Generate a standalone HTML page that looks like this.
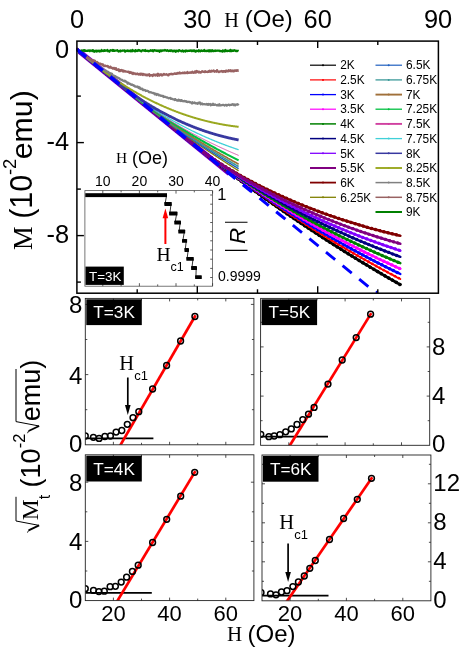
<!DOCTYPE html>
<html><head><meta charset="utf-8"><title>M(H) curves</title>
<style>html,body{margin:0;padding:0;background:#fff}svg{display:block;will-change:transform}</style></head>
<body>
<svg width="460" height="654" viewBox="0 0 460 654">
<rect width="460" height="654" fill="#fff"/>
<defs>
<clipPath id="cm"><rect x="76.9" y="41.1" width="361.5" height="252.1"/></clipPath>
</defs>
<g clip-path="url(#cm)" fill="none" stroke-linejoin="round">
<path d="M79.4,51.6 L229.4,173.6" stroke="#8000ff" stroke-width="5.2"/>
<path d="M79.4,51.6 L229.4,173.6" stroke="#800080" stroke-width="4.2"/>
<path d="M77.0,49.6 L78.6,50.9 L80.2,52.2 L81.9,53.6 L83.5,54.9 L85.1,56.2 L86.7,57.5 L88.4,58.9 L90.0,60.2 L91.6,61.5 L93.2,62.8 L94.9,64.1 L96.5,65.5 L98.1,66.8 L99.7,68.1 L101.4,69.4 L103.0,70.8 L104.6,72.1 L106.2,73.4 L107.9,74.7 L109.5,76.0 L111.1,77.4 L112.7,78.7 L114.4,80.0 L116.0,81.3 L117.6,82.7 L119.2,84.0 L120.9,85.3 L122.5,86.6 L124.1,87.9 L125.7,89.3 L127.4,90.6 L129.0,91.9 L130.6,93.2 L132.2,94.6 L133.9,95.9 L135.5,97.2 L137.1,98.5 L138.7,99.8 L140.4,101.2 L142.0,102.5 L143.6,103.8 L145.2,105.1 L146.9,106.5 L148.5,107.8 L150.1,109.1 L151.7,110.4 L153.4,111.7 L155.0,113.1 L156.6,114.4 L158.2,115.7 L159.9,117.0 L161.5,118.4 L163.1,119.7 L164.7,121.0 L166.4,122.3 L168.0,123.6 L169.6,125.0 L171.2,126.3 L172.8,127.6 L174.5,128.9 L176.1,130.2 L177.7,131.6 L179.3,132.9 L181.0,134.2 L182.6,135.5 L184.2,136.9 L185.8,138.2 L187.5,139.5 L189.1,140.8 L190.7,142.1 L192.3,143.5 L194.0,144.8 L195.6,146.1 L197.2,147.4 L198.8,148.7 L200.5,150.0 L202.1,151.2 L203.7,152.4 L205.3,153.5 L207.0,154.7 L208.6,155.8 L210.2,156.9 L211.8,158.0 L213.5,159.1 L215.1,160.2 L216.7,161.2 L218.3,162.3 L220.0,163.3 L221.6,164.3 L223.2,165.4 L224.8,166.4 L226.5,167.4 L228.1,168.3 L229.7,169.3 L231.3,170.3 L233.0,171.2 L234.6,172.2 L236.2,173.1 L237.8,174.1 L239.5,175.0 L241.1,175.9 L242.7,176.8 L244.3,177.7 L246.0,178.6 L247.6,179.5 L249.2,180.3 L250.8,181.2 L252.5,182.0 L254.1,182.9 L255.7,183.7 L257.3,184.6 L259.0,185.4 L260.6,186.2 L262.2,187.0 L263.8,187.8 L265.4,188.6 L267.1,189.4 L268.7,190.2 L270.3,191.0 L271.9,191.8 L273.6,192.5 L275.2,193.3 L276.8,194.1 L278.4,194.8 L280.1,195.5 L281.7,196.3 L283.3,197.0 L284.9,197.7 L286.6,198.4 L288.2,199.2 L289.8,199.9 L291.4,200.6 L293.1,201.2 L294.7,201.9 L296.3,202.6 L297.9,203.3 L299.6,204.0 L301.2,204.6 L302.8,205.3 L304.4,205.9 L306.1,206.6 L307.7,207.2 L309.3,207.9 L310.9,208.5 L312.6,209.1 L314.2,209.7 L315.8,210.4 L317.4,211.0 L319.1,211.6 L320.7,212.2 L322.3,212.8 L323.9,213.4 L325.6,213.9 L327.2,214.5 L328.8,215.1 L330.4,215.7 L332.1,216.2 L333.7,216.8 L335.3,217.3 L336.9,217.9 L338.6,218.4 L340.2,219.0 L341.8,219.5 L343.4,220.0 L345.1,220.6 L346.7,221.1 L348.3,221.6 L349.9,222.1 L351.5,222.6 L353.2,223.1 L354.8,223.6 L356.4,224.1 L358.0,224.6 L359.7,225.1 L361.3,225.6 L362.9,226.0 L364.5,226.5 L366.2,227.0 L367.8,227.4 L369.4,227.9 L371.0,228.3 L372.7,228.8 L374.3,229.2 L375.9,229.7 L377.5,230.1 L379.2,230.5 L380.8,231.0 L382.4,231.4 L384.0,231.8 L385.7,232.2 L387.3,232.6 L388.9,233.0 L390.5,233.4 L392.2,233.8 L393.8,234.2 L395.4,234.6 L397.0,235.0 L398.7,235.4 L400.3,235.7" stroke="#800000" stroke-width="2.6" stroke-linecap="round"/>
<path d="M77.0,49.6 L78.6,50.9 L80.2,52.2 L81.9,53.6 L83.5,54.9 L85.1,56.2 L86.7,57.5 L88.4,58.9 L90.0,60.2 L91.6,61.5 L93.2,62.8 L94.9,64.1 L96.5,65.5 L98.1,66.8 L99.7,68.1 L101.4,69.4 L103.0,70.8 L104.6,72.1 L106.2,73.4 L107.9,74.7 L109.5,76.0 L111.1,77.4 L112.7,78.7 L114.4,80.0 L116.0,81.3 L117.6,82.7 L119.2,84.0 L120.9,85.3 L122.5,86.6 L124.1,87.9 L125.7,89.3 L127.4,90.6 L129.0,91.9 L130.6,93.2 L132.2,94.6 L133.9,95.9 L135.5,97.2 L137.1,98.5 L138.7,99.8 L140.4,101.2 L142.0,102.5 L143.6,103.8 L145.2,105.1 L146.9,106.5 L148.5,107.8 L150.1,109.1 L151.7,110.4 L153.4,111.7 L155.0,113.1 L156.6,114.4 L158.2,115.7 L159.9,117.0 L161.5,118.4 L163.1,119.7 L164.7,121.0 L166.4,122.3 L168.0,123.6 L169.6,125.0 L171.2,126.3 L172.8,127.6 L174.5,128.9 L176.1,130.2 L177.7,131.6 L179.3,132.9 L181.0,134.2 L182.6,135.5 L184.2,136.9 L185.8,138.2 L187.5,139.5 L189.1,140.8 L190.7,142.1 L192.3,143.5 L194.0,144.8 L195.6,146.1 L197.2,147.4 L198.8,148.7 L200.5,150.0 L202.1,151.2 L203.7,152.4 L205.3,153.5 L207.0,154.7 L208.6,155.8 L210.2,156.9 L211.8,158.0 L213.5,159.1 L215.1,160.2 L216.7,161.2 L218.3,162.3 L220.0,163.3 L221.6,164.3 L223.2,165.4 L224.8,166.4 L226.5,167.4 L228.1,168.3 L229.7,169.3 L231.3,170.3 L233.0,171.2 L234.6,172.2 L236.2,173.1 L237.8,174.1 L239.5,175.0 L241.1,175.9 L242.7,176.8 L244.3,177.7 L246.0,178.6 L247.6,179.5 L249.2,180.3 L250.8,181.2 L252.5,182.0 L254.1,182.9 L255.7,183.7 L257.3,184.6 L259.0,185.4 L260.6,186.2 L262.2,187.0 L263.8,187.8 L265.4,188.6 L267.1,189.4 L268.7,190.2 L270.3,191.0 L271.9,191.8 L273.6,192.5 L275.2,193.3 L276.8,194.1 L278.4,194.8 L280.1,195.5 L281.7,196.3 L283.3,197.0 L284.9,197.7 L286.6,198.4 L288.2,199.2 L289.8,199.9 L291.4,200.6 L293.1,201.2 L294.7,201.9 L296.3,202.6 L297.9,203.3 L299.6,204.0 L301.2,204.6 L302.8,205.3 L304.4,205.9 L306.1,206.6 L307.7,207.2 L309.3,207.9 L310.9,208.5 L312.6,209.1 L314.2,209.7 L315.8,210.4 L317.4,211.0 L319.1,211.6 L320.7,212.2 L322.3,212.8 L323.9,213.4 L325.6,213.9 L327.2,214.5 L328.8,215.1 L330.4,215.7 L332.1,216.2 L333.7,216.8 L335.3,217.3 L336.9,217.9 L338.6,218.4 L340.2,219.0 L341.8,219.5 L343.4,220.0 L345.1,220.6 L346.7,221.1 L348.3,221.6 L349.9,222.1 L351.5,222.6 L353.2,223.1 L354.8,223.6 L356.4,224.1 L358.0,224.6 L359.7,225.1 L361.3,225.6 L362.9,226.0 L364.5,226.5 L366.2,227.0 L367.8,227.4 L369.4,227.9 L371.0,228.3 L372.7,228.8 L374.3,229.2 L375.9,229.7 L377.5,230.1 L379.2,230.5 L380.8,231.0 L382.4,231.4 L384.0,231.8 L385.7,232.2 L387.3,232.6 L388.9,233.0 L390.5,233.4 L392.2,233.8 L393.8,234.2 L395.4,234.6 L397.0,235.0 L398.7,235.4 L400.3,235.7" stroke="#800000" stroke-width="3.4" stroke-linecap="round" stroke-dasharray="0.1,4.2"/>
<path d="M77.0,49.6 L78.6,50.9 L80.2,52.2 L81.9,53.6 L83.5,54.9 L85.1,56.2 L86.7,57.5 L88.4,58.9 L90.0,60.2 L91.6,61.5 L93.2,62.8 L94.9,64.1 L96.5,65.5 L98.1,66.8 L99.7,68.1 L101.4,69.4 L103.0,70.8 L104.6,72.1 L106.2,73.4 L107.9,74.7 L109.5,76.0 L111.1,77.4 L112.7,78.7 L114.4,80.0 L116.0,81.3 L117.6,82.7 L119.2,84.0 L120.9,85.3 L122.5,86.6 L124.1,87.9 L125.7,89.3 L127.4,90.6 L129.0,91.9 L130.6,93.2 L132.2,94.6 L133.9,95.9 L135.5,97.2 L137.1,98.5 L138.7,99.8 L140.4,101.2 L142.0,102.5 L143.6,103.8 L145.2,105.1 L146.9,106.5 L148.5,107.8 L150.1,109.1 L151.7,110.4 L153.4,111.7 L155.0,113.1 L156.6,114.4 L158.2,115.7 L159.9,117.0 L161.5,118.4 L163.1,119.7 L164.7,121.0 L166.4,122.3 L168.0,123.6 L169.6,125.0 L171.2,126.3 L172.8,127.6 L174.5,128.9 L176.1,130.2 L177.7,131.6 L179.3,132.9 L181.0,134.2 L182.6,135.5 L184.2,136.9 L185.8,138.2 L187.5,139.5 L189.1,140.8 L190.7,142.1 L192.3,143.5 L194.0,144.8 L195.6,146.1 L197.2,147.4 L198.8,148.7 L200.5,150.0 L202.1,151.2 L203.7,152.5 L205.3,153.8 L207.0,155.1 L208.6,156.4 L210.2,157.6 L211.8,158.9 L213.5,160.1 L215.1,161.4 L216.7,162.7 L218.3,163.9 L220.0,165.2 L221.6,166.4 L223.2,167.6 L224.8,168.9 L226.5,170.1 L228.1,171.3 L229.7,172.6 L231.3,173.8 L233.0,175.0 L234.6,176.2 L236.2,177.4 L237.8,178.6 L239.5,179.8 L241.1,181.1 L242.7,182.3 L244.3,183.4 L246.0,184.6 L247.6,185.8 L249.2,187.0 L250.8,188.2 L252.5,189.4 L254.1,190.6 L255.7,191.7 L257.3,192.9 L259.0,194.1 L260.6,195.2 L262.2,196.4 L263.8,197.6 L265.4,198.7 L267.1,199.9 L268.7,201.0 L270.3,202.2 L271.9,203.3 L273.6,204.4 L275.2,205.6 L276.8,206.7 L278.4,207.9 L280.1,209.0 L281.7,210.1 L283.3,211.2 L284.9,212.3 L286.6,213.5 L288.2,214.6 L289.8,215.7 L291.4,216.8 L293.1,217.9 L294.7,219.0 L296.3,220.1 L297.9,221.2 L299.6,222.3 L301.2,223.4 L302.8,224.5 L304.4,225.6 L306.1,226.6 L307.7,227.7 L309.3,228.8 L310.9,229.9 L312.6,230.9 L314.2,232.0 L315.8,233.1 L317.4,234.1 L319.1,235.2 L320.7,236.3 L322.3,237.3 L323.9,238.4 L325.6,239.4 L327.2,240.5 L328.8,241.5 L330.4,242.5 L332.1,243.6 L333.7,244.6 L335.3,245.6 L336.9,246.7 L338.6,247.7 L340.2,248.7 L341.8,249.7 L343.4,250.8 L345.1,251.8 L346.7,252.8 L348.3,253.8 L349.9,254.8 L351.5,255.8 L353.2,256.8 L354.8,257.8 L356.4,258.8 L358.0,259.8 L359.7,260.8 L361.3,261.8 L362.9,262.8 L364.5,263.7 L366.2,264.7 L367.8,265.7 L369.4,266.7 L371.0,267.6 L372.7,268.6 L374.3,269.6 L375.9,270.5 L377.5,271.5 L379.2,272.5 L380.8,273.4 L382.4,274.4 L384.0,275.3 L385.7,276.3 L387.3,277.2 L388.9,278.2 L390.5,279.1 L392.2,280.0 L393.8,281.0 L395.4,281.9 L397.0,282.8 L398.7,283.8 L400.3,284.7" stroke="#000000" stroke-width="2.7" stroke-linecap="round"/>
<path d="M77.0,49.6 L78.6,50.9 L80.2,52.2 L81.9,53.6 L83.5,54.9 L85.1,56.2 L86.7,57.5 L88.4,58.9 L90.0,60.2 L91.6,61.5 L93.2,62.8 L94.9,64.1 L96.5,65.5 L98.1,66.8 L99.7,68.1 L101.4,69.4 L103.0,70.8 L104.6,72.1 L106.2,73.4 L107.9,74.7 L109.5,76.0 L111.1,77.4 L112.7,78.7 L114.4,80.0 L116.0,81.3 L117.6,82.7 L119.2,84.0 L120.9,85.3 L122.5,86.6 L124.1,87.9 L125.7,89.3 L127.4,90.6 L129.0,91.9 L130.6,93.2 L132.2,94.6 L133.9,95.9 L135.5,97.2 L137.1,98.5 L138.7,99.8 L140.4,101.2 L142.0,102.5 L143.6,103.8 L145.2,105.1 L146.9,106.5 L148.5,107.8 L150.1,109.1 L151.7,110.4 L153.4,111.7 L155.0,113.1 L156.6,114.4 L158.2,115.7 L159.9,117.0 L161.5,118.4 L163.1,119.7 L164.7,121.0 L166.4,122.3 L168.0,123.6 L169.6,125.0 L171.2,126.3 L172.8,127.6 L174.5,128.9 L176.1,130.2 L177.7,131.6 L179.3,132.9 L181.0,134.2 L182.6,135.5 L184.2,136.9 L185.8,138.2 L187.5,139.5 L189.1,140.8 L190.7,142.1 L192.3,143.5 L194.0,144.8 L195.6,146.1 L197.2,147.4 L198.8,148.7 L200.5,150.0 L202.1,151.2 L203.7,152.5 L205.3,153.8 L207.0,155.1 L208.6,156.4 L210.2,157.6 L211.8,158.9 L213.5,160.1 L215.1,161.4 L216.7,162.7 L218.3,163.9 L220.0,165.2 L221.6,166.4 L223.2,167.6 L224.8,168.9 L226.5,170.1 L228.1,171.3 L229.7,172.6 L231.3,173.8 L233.0,175.0 L234.6,176.2 L236.2,177.4 L237.8,178.6 L239.5,179.8 L241.1,181.1 L242.7,182.3 L244.3,183.4 L246.0,184.6 L247.6,185.8 L249.2,187.0 L250.8,188.2 L252.5,189.4 L254.1,190.6 L255.7,191.7 L257.3,192.9 L259.0,194.1 L260.6,195.2 L262.2,196.4 L263.8,197.6 L265.4,198.7 L267.1,199.9 L268.7,201.0 L270.3,202.2 L271.9,203.3 L273.6,204.4 L275.2,205.6 L276.8,206.7 L278.4,207.9 L280.1,209.0 L281.7,210.1 L283.3,211.2 L284.9,212.3 L286.6,213.5 L288.2,214.6 L289.8,215.7 L291.4,216.8 L293.1,217.9 L294.7,219.0 L296.3,220.1 L297.9,221.2 L299.6,222.3 L301.2,223.4 L302.8,224.5 L304.4,225.6 L306.1,226.6 L307.7,227.7 L309.3,228.8 L310.9,229.9 L312.6,230.9 L314.2,232.0 L315.8,233.1 L317.4,234.1 L319.1,235.2 L320.7,236.3 L322.3,237.3 L323.9,238.4 L325.6,239.4 L327.2,240.5 L328.8,241.5 L330.4,242.5 L332.1,243.6 L333.7,244.6 L335.3,245.6 L336.9,246.7 L338.6,247.7 L340.2,248.7 L341.8,249.7 L343.4,250.8 L345.1,251.8 L346.7,252.8 L348.3,253.8 L349.9,254.8 L351.5,255.8 L353.2,256.8 L354.8,257.8 L356.4,258.8 L358.0,259.8 L359.7,260.8 L361.3,261.8 L362.9,262.8 L364.5,263.7 L366.2,264.7 L367.8,265.7 L369.4,266.7 L371.0,267.6 L372.7,268.6 L374.3,269.6 L375.9,270.5 L377.5,271.5 L379.2,272.5 L380.8,273.4 L382.4,274.4 L384.0,275.3 L385.7,276.3 L387.3,277.2 L388.9,278.2 L390.5,279.1 L392.2,280.0 L393.8,281.0 L395.4,281.9 L397.0,282.8 L398.7,283.8 L400.3,284.7" stroke="#000000" stroke-width="3.5" stroke-linecap="round" stroke-dasharray="0.1,4.2"/>
<path d="M77.0,49.6 L78.6,50.9 L80.2,52.2 L81.9,53.6 L83.5,54.9 L85.1,56.2 L86.7,57.5 L88.4,58.9 L90.0,60.2 L91.6,61.5 L93.2,62.8 L94.9,64.1 L96.5,65.5 L98.1,66.8 L99.7,68.1 L101.4,69.4 L103.0,70.8 L104.6,72.1 L106.2,73.4 L107.9,74.7 L109.5,76.0 L111.1,77.4 L112.7,78.7 L114.4,80.0 L116.0,81.3 L117.6,82.7 L119.2,84.0 L120.9,85.3 L122.5,86.6 L124.1,87.9 L125.7,89.3 L127.4,90.6 L129.0,91.9 L130.6,93.2 L132.2,94.6 L133.9,95.9 L135.5,97.2 L137.1,98.5 L138.7,99.8 L140.4,101.2 L142.0,102.5 L143.6,103.8 L145.2,105.1 L146.9,106.5 L148.5,107.8 L150.1,109.1 L151.7,110.4 L153.4,111.7 L155.0,113.1 L156.6,114.4 L158.2,115.7 L159.9,117.0 L161.5,118.4 L163.1,119.7 L164.7,121.0 L166.4,122.3 L168.0,123.6 L169.6,125.0 L171.2,126.3 L172.8,127.6 L174.5,128.9 L176.1,130.2 L177.7,131.6 L179.3,132.9 L181.0,134.2 L182.6,135.5 L184.2,136.9 L185.8,138.2 L187.5,139.5 L189.1,140.8 L190.7,142.1 L192.3,143.5 L194.0,144.8 L195.6,146.1 L197.2,147.4 L198.8,148.7 L200.5,149.9 L202.1,151.2 L203.7,152.5 L205.3,153.8 L207.0,155.0 L208.6,156.3 L210.2,157.5 L211.8,158.8 L213.5,160.0 L215.1,161.3 L216.7,162.5 L218.3,163.7 L220.0,165.0 L221.6,166.2 L223.2,167.4 L224.8,168.6 L226.5,169.8 L228.1,171.0 L229.7,172.3 L231.3,173.5 L233.0,174.6 L234.6,175.8 L236.2,177.0 L237.8,178.2 L239.5,179.4 L241.1,180.6 L242.7,181.7 L244.3,182.9 L246.0,184.1 L247.6,185.2 L249.2,186.4 L250.8,187.5 L252.5,188.7 L254.1,189.8 L255.7,191.0 L257.3,192.1 L259.0,193.2 L260.6,194.4 L262.2,195.5 L263.8,196.6 L265.4,197.7 L267.1,198.8 L268.7,200.0 L270.3,201.1 L271.9,202.2 L273.6,203.3 L275.2,204.4 L276.8,205.5 L278.4,206.5 L280.1,207.6 L281.7,208.7 L283.3,209.8 L284.9,210.9 L286.6,211.9 L288.2,213.0 L289.8,214.1 L291.4,215.1 L293.1,216.2 L294.7,217.3 L296.3,218.3 L297.9,219.4 L299.6,220.4 L301.2,221.4 L302.8,222.5 L304.4,223.5 L306.1,224.6 L307.7,225.6 L309.3,226.6 L310.9,227.6 L312.6,228.7 L314.2,229.7 L315.8,230.7 L317.4,231.7 L319.1,232.7 L320.7,233.7 L322.3,234.7 L323.9,235.7 L325.6,236.7 L327.2,237.7 L328.8,238.7 L330.4,239.6 L332.1,240.6 L333.7,241.6 L335.3,242.6 L336.9,243.6 L338.6,244.5 L340.2,245.5 L341.8,246.4 L343.4,247.4 L345.1,248.4 L346.7,249.3 L348.3,250.3 L349.9,251.2 L351.5,252.1 L353.2,253.1 L354.8,254.0 L356.4,255.0 L358.0,255.9 L359.7,256.8 L361.3,257.7 L362.9,258.7 L364.5,259.6 L366.2,260.5 L367.8,261.4 L369.4,262.3 L371.0,263.2 L372.7,264.1 L374.3,265.0 L375.9,265.9 L377.5,266.8 L379.2,267.7 L380.8,268.6 L382.4,269.5 L384.0,270.3 L385.7,271.2 L387.3,272.1 L388.9,273.0 L390.5,273.8 L392.2,274.7 L393.8,275.6 L395.4,276.4 L397.0,277.3 L398.7,278.1 L400.3,279.0" stroke="#ff0000" stroke-width="1.9" stroke-linecap="round"/>
<path d="M77.0,49.6 L78.6,50.9 L80.2,52.2 L81.9,53.6 L83.5,54.9 L85.1,56.2 L86.7,57.5 L88.4,58.9 L90.0,60.2 L91.6,61.5 L93.2,62.8 L94.9,64.1 L96.5,65.5 L98.1,66.8 L99.7,68.1 L101.4,69.4 L103.0,70.8 L104.6,72.1 L106.2,73.4 L107.9,74.7 L109.5,76.0 L111.1,77.4 L112.7,78.7 L114.4,80.0 L116.0,81.3 L117.6,82.7 L119.2,84.0 L120.9,85.3 L122.5,86.6 L124.1,87.9 L125.7,89.3 L127.4,90.6 L129.0,91.9 L130.6,93.2 L132.2,94.6 L133.9,95.9 L135.5,97.2 L137.1,98.5 L138.7,99.8 L140.4,101.2 L142.0,102.5 L143.6,103.8 L145.2,105.1 L146.9,106.5 L148.5,107.8 L150.1,109.1 L151.7,110.4 L153.4,111.7 L155.0,113.1 L156.6,114.4 L158.2,115.7 L159.9,117.0 L161.5,118.4 L163.1,119.7 L164.7,121.0 L166.4,122.3 L168.0,123.6 L169.6,125.0 L171.2,126.3 L172.8,127.6 L174.5,128.9 L176.1,130.2 L177.7,131.6 L179.3,132.9 L181.0,134.2 L182.6,135.5 L184.2,136.9 L185.8,138.2 L187.5,139.5 L189.1,140.8 L190.7,142.1 L192.3,143.5 L194.0,144.8 L195.6,146.1 L197.2,147.4 L198.8,148.7 L200.5,149.9 L202.1,151.2 L203.7,152.5 L205.3,153.8 L207.0,155.0 L208.6,156.3 L210.2,157.5 L211.8,158.8 L213.5,160.0 L215.1,161.3 L216.7,162.5 L218.3,163.7 L220.0,165.0 L221.6,166.2 L223.2,167.4 L224.8,168.6 L226.5,169.8 L228.1,171.0 L229.7,172.3 L231.3,173.5 L233.0,174.6 L234.6,175.8 L236.2,177.0 L237.8,178.2 L239.5,179.4 L241.1,180.6 L242.7,181.7 L244.3,182.9 L246.0,184.1 L247.6,185.2 L249.2,186.4 L250.8,187.5 L252.5,188.7 L254.1,189.8 L255.7,191.0 L257.3,192.1 L259.0,193.2 L260.6,194.4 L262.2,195.5 L263.8,196.6 L265.4,197.7 L267.1,198.8 L268.7,200.0 L270.3,201.1 L271.9,202.2 L273.6,203.3 L275.2,204.4 L276.8,205.5 L278.4,206.5 L280.1,207.6 L281.7,208.7 L283.3,209.8 L284.9,210.9 L286.6,211.9 L288.2,213.0 L289.8,214.1 L291.4,215.1 L293.1,216.2 L294.7,217.3 L296.3,218.3 L297.9,219.4 L299.6,220.4 L301.2,221.4 L302.8,222.5 L304.4,223.5 L306.1,224.6 L307.7,225.6 L309.3,226.6 L310.9,227.6 L312.6,228.7 L314.2,229.7 L315.8,230.7 L317.4,231.7 L319.1,232.7 L320.7,233.7 L322.3,234.7 L323.9,235.7 L325.6,236.7 L327.2,237.7 L328.8,238.7 L330.4,239.6 L332.1,240.6 L333.7,241.6 L335.3,242.6 L336.9,243.6 L338.6,244.5 L340.2,245.5 L341.8,246.4 L343.4,247.4 L345.1,248.4 L346.7,249.3 L348.3,250.3 L349.9,251.2 L351.5,252.1 L353.2,253.1 L354.8,254.0 L356.4,255.0 L358.0,255.9 L359.7,256.8 L361.3,257.7 L362.9,258.7 L364.5,259.6 L366.2,260.5 L367.8,261.4 L369.4,262.3 L371.0,263.2 L372.7,264.1 L374.3,265.0 L375.9,265.9 L377.5,266.8 L379.2,267.7 L380.8,268.6 L382.4,269.5 L384.0,270.3 L385.7,271.2 L387.3,272.1 L388.9,273.0 L390.5,273.8 L392.2,274.7 L393.8,275.6 L395.4,276.4 L397.0,277.3 L398.7,278.1 L400.3,279.0" stroke="#ff0000" stroke-width="2.7" stroke-linecap="round" stroke-dasharray="0.1,4.2"/>
<path d="M77.0,49.6 L78.6,50.9 L80.2,52.2 L81.9,53.6 L83.5,54.9 L85.1,56.2 L86.7,57.5 L88.4,58.9 L90.0,60.2 L91.6,61.5 L93.2,62.8 L94.9,64.1 L96.5,65.5 L98.1,66.8 L99.7,68.1 L101.4,69.4 L103.0,70.8 L104.6,72.1 L106.2,73.4 L107.9,74.7 L109.5,76.0 L111.1,77.4 L112.7,78.7 L114.4,80.0 L116.0,81.3 L117.6,82.7 L119.2,84.0 L120.9,85.3 L122.5,86.6 L124.1,87.9 L125.7,89.3 L127.4,90.6 L129.0,91.9 L130.6,93.2 L132.2,94.6 L133.9,95.9 L135.5,97.2 L137.1,98.5 L138.7,99.8 L140.4,101.2 L142.0,102.5 L143.6,103.8 L145.2,105.1 L146.9,106.5 L148.5,107.8 L150.1,109.1 L151.7,110.4 L153.4,111.7 L155.0,113.1 L156.6,114.4 L158.2,115.7 L159.9,117.0 L161.5,118.4 L163.1,119.7 L164.7,121.0 L166.4,122.3 L168.0,123.6 L169.6,125.0 L171.2,126.3 L172.8,127.6 L174.5,128.9 L176.1,130.2 L177.7,131.6 L179.3,132.9 L181.0,134.2 L182.6,135.5 L184.2,136.9 L185.8,138.2 L187.5,139.5 L189.1,140.8 L190.7,142.1 L192.3,143.5 L194.0,144.8 L195.6,146.1 L197.2,147.4 L198.8,148.7 L200.5,149.9 L202.1,151.2 L203.7,152.5 L205.3,153.7 L207.0,155.0 L208.6,156.2 L210.2,157.5 L211.8,158.7 L213.5,159.9 L215.1,161.2 L216.7,162.4 L218.3,163.6 L220.0,164.8 L221.6,166.0 L223.2,167.2 L224.8,168.4 L226.5,169.6 L228.1,170.8 L229.7,172.0 L231.3,173.1 L233.0,174.3 L234.6,175.5 L236.2,176.6 L237.8,177.8 L239.5,178.9 L241.1,180.1 L242.7,181.2 L244.3,182.4 L246.0,183.5 L247.6,184.6 L249.2,185.8 L250.8,186.9 L252.5,188.0 L254.1,189.1 L255.7,190.2 L257.3,191.3 L259.0,192.4 L260.6,193.5 L262.2,194.6 L263.8,195.7 L265.4,196.8 L267.1,197.9 L268.7,199.0 L270.3,200.0 L271.9,201.1 L273.6,202.2 L275.2,203.2 L276.8,204.3 L278.4,205.3 L280.1,206.4 L281.7,207.4 L283.3,208.5 L284.9,209.5 L286.6,210.5 L288.2,211.6 L289.8,212.6 L291.4,213.6 L293.1,214.6 L294.7,215.7 L296.3,216.7 L297.9,217.7 L299.6,218.7 L301.2,219.7 L302.8,220.7 L304.4,221.7 L306.1,222.7 L307.7,223.6 L309.3,224.6 L310.9,225.6 L312.6,226.6 L314.2,227.5 L315.8,228.5 L317.4,229.5 L319.1,230.4 L320.7,231.4 L322.3,232.3 L323.9,233.3 L325.6,234.2 L327.2,235.2 L328.8,236.1 L330.4,237.0 L332.1,238.0 L333.7,238.9 L335.3,239.8 L336.9,240.7 L338.6,241.7 L340.2,242.6 L341.8,243.5 L343.4,244.4 L345.1,245.3 L346.7,246.2 L348.3,247.1 L349.9,248.0 L351.5,248.9 L353.2,249.8 L354.8,250.6 L356.4,251.5 L358.0,252.4 L359.7,253.3 L361.3,254.1 L362.9,255.0 L364.5,255.9 L366.2,256.7 L367.8,257.6 L369.4,258.4 L371.0,259.3 L372.7,260.1 L374.3,261.0 L375.9,261.8 L377.5,262.7 L379.2,263.5 L380.8,264.3 L382.4,265.1 L384.0,266.0 L385.7,266.8 L387.3,267.6 L388.9,268.4 L390.5,269.2 L392.2,270.0 L393.8,270.8 L395.4,271.6 L397.0,272.4 L398.7,273.2 L400.3,274.0" stroke="#0000ff" stroke-width="2.5" stroke-linecap="round"/>
<path d="M77.0,49.6 L78.6,50.9 L80.2,52.2 L81.9,53.6 L83.5,54.9 L85.1,56.2 L86.7,57.5 L88.4,58.9 L90.0,60.2 L91.6,61.5 L93.2,62.8 L94.9,64.1 L96.5,65.5 L98.1,66.8 L99.7,68.1 L101.4,69.4 L103.0,70.8 L104.6,72.1 L106.2,73.4 L107.9,74.7 L109.5,76.0 L111.1,77.4 L112.7,78.7 L114.4,80.0 L116.0,81.3 L117.6,82.7 L119.2,84.0 L120.9,85.3 L122.5,86.6 L124.1,87.9 L125.7,89.3 L127.4,90.6 L129.0,91.9 L130.6,93.2 L132.2,94.6 L133.9,95.9 L135.5,97.2 L137.1,98.5 L138.7,99.8 L140.4,101.2 L142.0,102.5 L143.6,103.8 L145.2,105.1 L146.9,106.5 L148.5,107.8 L150.1,109.1 L151.7,110.4 L153.4,111.7 L155.0,113.1 L156.6,114.4 L158.2,115.7 L159.9,117.0 L161.5,118.4 L163.1,119.7 L164.7,121.0 L166.4,122.3 L168.0,123.6 L169.6,125.0 L171.2,126.3 L172.8,127.6 L174.5,128.9 L176.1,130.2 L177.7,131.6 L179.3,132.9 L181.0,134.2 L182.6,135.5 L184.2,136.9 L185.8,138.2 L187.5,139.5 L189.1,140.8 L190.7,142.1 L192.3,143.5 L194.0,144.8 L195.6,146.1 L197.2,147.4 L198.8,148.7 L200.5,149.9 L202.1,151.2 L203.7,152.5 L205.3,153.7 L207.0,155.0 L208.6,156.2 L210.2,157.5 L211.8,158.7 L213.5,159.9 L215.1,161.2 L216.7,162.4 L218.3,163.6 L220.0,164.8 L221.6,166.0 L223.2,167.2 L224.8,168.4 L226.5,169.6 L228.1,170.8 L229.7,172.0 L231.3,173.1 L233.0,174.3 L234.6,175.5 L236.2,176.6 L237.8,177.8 L239.5,178.9 L241.1,180.1 L242.7,181.2 L244.3,182.4 L246.0,183.5 L247.6,184.6 L249.2,185.8 L250.8,186.9 L252.5,188.0 L254.1,189.1 L255.7,190.2 L257.3,191.3 L259.0,192.4 L260.6,193.5 L262.2,194.6 L263.8,195.7 L265.4,196.8 L267.1,197.9 L268.7,199.0 L270.3,200.0 L271.9,201.1 L273.6,202.2 L275.2,203.2 L276.8,204.3 L278.4,205.3 L280.1,206.4 L281.7,207.4 L283.3,208.5 L284.9,209.5 L286.6,210.5 L288.2,211.6 L289.8,212.6 L291.4,213.6 L293.1,214.6 L294.7,215.7 L296.3,216.7 L297.9,217.7 L299.6,218.7 L301.2,219.7 L302.8,220.7 L304.4,221.7 L306.1,222.7 L307.7,223.6 L309.3,224.6 L310.9,225.6 L312.6,226.6 L314.2,227.5 L315.8,228.5 L317.4,229.5 L319.1,230.4 L320.7,231.4 L322.3,232.3 L323.9,233.3 L325.6,234.2 L327.2,235.2 L328.8,236.1 L330.4,237.0 L332.1,238.0 L333.7,238.9 L335.3,239.8 L336.9,240.7 L338.6,241.7 L340.2,242.6 L341.8,243.5 L343.4,244.4 L345.1,245.3 L346.7,246.2 L348.3,247.1 L349.9,248.0 L351.5,248.9 L353.2,249.8 L354.8,250.6 L356.4,251.5 L358.0,252.4 L359.7,253.3 L361.3,254.1 L362.9,255.0 L364.5,255.9 L366.2,256.7 L367.8,257.6 L369.4,258.4 L371.0,259.3 L372.7,260.1 L374.3,261.0 L375.9,261.8 L377.5,262.7 L379.2,263.5 L380.8,264.3 L382.4,265.1 L384.0,266.0 L385.7,266.8 L387.3,267.6 L388.9,268.4 L390.5,269.2 L392.2,270.0 L393.8,270.8 L395.4,271.6 L397.0,272.4 L398.7,273.2 L400.3,274.0" stroke="#0000ff" stroke-width="3.3" stroke-linecap="round" stroke-dasharray="0.1,4.2"/>
<path d="M77.0,49.6 L78.6,50.9 L80.2,52.2 L81.9,53.6 L83.5,54.9 L85.1,56.2 L86.7,57.5 L88.4,58.9 L90.0,60.2 L91.6,61.5 L93.2,62.8 L94.9,64.1 L96.5,65.5 L98.1,66.8 L99.7,68.1 L101.4,69.4 L103.0,70.8 L104.6,72.1 L106.2,73.4 L107.9,74.7 L109.5,76.0 L111.1,77.4 L112.7,78.7 L114.4,80.0 L116.0,81.3 L117.6,82.7 L119.2,84.0 L120.9,85.3 L122.5,86.6 L124.1,87.9 L125.7,89.3 L127.4,90.6 L129.0,91.9 L130.6,93.2 L132.2,94.6 L133.9,95.9 L135.5,97.2 L137.1,98.5 L138.7,99.8 L140.4,101.2 L142.0,102.5 L143.6,103.8 L145.2,105.1 L146.9,106.5 L148.5,107.8 L150.1,109.1 L151.7,110.4 L153.4,111.7 L155.0,113.1 L156.6,114.4 L158.2,115.7 L159.9,117.0 L161.5,118.4 L163.1,119.7 L164.7,121.0 L166.4,122.3 L168.0,123.6 L169.6,125.0 L171.2,126.3 L172.8,127.6 L174.5,128.9 L176.1,130.2 L177.7,131.6 L179.3,132.9 L181.0,134.2 L182.6,135.5 L184.2,136.9 L185.8,138.2 L187.5,139.5 L189.1,140.8 L190.7,142.1 L192.3,143.5 L194.0,144.8 L195.6,146.1 L197.2,147.4 L198.8,148.7 L200.5,149.9 L202.1,151.2 L203.7,152.4 L205.3,153.7 L207.0,154.9 L208.6,156.2 L210.2,157.4 L211.8,158.6 L213.5,159.8 L215.1,161.0 L216.7,162.2 L218.3,163.4 L220.0,164.6 L221.6,165.8 L223.2,167.0 L224.8,168.2 L226.5,169.3 L228.1,170.5 L229.7,171.6 L231.3,172.8 L233.0,173.9 L234.6,175.1 L236.2,176.2 L237.8,177.3 L239.5,178.5 L241.1,179.6 L242.7,180.7 L244.3,181.8 L246.0,182.9 L247.6,184.0 L249.2,185.1 L250.8,186.2 L252.5,187.3 L254.1,188.4 L255.7,189.4 L257.3,190.5 L259.0,191.6 L260.6,192.6 L262.2,193.7 L263.8,194.7 L265.4,195.8 L267.1,196.8 L268.7,197.9 L270.3,198.9 L271.9,199.9 L273.6,201.0 L275.2,202.0 L276.8,203.0 L278.4,204.0 L280.1,205.0 L281.7,206.0 L283.3,207.0 L284.9,208.0 L286.6,209.0 L288.2,210.0 L289.8,211.0 L291.4,212.0 L293.1,212.9 L294.7,213.9 L296.3,214.9 L297.9,215.9 L299.6,216.8 L301.2,217.8 L302.8,218.7 L304.4,219.7 L306.1,220.6 L307.7,221.5 L309.3,222.5 L310.9,223.4 L312.6,224.3 L314.2,225.3 L315.8,226.2 L317.4,227.1 L319.1,228.0 L320.7,228.9 L322.3,229.8 L323.9,230.7 L325.6,231.6 L327.2,232.5 L328.8,233.4 L330.4,234.3 L332.1,235.1 L333.7,236.0 L335.3,236.9 L336.9,237.8 L338.6,238.6 L340.2,239.5 L341.8,240.3 L343.4,241.2 L345.1,242.1 L346.7,242.9 L348.3,243.7 L349.9,244.6 L351.5,245.4 L353.2,246.2 L354.8,247.1 L356.4,247.9 L358.0,248.7 L359.7,249.5 L361.3,250.3 L362.9,251.2 L364.5,252.0 L366.2,252.8 L367.8,253.6 L369.4,254.4 L371.0,255.2 L372.7,255.9 L374.3,256.7 L375.9,257.5 L377.5,258.3 L379.2,259.1 L380.8,259.8 L382.4,260.6 L384.0,261.4 L385.7,262.1 L387.3,262.9 L388.9,263.6 L390.5,264.4 L392.2,265.1 L393.8,265.9 L395.4,266.6 L397.0,267.4 L398.7,268.1 L400.3,268.8" stroke="#ff00ff" stroke-width="2.5" stroke-linecap="round"/>
<path d="M77.0,49.6 L78.6,50.9 L80.2,52.2 L81.9,53.6 L83.5,54.9 L85.1,56.2 L86.7,57.5 L88.4,58.9 L90.0,60.2 L91.6,61.5 L93.2,62.8 L94.9,64.1 L96.5,65.5 L98.1,66.8 L99.7,68.1 L101.4,69.4 L103.0,70.8 L104.6,72.1 L106.2,73.4 L107.9,74.7 L109.5,76.0 L111.1,77.4 L112.7,78.7 L114.4,80.0 L116.0,81.3 L117.6,82.7 L119.2,84.0 L120.9,85.3 L122.5,86.6 L124.1,87.9 L125.7,89.3 L127.4,90.6 L129.0,91.9 L130.6,93.2 L132.2,94.6 L133.9,95.9 L135.5,97.2 L137.1,98.5 L138.7,99.8 L140.4,101.2 L142.0,102.5 L143.6,103.8 L145.2,105.1 L146.9,106.5 L148.5,107.8 L150.1,109.1 L151.7,110.4 L153.4,111.7 L155.0,113.1 L156.6,114.4 L158.2,115.7 L159.9,117.0 L161.5,118.4 L163.1,119.7 L164.7,121.0 L166.4,122.3 L168.0,123.6 L169.6,125.0 L171.2,126.3 L172.8,127.6 L174.5,128.9 L176.1,130.2 L177.7,131.6 L179.3,132.9 L181.0,134.2 L182.6,135.5 L184.2,136.9 L185.8,138.2 L187.5,139.5 L189.1,140.8 L190.7,142.1 L192.3,143.5 L194.0,144.8 L195.6,146.1 L197.2,147.4 L198.8,148.7 L200.5,149.9 L202.1,151.2 L203.7,152.4 L205.3,153.7 L207.0,154.9 L208.6,156.2 L210.2,157.4 L211.8,158.6 L213.5,159.8 L215.1,161.0 L216.7,162.2 L218.3,163.4 L220.0,164.6 L221.6,165.8 L223.2,167.0 L224.8,168.2 L226.5,169.3 L228.1,170.5 L229.7,171.6 L231.3,172.8 L233.0,173.9 L234.6,175.1 L236.2,176.2 L237.8,177.3 L239.5,178.5 L241.1,179.6 L242.7,180.7 L244.3,181.8 L246.0,182.9 L247.6,184.0 L249.2,185.1 L250.8,186.2 L252.5,187.3 L254.1,188.4 L255.7,189.4 L257.3,190.5 L259.0,191.6 L260.6,192.6 L262.2,193.7 L263.8,194.7 L265.4,195.8 L267.1,196.8 L268.7,197.9 L270.3,198.9 L271.9,199.9 L273.6,201.0 L275.2,202.0 L276.8,203.0 L278.4,204.0 L280.1,205.0 L281.7,206.0 L283.3,207.0 L284.9,208.0 L286.6,209.0 L288.2,210.0 L289.8,211.0 L291.4,212.0 L293.1,212.9 L294.7,213.9 L296.3,214.9 L297.9,215.9 L299.6,216.8 L301.2,217.8 L302.8,218.7 L304.4,219.7 L306.1,220.6 L307.7,221.5 L309.3,222.5 L310.9,223.4 L312.6,224.3 L314.2,225.3 L315.8,226.2 L317.4,227.1 L319.1,228.0 L320.7,228.9 L322.3,229.8 L323.9,230.7 L325.6,231.6 L327.2,232.5 L328.8,233.4 L330.4,234.3 L332.1,235.1 L333.7,236.0 L335.3,236.9 L336.9,237.8 L338.6,238.6 L340.2,239.5 L341.8,240.3 L343.4,241.2 L345.1,242.1 L346.7,242.9 L348.3,243.7 L349.9,244.6 L351.5,245.4 L353.2,246.2 L354.8,247.1 L356.4,247.9 L358.0,248.7 L359.7,249.5 L361.3,250.3 L362.9,251.2 L364.5,252.0 L366.2,252.8 L367.8,253.6 L369.4,254.4 L371.0,255.2 L372.7,255.9 L374.3,256.7 L375.9,257.5 L377.5,258.3 L379.2,259.1 L380.8,259.8 L382.4,260.6 L384.0,261.4 L385.7,262.1 L387.3,262.9 L388.9,263.6 L390.5,264.4 L392.2,265.1 L393.8,265.9 L395.4,266.6 L397.0,267.4 L398.7,268.1 L400.3,268.8" stroke="#ff00ff" stroke-width="3.3" stroke-linecap="round" stroke-dasharray="0.1,4.2"/>
<path d="M77.0,49.6 L78.6,50.9 L80.2,52.2 L81.9,53.6 L83.5,54.9 L85.1,56.2 L86.7,57.5 L88.4,58.9 L90.0,60.2 L91.6,61.5 L93.2,62.8 L94.9,64.1 L96.5,65.5 L98.1,66.8 L99.7,68.1 L101.4,69.4 L103.0,70.8 L104.6,72.1 L106.2,73.4 L107.9,74.7 L109.5,76.0 L111.1,77.4 L112.7,78.7 L114.4,80.0 L116.0,81.3 L117.6,82.7 L119.2,84.0 L120.9,85.3 L122.5,86.6 L124.1,87.9 L125.7,89.3 L127.4,90.6 L129.0,91.9 L130.6,93.2 L132.2,94.6 L133.9,95.9 L135.5,97.2 L137.1,98.5 L138.7,99.8 L140.4,101.2 L142.0,102.5 L143.6,103.8 L145.2,105.1 L146.9,106.5 L148.5,107.8 L150.1,109.1 L151.7,110.4 L153.4,111.7 L155.0,113.1 L156.6,114.4 L158.2,115.7 L159.9,117.0 L161.5,118.4 L163.1,119.7 L164.7,121.0 L166.4,122.3 L168.0,123.6 L169.6,125.0 L171.2,126.3 L172.8,127.6 L174.5,128.9 L176.1,130.2 L177.7,131.6 L179.3,132.9 L181.0,134.2 L182.6,135.5 L184.2,136.9 L185.8,138.2 L187.5,139.5 L189.1,140.8 L190.7,142.1 L192.3,143.5 L194.0,144.8 L195.6,146.1 L197.2,147.4 L198.8,148.7 L200.5,149.9 L202.1,151.2 L203.7,152.4 L205.3,153.6 L207.0,154.9 L208.6,156.1 L210.2,157.3 L211.8,158.5 L213.5,159.7 L215.1,160.9 L216.7,162.1 L218.3,163.2 L220.0,164.4 L221.6,165.6 L223.2,166.7 L224.8,167.9 L226.5,169.0 L228.1,170.1 L229.7,171.3 L231.3,172.4 L233.0,173.5 L234.6,174.6 L236.2,175.7 L237.8,176.8 L239.5,177.9 L241.1,179.0 L242.7,180.1 L244.3,181.2 L246.0,182.2 L247.6,183.3 L249.2,184.4 L250.8,185.4 L252.5,186.5 L254.1,187.5 L255.7,188.5 L257.3,189.6 L259.0,190.6 L260.6,191.6 L262.2,192.6 L263.8,193.7 L265.4,194.7 L267.1,195.7 L268.7,196.7 L270.3,197.7 L271.9,198.6 L273.6,199.6 L275.2,200.6 L276.8,201.6 L278.4,202.5 L280.1,203.5 L281.7,204.5 L283.3,205.4 L284.9,206.4 L286.6,207.3 L288.2,208.3 L289.8,209.2 L291.4,210.1 L293.1,211.1 L294.7,212.0 L296.3,212.9 L297.9,213.8 L299.6,214.7 L301.2,215.6 L302.8,216.5 L304.4,217.4 L306.1,218.3 L307.7,219.2 L309.3,220.1 L310.9,221.0 L312.6,221.8 L314.2,222.7 L315.8,223.6 L317.4,224.4 L319.1,225.3 L320.7,226.2 L322.3,227.0 L323.9,227.8 L325.6,228.7 L327.2,229.5 L328.8,230.4 L330.4,231.2 L332.1,232.0 L333.7,232.8 L335.3,233.6 L336.9,234.5 L338.6,235.3 L340.2,236.1 L341.8,236.9 L343.4,237.7 L345.1,238.5 L346.7,239.3 L348.3,240.0 L349.9,240.8 L351.5,241.6 L353.2,242.4 L354.8,243.1 L356.4,243.9 L358.0,244.7 L359.7,245.4 L361.3,246.2 L362.9,246.9 L364.5,247.7 L366.2,248.4 L367.8,249.2 L369.4,249.9 L371.0,250.6 L372.7,251.3 L374.3,252.1 L375.9,252.8 L377.5,253.5 L379.2,254.2 L380.8,254.9 L382.4,255.6 L384.0,256.3 L385.7,257.0 L387.3,257.7 L388.9,258.4 L390.5,259.1 L392.2,259.8 L393.8,260.5 L395.4,261.1 L397.0,261.8 L398.7,262.5 L400.3,263.1" stroke="#008000" stroke-width="2.5" stroke-linecap="round"/>
<path d="M77.0,49.6 L78.6,50.9 L80.2,52.2 L81.9,53.6 L83.5,54.9 L85.1,56.2 L86.7,57.5 L88.4,58.9 L90.0,60.2 L91.6,61.5 L93.2,62.8 L94.9,64.1 L96.5,65.5 L98.1,66.8 L99.7,68.1 L101.4,69.4 L103.0,70.8 L104.6,72.1 L106.2,73.4 L107.9,74.7 L109.5,76.0 L111.1,77.4 L112.7,78.7 L114.4,80.0 L116.0,81.3 L117.6,82.7 L119.2,84.0 L120.9,85.3 L122.5,86.6 L124.1,87.9 L125.7,89.3 L127.4,90.6 L129.0,91.9 L130.6,93.2 L132.2,94.6 L133.9,95.9 L135.5,97.2 L137.1,98.5 L138.7,99.8 L140.4,101.2 L142.0,102.5 L143.6,103.8 L145.2,105.1 L146.9,106.5 L148.5,107.8 L150.1,109.1 L151.7,110.4 L153.4,111.7 L155.0,113.1 L156.6,114.4 L158.2,115.7 L159.9,117.0 L161.5,118.4 L163.1,119.7 L164.7,121.0 L166.4,122.3 L168.0,123.6 L169.6,125.0 L171.2,126.3 L172.8,127.6 L174.5,128.9 L176.1,130.2 L177.7,131.6 L179.3,132.9 L181.0,134.2 L182.6,135.5 L184.2,136.9 L185.8,138.2 L187.5,139.5 L189.1,140.8 L190.7,142.1 L192.3,143.5 L194.0,144.8 L195.6,146.1 L197.2,147.4 L198.8,148.7 L200.5,149.9 L202.1,151.2 L203.7,152.4 L205.3,153.6 L207.0,154.9 L208.6,156.1 L210.2,157.3 L211.8,158.5 L213.5,159.7 L215.1,160.9 L216.7,162.1 L218.3,163.2 L220.0,164.4 L221.6,165.6 L223.2,166.7 L224.8,167.9 L226.5,169.0 L228.1,170.1 L229.7,171.3 L231.3,172.4 L233.0,173.5 L234.6,174.6 L236.2,175.7 L237.8,176.8 L239.5,177.9 L241.1,179.0 L242.7,180.1 L244.3,181.2 L246.0,182.2 L247.6,183.3 L249.2,184.4 L250.8,185.4 L252.5,186.5 L254.1,187.5 L255.7,188.5 L257.3,189.6 L259.0,190.6 L260.6,191.6 L262.2,192.6 L263.8,193.7 L265.4,194.7 L267.1,195.7 L268.7,196.7 L270.3,197.7 L271.9,198.6 L273.6,199.6 L275.2,200.6 L276.8,201.6 L278.4,202.5 L280.1,203.5 L281.7,204.5 L283.3,205.4 L284.9,206.4 L286.6,207.3 L288.2,208.3 L289.8,209.2 L291.4,210.1 L293.1,211.1 L294.7,212.0 L296.3,212.9 L297.9,213.8 L299.6,214.7 L301.2,215.6 L302.8,216.5 L304.4,217.4 L306.1,218.3 L307.7,219.2 L309.3,220.1 L310.9,221.0 L312.6,221.8 L314.2,222.7 L315.8,223.6 L317.4,224.4 L319.1,225.3 L320.7,226.2 L322.3,227.0 L323.9,227.8 L325.6,228.7 L327.2,229.5 L328.8,230.4 L330.4,231.2 L332.1,232.0 L333.7,232.8 L335.3,233.6 L336.9,234.5 L338.6,235.3 L340.2,236.1 L341.8,236.9 L343.4,237.7 L345.1,238.5 L346.7,239.3 L348.3,240.0 L349.9,240.8 L351.5,241.6 L353.2,242.4 L354.8,243.1 L356.4,243.9 L358.0,244.7 L359.7,245.4 L361.3,246.2 L362.9,246.9 L364.5,247.7 L366.2,248.4 L367.8,249.2 L369.4,249.9 L371.0,250.6 L372.7,251.3 L374.3,252.1 L375.9,252.8 L377.5,253.5 L379.2,254.2 L380.8,254.9 L382.4,255.6 L384.0,256.3 L385.7,257.0 L387.3,257.7 L388.9,258.4 L390.5,259.1 L392.2,259.8 L393.8,260.5 L395.4,261.1 L397.0,261.8 L398.7,262.5 L400.3,263.1" stroke="#008000" stroke-width="3.3" stroke-linecap="round" stroke-dasharray="0.1,4.2"/>
<path d="M77.0,49.6 L78.6,50.9 L80.2,52.2 L81.9,53.6 L83.5,54.9 L85.1,56.2 L86.7,57.5 L88.4,58.9 L90.0,60.2 L91.6,61.5 L93.2,62.8 L94.9,64.1 L96.5,65.5 L98.1,66.8 L99.7,68.1 L101.4,69.4 L103.0,70.8 L104.6,72.1 L106.2,73.4 L107.9,74.7 L109.5,76.0 L111.1,77.4 L112.7,78.7 L114.4,80.0 L116.0,81.3 L117.6,82.7 L119.2,84.0 L120.9,85.3 L122.5,86.6 L124.1,87.9 L125.7,89.3 L127.4,90.6 L129.0,91.9 L130.6,93.2 L132.2,94.6 L133.9,95.9 L135.5,97.2 L137.1,98.5 L138.7,99.8 L140.4,101.2 L142.0,102.5 L143.6,103.8 L145.2,105.1 L146.9,106.5 L148.5,107.8 L150.1,109.1 L151.7,110.4 L153.4,111.7 L155.0,113.1 L156.6,114.4 L158.2,115.7 L159.9,117.0 L161.5,118.4 L163.1,119.7 L164.7,121.0 L166.4,122.3 L168.0,123.6 L169.6,125.0 L171.2,126.3 L172.8,127.6 L174.5,128.9 L176.1,130.2 L177.7,131.6 L179.3,132.9 L181.0,134.2 L182.6,135.5 L184.2,136.9 L185.8,138.2 L187.5,139.5 L189.1,140.8 L190.7,142.1 L192.3,143.5 L194.0,144.8 L195.6,146.1 L197.2,147.4 L198.8,148.7 L200.5,149.9 L202.1,151.2 L203.7,152.4 L205.3,153.6 L207.0,154.8 L208.6,156.0 L210.2,157.2 L211.8,158.4 L213.5,159.6 L215.1,160.7 L216.7,161.9 L218.3,163.0 L220.0,164.2 L221.6,165.3 L223.2,166.4 L224.8,167.5 L226.5,168.7 L228.1,169.8 L229.7,170.9 L231.3,171.9 L233.0,173.0 L234.6,174.1 L236.2,175.2 L237.8,176.2 L239.5,177.3 L241.1,178.3 L242.7,179.4 L244.3,180.4 L246.0,181.4 L247.6,182.5 L249.2,183.5 L250.8,184.5 L252.5,185.5 L254.1,186.5 L255.7,187.5 L257.3,188.5 L259.0,189.5 L260.6,190.5 L262.2,191.4 L263.8,192.4 L265.4,193.4 L267.1,194.3 L268.7,195.3 L270.3,196.2 L271.9,197.1 L273.6,198.1 L275.2,199.0 L276.8,199.9 L278.4,200.8 L280.1,201.8 L281.7,202.7 L283.3,203.6 L284.9,204.5 L286.6,205.4 L288.2,206.3 L289.8,207.1 L291.4,208.0 L293.1,208.9 L294.7,209.8 L296.3,210.6 L297.9,211.5 L299.6,212.3 L301.2,213.2 L302.8,214.0 L304.4,214.9 L306.1,215.7 L307.7,216.5 L309.3,217.4 L310.9,218.2 L312.6,219.0 L314.2,219.8 L315.8,220.6 L317.4,221.4 L319.1,222.2 L320.7,223.0 L322.3,223.8 L323.9,224.6 L325.6,225.4 L327.2,226.1 L328.8,226.9 L330.4,227.7 L332.1,228.4 L333.7,229.2 L335.3,230.0 L336.9,230.7 L338.6,231.5 L340.2,232.2 L341.8,232.9 L343.4,233.7 L345.1,234.4 L346.7,235.1 L348.3,235.8 L349.9,236.6 L351.5,237.3 L353.2,238.0 L354.8,238.7 L356.4,239.4 L358.0,240.1 L359.7,240.8 L361.3,241.4 L362.9,242.1 L364.5,242.8 L366.2,243.5 L367.8,244.2 L369.4,244.8 L371.0,245.5 L372.7,246.1 L374.3,246.8 L375.9,247.5 L377.5,248.1 L379.2,248.7 L380.8,249.4 L382.4,250.0 L384.0,250.7 L385.7,251.3 L387.3,251.9 L388.9,252.5 L390.5,253.1 L392.2,253.8 L393.8,254.4 L395.4,255.0 L397.0,255.6 L398.7,256.2 L400.3,256.8" stroke="#000080" stroke-width="2.5" stroke-linecap="round"/>
<path d="M77.0,49.6 L78.6,50.9 L80.2,52.2 L81.9,53.6 L83.5,54.9 L85.1,56.2 L86.7,57.5 L88.4,58.9 L90.0,60.2 L91.6,61.5 L93.2,62.8 L94.9,64.1 L96.5,65.5 L98.1,66.8 L99.7,68.1 L101.4,69.4 L103.0,70.8 L104.6,72.1 L106.2,73.4 L107.9,74.7 L109.5,76.0 L111.1,77.4 L112.7,78.7 L114.4,80.0 L116.0,81.3 L117.6,82.7 L119.2,84.0 L120.9,85.3 L122.5,86.6 L124.1,87.9 L125.7,89.3 L127.4,90.6 L129.0,91.9 L130.6,93.2 L132.2,94.6 L133.9,95.9 L135.5,97.2 L137.1,98.5 L138.7,99.8 L140.4,101.2 L142.0,102.5 L143.6,103.8 L145.2,105.1 L146.9,106.5 L148.5,107.8 L150.1,109.1 L151.7,110.4 L153.4,111.7 L155.0,113.1 L156.6,114.4 L158.2,115.7 L159.9,117.0 L161.5,118.4 L163.1,119.7 L164.7,121.0 L166.4,122.3 L168.0,123.6 L169.6,125.0 L171.2,126.3 L172.8,127.6 L174.5,128.9 L176.1,130.2 L177.7,131.6 L179.3,132.9 L181.0,134.2 L182.6,135.5 L184.2,136.9 L185.8,138.2 L187.5,139.5 L189.1,140.8 L190.7,142.1 L192.3,143.5 L194.0,144.8 L195.6,146.1 L197.2,147.4 L198.8,148.7 L200.5,149.9 L202.1,151.2 L203.7,152.4 L205.3,153.6 L207.0,154.8 L208.6,156.0 L210.2,157.2 L211.8,158.4 L213.5,159.6 L215.1,160.7 L216.7,161.9 L218.3,163.0 L220.0,164.2 L221.6,165.3 L223.2,166.4 L224.8,167.5 L226.5,168.7 L228.1,169.8 L229.7,170.9 L231.3,171.9 L233.0,173.0 L234.6,174.1 L236.2,175.2 L237.8,176.2 L239.5,177.3 L241.1,178.3 L242.7,179.4 L244.3,180.4 L246.0,181.4 L247.6,182.5 L249.2,183.5 L250.8,184.5 L252.5,185.5 L254.1,186.5 L255.7,187.5 L257.3,188.5 L259.0,189.5 L260.6,190.5 L262.2,191.4 L263.8,192.4 L265.4,193.4 L267.1,194.3 L268.7,195.3 L270.3,196.2 L271.9,197.1 L273.6,198.1 L275.2,199.0 L276.8,199.9 L278.4,200.8 L280.1,201.8 L281.7,202.7 L283.3,203.6 L284.9,204.5 L286.6,205.4 L288.2,206.3 L289.8,207.1 L291.4,208.0 L293.1,208.9 L294.7,209.8 L296.3,210.6 L297.9,211.5 L299.6,212.3 L301.2,213.2 L302.8,214.0 L304.4,214.9 L306.1,215.7 L307.7,216.5 L309.3,217.4 L310.9,218.2 L312.6,219.0 L314.2,219.8 L315.8,220.6 L317.4,221.4 L319.1,222.2 L320.7,223.0 L322.3,223.8 L323.9,224.6 L325.6,225.4 L327.2,226.1 L328.8,226.9 L330.4,227.7 L332.1,228.4 L333.7,229.2 L335.3,230.0 L336.9,230.7 L338.6,231.5 L340.2,232.2 L341.8,232.9 L343.4,233.7 L345.1,234.4 L346.7,235.1 L348.3,235.8 L349.9,236.6 L351.5,237.3 L353.2,238.0 L354.8,238.7 L356.4,239.4 L358.0,240.1 L359.7,240.8 L361.3,241.4 L362.9,242.1 L364.5,242.8 L366.2,243.5 L367.8,244.2 L369.4,244.8 L371.0,245.5 L372.7,246.1 L374.3,246.8 L375.9,247.5 L377.5,248.1 L379.2,248.7 L380.8,249.4 L382.4,250.0 L384.0,250.7 L385.7,251.3 L387.3,251.9 L388.9,252.5 L390.5,253.1 L392.2,253.8 L393.8,254.4 L395.4,255.0 L397.0,255.6 L398.7,256.2 L400.3,256.8" stroke="#000080" stroke-width="3.3" stroke-linecap="round" stroke-dasharray="0.1,4.2"/>
<path d="M77.0,49.6 L78.6,50.9 L80.2,52.2 L81.9,53.6 L83.5,54.9 L85.1,56.2 L86.7,57.5 L88.4,58.9 L90.0,60.2 L91.6,61.5 L93.2,62.8 L94.9,64.1 L96.5,65.5 L98.1,66.8 L99.7,68.1 L101.4,69.4 L103.0,70.8 L104.6,72.1 L106.2,73.4 L107.9,74.7 L109.5,76.0 L111.1,77.4 L112.7,78.7 L114.4,80.0 L116.0,81.3 L117.6,82.7 L119.2,84.0 L120.9,85.3 L122.5,86.6 L124.1,87.9 L125.7,89.3 L127.4,90.6 L129.0,91.9 L130.6,93.2 L132.2,94.6 L133.9,95.9 L135.5,97.2 L137.1,98.5 L138.7,99.8 L140.4,101.2 L142.0,102.5 L143.6,103.8 L145.2,105.1 L146.9,106.5 L148.5,107.8 L150.1,109.1 L151.7,110.4 L153.4,111.7 L155.0,113.1 L156.6,114.4 L158.2,115.7 L159.9,117.0 L161.5,118.4 L163.1,119.7 L164.7,121.0 L166.4,122.3 L168.0,123.6 L169.6,125.0 L171.2,126.3 L172.8,127.6 L174.5,128.9 L176.1,130.2 L177.7,131.6 L179.3,132.9 L181.0,134.2 L182.6,135.5 L184.2,136.9 L185.8,138.2 L187.5,139.5 L189.1,140.8 L190.7,142.1 L192.3,143.5 L194.0,144.8 L195.6,146.1 L197.2,147.4 L198.8,148.7 L200.5,149.9 L202.1,151.2 L203.7,152.4 L205.3,153.6 L207.0,154.8 L208.6,156.0 L210.2,157.1 L211.8,158.3 L213.5,159.4 L215.1,160.6 L216.7,161.7 L218.3,162.8 L220.0,163.9 L221.6,165.0 L223.2,166.1 L224.8,167.2 L226.5,168.3 L228.1,169.4 L229.7,170.4 L231.3,171.5 L233.0,172.5 L234.6,173.6 L236.2,174.6 L237.8,175.6 L239.5,176.6 L241.1,177.6 L242.7,178.6 L244.3,179.6 L246.0,180.6 L247.6,181.6 L249.2,182.6 L250.8,183.6 L252.5,184.5 L254.1,185.5 L255.7,186.4 L257.3,187.4 L259.0,188.3 L260.6,189.3 L262.2,190.2 L263.8,191.1 L265.4,192.0 L267.1,192.9 L268.7,193.8 L270.3,194.7 L271.9,195.6 L273.6,196.5 L275.2,197.4 L276.8,198.3 L278.4,199.1 L280.1,200.0 L281.7,200.8 L283.3,201.7 L284.9,202.5 L286.6,203.4 L288.2,204.2 L289.8,205.1 L291.4,205.9 L293.1,206.7 L294.7,207.5 L296.3,208.3 L297.9,209.1 L299.6,209.9 L301.2,210.7 L302.8,211.5 L304.4,212.3 L306.1,213.1 L307.7,213.9 L309.3,214.6 L310.9,215.4 L312.6,216.2 L314.2,216.9 L315.8,217.7 L317.4,218.4 L319.1,219.1 L320.7,219.9 L322.3,220.6 L323.9,221.3 L325.6,222.1 L327.2,222.8 L328.8,223.5 L330.4,224.2 L332.1,224.9 L333.7,225.6 L335.3,226.3 L336.9,227.0 L338.6,227.7 L340.2,228.4 L341.8,229.0 L343.4,229.7 L345.1,230.4 L346.7,231.1 L348.3,231.7 L349.9,232.4 L351.5,233.0 L353.2,233.7 L354.8,234.3 L356.4,234.9 L358.0,235.6 L359.7,236.2 L361.3,236.8 L362.9,237.5 L364.5,238.1 L366.2,238.7 L367.8,239.3 L369.4,239.9 L371.0,240.5 L372.7,241.1 L374.3,241.7 L375.9,242.3 L377.5,242.9 L379.2,243.4 L380.8,244.0 L382.4,244.6 L384.0,245.2 L385.7,245.7 L387.3,246.3 L388.9,246.8 L390.5,247.4 L392.2,247.9 L393.8,248.5 L395.4,249.0 L397.0,249.6 L398.7,250.1 L400.3,250.6" stroke="#8000ff" stroke-width="2.5" stroke-linecap="round"/>
<path d="M77.0,49.6 L78.6,50.9 L80.2,52.2 L81.9,53.6 L83.5,54.9 L85.1,56.2 L86.7,57.5 L88.4,58.9 L90.0,60.2 L91.6,61.5 L93.2,62.8 L94.9,64.1 L96.5,65.5 L98.1,66.8 L99.7,68.1 L101.4,69.4 L103.0,70.8 L104.6,72.1 L106.2,73.4 L107.9,74.7 L109.5,76.0 L111.1,77.4 L112.7,78.7 L114.4,80.0 L116.0,81.3 L117.6,82.7 L119.2,84.0 L120.9,85.3 L122.5,86.6 L124.1,87.9 L125.7,89.3 L127.4,90.6 L129.0,91.9 L130.6,93.2 L132.2,94.6 L133.9,95.9 L135.5,97.2 L137.1,98.5 L138.7,99.8 L140.4,101.2 L142.0,102.5 L143.6,103.8 L145.2,105.1 L146.9,106.5 L148.5,107.8 L150.1,109.1 L151.7,110.4 L153.4,111.7 L155.0,113.1 L156.6,114.4 L158.2,115.7 L159.9,117.0 L161.5,118.4 L163.1,119.7 L164.7,121.0 L166.4,122.3 L168.0,123.6 L169.6,125.0 L171.2,126.3 L172.8,127.6 L174.5,128.9 L176.1,130.2 L177.7,131.6 L179.3,132.9 L181.0,134.2 L182.6,135.5 L184.2,136.9 L185.8,138.2 L187.5,139.5 L189.1,140.8 L190.7,142.1 L192.3,143.5 L194.0,144.8 L195.6,146.1 L197.2,147.4 L198.8,148.7 L200.5,149.9 L202.1,151.2 L203.7,152.4 L205.3,153.6 L207.0,154.8 L208.6,156.0 L210.2,157.1 L211.8,158.3 L213.5,159.4 L215.1,160.6 L216.7,161.7 L218.3,162.8 L220.0,163.9 L221.6,165.0 L223.2,166.1 L224.8,167.2 L226.5,168.3 L228.1,169.4 L229.7,170.4 L231.3,171.5 L233.0,172.5 L234.6,173.6 L236.2,174.6 L237.8,175.6 L239.5,176.6 L241.1,177.6 L242.7,178.6 L244.3,179.6 L246.0,180.6 L247.6,181.6 L249.2,182.6 L250.8,183.6 L252.5,184.5 L254.1,185.5 L255.7,186.4 L257.3,187.4 L259.0,188.3 L260.6,189.3 L262.2,190.2 L263.8,191.1 L265.4,192.0 L267.1,192.9 L268.7,193.8 L270.3,194.7 L271.9,195.6 L273.6,196.5 L275.2,197.4 L276.8,198.3 L278.4,199.1 L280.1,200.0 L281.7,200.8 L283.3,201.7 L284.9,202.5 L286.6,203.4 L288.2,204.2 L289.8,205.1 L291.4,205.9 L293.1,206.7 L294.7,207.5 L296.3,208.3 L297.9,209.1 L299.6,209.9 L301.2,210.7 L302.8,211.5 L304.4,212.3 L306.1,213.1 L307.7,213.9 L309.3,214.6 L310.9,215.4 L312.6,216.2 L314.2,216.9 L315.8,217.7 L317.4,218.4 L319.1,219.1 L320.7,219.9 L322.3,220.6 L323.9,221.3 L325.6,222.1 L327.2,222.8 L328.8,223.5 L330.4,224.2 L332.1,224.9 L333.7,225.6 L335.3,226.3 L336.9,227.0 L338.6,227.7 L340.2,228.4 L341.8,229.0 L343.4,229.7 L345.1,230.4 L346.7,231.1 L348.3,231.7 L349.9,232.4 L351.5,233.0 L353.2,233.7 L354.8,234.3 L356.4,234.9 L358.0,235.6 L359.7,236.2 L361.3,236.8 L362.9,237.5 L364.5,238.1 L366.2,238.7 L367.8,239.3 L369.4,239.9 L371.0,240.5 L372.7,241.1 L374.3,241.7 L375.9,242.3 L377.5,242.9 L379.2,243.4 L380.8,244.0 L382.4,244.6 L384.0,245.2 L385.7,245.7 L387.3,246.3 L388.9,246.8 L390.5,247.4 L392.2,247.9 L393.8,248.5 L395.4,249.0 L397.0,249.6 L398.7,250.1 L400.3,250.6" stroke="#8000ff" stroke-width="3.3" stroke-linecap="round" stroke-dasharray="0.1,4.2"/>
<path d="M77.0,49.6 L78.6,50.9 L80.2,52.2 L81.9,53.6 L83.5,54.9 L85.1,56.2 L86.7,57.5 L88.4,58.9 L90.0,60.2 L91.6,61.5 L93.2,62.8 L94.9,64.1 L96.5,65.5 L98.1,66.8 L99.7,68.1 L101.4,69.4 L103.0,70.8 L104.6,72.1 L106.2,73.4 L107.9,74.7 L109.5,76.0 L111.1,77.4 L112.7,78.7 L114.4,80.0 L116.0,81.3 L117.6,82.7 L119.2,84.0 L120.9,85.3 L122.5,86.6 L124.1,87.9 L125.7,89.3 L127.4,90.6 L129.0,91.9 L130.6,93.2 L132.2,94.6 L133.9,95.9 L135.5,97.2 L137.1,98.5 L138.7,99.8 L140.4,101.2 L142.0,102.5 L143.6,103.8 L145.2,105.1 L146.9,106.5 L148.5,107.8 L150.1,109.1 L151.7,110.4 L153.4,111.7 L155.0,113.1 L156.6,114.4 L158.2,115.7 L159.9,117.0 L161.5,118.4 L163.1,119.7 L164.7,121.0 L166.4,122.3 L168.0,123.6 L169.6,125.0 L171.2,126.3 L172.8,127.6 L174.5,128.9 L176.1,130.2 L177.7,131.6 L179.3,132.9 L181.0,134.2 L182.6,135.5 L184.2,136.9 L185.8,138.2 L187.5,139.5 L189.1,140.8 L190.7,142.1 L192.3,143.5 L194.0,144.8 L195.6,146.1 L197.2,147.4 L198.8,148.7 L200.5,149.9 L202.1,151.2 L203.7,152.4 L205.3,153.5 L207.0,154.7 L208.6,155.9 L210.2,157.0 L211.8,158.2 L213.5,159.3 L215.1,160.4 L216.7,161.5 L218.3,162.6 L220.0,163.7 L221.6,164.7 L223.2,165.8 L224.8,166.8 L226.5,167.9 L228.1,168.9 L229.7,169.9 L231.3,170.9 L233.0,171.9 L234.6,172.9 L236.2,173.9 L237.8,174.9 L239.5,175.9 L241.1,176.8 L242.7,177.8 L244.3,178.8 L246.0,179.7 L247.6,180.6 L249.2,181.6 L250.8,182.5 L252.5,183.4 L254.1,184.3 L255.7,185.2 L257.3,186.1 L259.0,187.0 L260.6,187.9 L262.2,188.7 L263.8,189.6 L265.4,190.5 L267.1,191.3 L268.7,192.2 L270.3,193.0 L271.9,193.9 L273.6,194.7 L275.2,195.5 L276.8,196.3 L278.4,197.1 L280.1,198.0 L281.7,198.8 L283.3,199.6 L284.9,200.3 L286.6,201.1 L288.2,201.9 L289.8,202.7 L291.4,203.4 L293.1,204.2 L294.7,205.0 L296.3,205.7 L297.9,206.5 L299.6,207.2 L301.2,207.9 L302.8,208.7 L304.4,209.4 L306.1,210.1 L307.7,210.8 L309.3,211.5 L310.9,212.2 L312.6,212.9 L314.2,213.6 L315.8,214.3 L317.4,215.0 L319.1,215.7 L320.7,216.4 L322.3,217.0 L323.9,217.7 L325.6,218.3 L327.2,219.0 L328.8,219.6 L330.4,220.3 L332.1,220.9 L333.7,221.6 L335.3,222.2 L336.9,222.8 L338.6,223.4 L340.2,224.1 L341.8,224.7 L343.4,225.3 L345.1,225.9 L346.7,226.5 L348.3,227.1 L349.9,227.7 L351.5,228.2 L353.2,228.8 L354.8,229.4 L356.4,230.0 L358.0,230.5 L359.7,231.1 L361.3,231.7 L362.9,232.2 L364.5,232.8 L366.2,233.3 L367.8,233.8 L369.4,234.4 L371.0,234.9 L372.7,235.4 L374.3,236.0 L375.9,236.5 L377.5,237.0 L379.2,237.5 L380.8,238.0 L382.4,238.5 L384.0,239.0 L385.7,239.5 L387.3,240.0 L388.9,240.5 L390.5,241.0 L392.2,241.4 L393.8,241.9 L395.4,242.4 L397.0,242.8 L398.7,243.3 L400.3,243.8" stroke="#800080" stroke-width="2.5" stroke-linecap="round"/>
<path d="M77.0,49.6 L78.6,50.9 L80.2,52.2 L81.9,53.6 L83.5,54.9 L85.1,56.2 L86.7,57.5 L88.4,58.9 L90.0,60.2 L91.6,61.5 L93.2,62.8 L94.9,64.1 L96.5,65.5 L98.1,66.8 L99.7,68.1 L101.4,69.4 L103.0,70.8 L104.6,72.1 L106.2,73.4 L107.9,74.7 L109.5,76.0 L111.1,77.4 L112.7,78.7 L114.4,80.0 L116.0,81.3 L117.6,82.7 L119.2,84.0 L120.9,85.3 L122.5,86.6 L124.1,87.9 L125.7,89.3 L127.4,90.6 L129.0,91.9 L130.6,93.2 L132.2,94.6 L133.9,95.9 L135.5,97.2 L137.1,98.5 L138.7,99.8 L140.4,101.2 L142.0,102.5 L143.6,103.8 L145.2,105.1 L146.9,106.5 L148.5,107.8 L150.1,109.1 L151.7,110.4 L153.4,111.7 L155.0,113.1 L156.6,114.4 L158.2,115.7 L159.9,117.0 L161.5,118.4 L163.1,119.7 L164.7,121.0 L166.4,122.3 L168.0,123.6 L169.6,125.0 L171.2,126.3 L172.8,127.6 L174.5,128.9 L176.1,130.2 L177.7,131.6 L179.3,132.9 L181.0,134.2 L182.6,135.5 L184.2,136.9 L185.8,138.2 L187.5,139.5 L189.1,140.8 L190.7,142.1 L192.3,143.5 L194.0,144.8 L195.6,146.1 L197.2,147.4 L198.8,148.7 L200.5,149.9 L202.1,151.2 L203.7,152.4 L205.3,153.5 L207.0,154.7 L208.6,155.9 L210.2,157.0 L211.8,158.2 L213.5,159.3 L215.1,160.4 L216.7,161.5 L218.3,162.6 L220.0,163.7 L221.6,164.7 L223.2,165.8 L224.8,166.8 L226.5,167.9 L228.1,168.9 L229.7,169.9 L231.3,170.9 L233.0,171.9 L234.6,172.9 L236.2,173.9 L237.8,174.9 L239.5,175.9 L241.1,176.8 L242.7,177.8 L244.3,178.8 L246.0,179.7 L247.6,180.6 L249.2,181.6 L250.8,182.5 L252.5,183.4 L254.1,184.3 L255.7,185.2 L257.3,186.1 L259.0,187.0 L260.6,187.9 L262.2,188.7 L263.8,189.6 L265.4,190.5 L267.1,191.3 L268.7,192.2 L270.3,193.0 L271.9,193.9 L273.6,194.7 L275.2,195.5 L276.8,196.3 L278.4,197.1 L280.1,198.0 L281.7,198.8 L283.3,199.6 L284.9,200.3 L286.6,201.1 L288.2,201.9 L289.8,202.7 L291.4,203.4 L293.1,204.2 L294.7,205.0 L296.3,205.7 L297.9,206.5 L299.6,207.2 L301.2,207.9 L302.8,208.7 L304.4,209.4 L306.1,210.1 L307.7,210.8 L309.3,211.5 L310.9,212.2 L312.6,212.9 L314.2,213.6 L315.8,214.3 L317.4,215.0 L319.1,215.7 L320.7,216.4 L322.3,217.0 L323.9,217.7 L325.6,218.3 L327.2,219.0 L328.8,219.6 L330.4,220.3 L332.1,220.9 L333.7,221.6 L335.3,222.2 L336.9,222.8 L338.6,223.4 L340.2,224.1 L341.8,224.7 L343.4,225.3 L345.1,225.9 L346.7,226.5 L348.3,227.1 L349.9,227.7 L351.5,228.2 L353.2,228.8 L354.8,229.4 L356.4,230.0 L358.0,230.5 L359.7,231.1 L361.3,231.7 L362.9,232.2 L364.5,232.8 L366.2,233.3 L367.8,233.8 L369.4,234.4 L371.0,234.9 L372.7,235.4 L374.3,236.0 L375.9,236.5 L377.5,237.0 L379.2,237.5 L380.8,238.0 L382.4,238.5 L384.0,239.0 L385.7,239.5 L387.3,240.0 L388.9,240.5 L390.5,241.0 L392.2,241.4 L393.8,241.9 L395.4,242.4 L397.0,242.8 L398.7,243.3 L400.3,243.8" stroke="#800080" stroke-width="3.3" stroke-linecap="round" stroke-dasharray="0.1,4.2"/>
<path d="M77.00,49.60 L77.49,50.00 L77.98,50.40 L78.47,50.80 L78.97,51.20 L79.46,51.60 L79.95,52.00 L80.44,52.40 L80.93,52.80 L81.42,53.20 L81.91,53.60 L82.40,54.00 L82.90,54.40 L83.39,54.80 L83.88,55.20 L84.37,55.60 L84.86,56.00 L85.35,56.40 L85.84,56.80 L86.34,57.20 L86.83,57.60 L87.32,58.00 L87.81,58.40 L88.30,58.80 L88.79,59.20 L89.28,59.60 L89.77,60.00 L90.27,60.40 L90.76,60.80 L91.25,61.20 L91.74,61.60 L92.23,62.00 L92.72,62.40 L93.21,62.80 L93.70,63.19 L94.20,63.59 L94.69,63.99 L95.18,64.39 L95.67,64.79 L96.16,65.19 L96.65,65.59 L97.14,65.99 L97.64,66.39 L98.13,66.79 L98.62,67.19 L99.11,67.59 L99.60,67.99 L100.09,68.39 L100.58,68.79 L101.07,69.19 L101.57,69.59 L102.06,69.99 L102.55,70.39 L103.04,70.79 L103.53,71.19 L104.02,71.59 L104.51,71.99 L105.01,72.39 L105.50,72.79 L105.99,73.19 L106.48,73.59 L106.97,73.99 L107.46,74.39 L107.95,74.79 L108.44,75.19 L108.94,75.59 L109.43,75.99 L109.92,76.39 L110.41,76.79 L110.90,77.19 L111.39,77.59 L111.88,77.99 L112.37,78.39 L112.87,78.79 L113.36,79.19 L113.85,79.59 L114.34,79.99 L114.83,80.39 L115.32,80.79 L115.81,81.19 L116.31,81.59 L116.80,81.99 L117.29,82.39 L117.78,82.79 L118.27,83.19 L118.76,83.59 L119.25,83.99 L119.74,84.39 L120.24,84.79 L120.73,85.19 L121.22,85.59 L121.71,85.99 L122.20,86.39 L122.69,86.79 L123.18,87.19 L123.68,87.59 L124.17,87.99 L124.66,88.39 L125.15,88.79 L125.64,89.19 L126.13,89.59 L126.62,89.99 L127.11,90.38 L127.61,90.78 L128.10,91.18 L128.59,91.58 L129.08,91.98 L129.57,92.38 L130.06,92.78 L130.55,93.18 L131.04,93.58 L131.54,93.98 L132.03,94.38 L132.52,94.78 L133.01,95.18 L133.50,95.58 L133.99,95.98 L134.48,96.38 L134.98,96.78 L135.47,97.18 L135.96,97.58 L136.45,97.98 L136.94,98.38 L137.43,98.78 L137.92,99.18 L138.41,99.58 L138.91,99.98 L139.40,100.38 L139.89,100.78 L140.38,101.18 L140.87,101.58 L141.36,101.98 L141.85,102.38 L142.35,102.78 L142.84,103.18 L143.33,103.58 L143.82,103.98 L144.31,104.38 L144.80,104.78 L145.29,105.18 L145.78,105.58 L146.28,105.98 L146.77,106.38 L147.26,106.78 L147.75,107.18 L148.24,107.58 L148.73,107.98 L149.22,108.38 L149.71,108.78 L150.21,109.18 L150.70,109.58 L151.19,109.98 L151.68,110.38 L152.17,110.78 L152.66,111.18 L153.15,111.58 L153.65,111.97 L154.14,112.37 L154.63,112.75 L155.12,113.14 L155.61,113.53 L156.10,113.91 L156.59,114.29 L157.08,114.68 L157.58,115.06 L158.07,115.44 L158.56,115.81 L159.05,116.19 L159.54,116.57 L160.03,116.94 L160.52,117.32 L161.02,117.69 L161.51,118.06 L162.00,118.43 L162.49,118.80 L162.98,119.17 L163.47,119.54 L163.96,119.91 L164.45,120.28 L164.95,120.65 L165.44,121.01 L165.93,121.38 L166.42,121.74 L166.91,122.11 L167.40,122.47 L167.89,122.83 L168.38,123.20 L168.88,123.56 L169.37,123.92 L169.86,124.28 L170.35,124.64 L170.84,125.00 L171.33,125.36 L171.82,125.72 L172.32,126.08 L172.81,126.43 L173.30,126.79 L173.79,127.15 L174.28,127.50 L174.77,127.86 L175.26,128.21 L175.75,128.57 L176.25,128.92 L176.74,129.27 L177.23,129.63 L177.72,129.98 L178.21,130.33 L178.70,130.68 L179.19,131.03 L179.69,131.38 L180.18,131.73 L180.67,132.08 L181.16,132.43 L181.65,132.78 L182.14,133.13 L182.63,133.48 L183.12,133.82 L183.62,134.17 L184.11,134.52 L184.60,134.86 L185.09,135.21 L185.58,135.55 L186.07,135.90 L186.56,136.24 L187.06,136.58 L187.55,136.93 L188.04,137.27 L188.53,137.61 L189.02,137.96 L189.51,138.30 L190.00,138.64 L190.49,138.98 L190.99,139.32 L191.48,139.66 L191.97,140.00 L192.46,140.34 L192.95,140.68 L193.44,141.02 L193.93,141.36 L194.42,141.69 L194.92,142.03 L195.41,142.37 L195.90,142.71 L196.39,143.04 L196.88,143.38 L197.37,143.72 L197.86,144.05 L198.36,144.39 L198.85,144.72 L199.34,145.05 L199.83,145.39 L200.32,145.72 L200.81,146.06 L201.30,146.39 L201.79,146.72 L202.29,147.05 L202.78,147.39 L203.27,147.72 L203.76,148.05 L204.25,148.38 L204.74,148.71 L205.23,149.04 L205.73,149.37 L206.22,149.70 L206.71,150.03 L207.20,150.36 L207.69,150.69 L208.18,151.02 L208.67,151.34 L209.16,151.67 L209.66,152.00 L210.15,152.33 L210.64,152.65 L211.13,152.98 L211.62,153.31 L212.11,153.63 L212.60,153.96 L213.09,154.28 L213.59,154.61 L214.08,154.93 L214.57,155.26 L215.06,155.58 L215.55,155.90 L216.04,156.23 L216.53,156.55 L217.03,156.87 L217.52,157.20 L218.01,157.52 L218.50,157.84 L218.99,158.16 L219.48,158.48 L219.97,158.80 L220.46,159.12 L220.96,159.44 L221.45,159.76 L221.94,160.08 L222.43,160.40 L222.92,160.72 L223.41,161.04 L223.90,161.36 L224.40,161.68 L224.89,162.00 L225.38,162.32 L225.87,162.63 L226.36,162.95 L226.85,163.27 L227.34,163.58 L227.83,163.90 L228.33,164.22 L228.82,164.53 L229.31,164.85 L229.80,165.16 L230.29,165.48 L230.78,165.79 L231.27,166.11 L231.76,166.42 L232.26,166.74 L232.75,167.05 L233.24,167.36 L233.73,167.68 L234.22,167.99 L234.71,168.30 L235.20,168.62 L235.70,168.93 L236.19,169.24 L236.68,169.55 L237.17,169.86 L237.66,170.17 L238.15,170.49 L238.64,170.80" stroke="#808000" stroke-width="1.3"/>
<path d="M77.00,49.60 L77.49,50.00 L77.98,50.40 L78.47,50.80 L78.97,51.20 L79.46,51.60 L79.95,52.00 L80.44,52.40 L80.93,52.80 L81.42,53.20 L81.91,53.60 L82.40,54.00 L82.90,54.40 L83.39,54.80 L83.88,55.20 L84.37,55.60 L84.86,56.00 L85.35,56.40 L85.84,56.80 L86.34,57.20 L86.83,57.60 L87.32,58.00 L87.81,58.40 L88.30,58.80 L88.79,59.20 L89.28,59.60 L89.77,60.00 L90.27,60.40 L90.76,60.80 L91.25,61.20 L91.74,61.60 L92.23,62.00 L92.72,62.40 L93.21,62.80 L93.70,63.19 L94.20,63.59 L94.69,63.99 L95.18,64.39 L95.67,64.79 L96.16,65.19 L96.65,65.59 L97.14,65.99 L97.64,66.39 L98.13,66.79 L98.62,67.19 L99.11,67.59 L99.60,67.99 L100.09,68.39 L100.58,68.79 L101.07,69.19 L101.57,69.59 L102.06,69.99 L102.55,70.39 L103.04,70.79 L103.53,71.19 L104.02,71.59 L104.51,71.99 L105.01,72.39 L105.50,72.79 L105.99,73.19 L106.48,73.59 L106.97,73.99 L107.46,74.39 L107.95,74.79 L108.44,75.19 L108.94,75.59 L109.43,75.99 L109.92,76.39 L110.41,76.79 L110.90,77.19 L111.39,77.59 L111.88,77.99 L112.37,78.39 L112.87,78.79 L113.36,79.19 L113.85,79.59 L114.34,79.99 L114.83,80.39 L115.32,80.79 L115.81,81.19 L116.31,81.59 L116.80,81.99 L117.29,82.39 L117.78,82.79 L118.27,83.19 L118.76,83.59 L119.25,83.99 L119.74,84.39 L120.24,84.79 L120.73,85.19 L121.22,85.59 L121.71,85.99 L122.20,86.39 L122.69,86.79 L123.18,87.19 L123.68,87.59 L124.17,87.99 L124.66,88.39 L125.15,88.79 L125.64,89.19 L126.13,89.59 L126.62,89.99 L127.11,90.38 L127.61,90.78 L128.10,91.18 L128.59,91.58 L129.08,91.98 L129.57,92.38 L130.06,92.78 L130.55,93.18 L131.04,93.58 L131.54,93.98 L132.03,94.38 L132.52,94.78 L133.01,95.18 L133.50,95.58 L133.99,95.98 L134.48,96.38 L134.98,96.78 L135.47,97.18 L135.96,97.58 L136.45,97.98 L136.94,98.38 L137.43,98.78 L137.92,99.18 L138.41,99.58 L138.91,99.98 L139.40,100.38 L139.89,100.78 L140.38,101.18 L140.87,101.58 L141.36,101.98 L141.85,102.38 L142.35,102.78 L142.84,103.18 L143.33,103.58 L143.82,103.98 L144.31,104.38 L144.80,104.78 L145.29,105.18 L145.78,105.58 L146.28,105.98 L146.77,106.38 L147.26,106.78 L147.75,107.18 L148.24,107.58 L148.73,107.98 L149.22,108.38 L149.71,108.77 L150.21,109.16 L150.70,109.55 L151.19,109.94 L151.68,110.32 L152.17,110.70 L152.66,111.08 L153.15,111.46 L153.65,111.84 L154.14,112.21 L154.63,112.59 L155.12,112.96 L155.61,113.34 L156.10,113.71 L156.59,114.08 L157.08,114.45 L157.58,114.82 L158.07,115.19 L158.56,115.55 L159.05,115.92 L159.54,116.28 L160.03,116.65 L160.52,117.01 L161.02,117.38 L161.51,117.74 L162.00,118.10 L162.49,118.46 L162.98,118.82 L163.47,119.18 L163.96,119.54 L164.45,119.89 L164.95,120.25 L165.44,120.61 L165.93,120.96 L166.42,121.32 L166.91,121.67 L167.40,122.03 L167.89,122.38 L168.38,122.73 L168.88,123.08 L169.37,123.44 L169.86,123.79 L170.35,124.14 L170.84,124.49 L171.33,124.84 L171.82,125.18 L172.32,125.53 L172.81,125.88 L173.30,126.23 L173.79,126.57 L174.28,126.92 L174.77,127.26 L175.26,127.61 L175.75,127.95 L176.25,128.29 L176.74,128.64 L177.23,128.98 L177.72,129.32 L178.21,129.66 L178.70,130.00 L179.19,130.35 L179.69,130.69 L180.18,131.03 L180.67,131.36 L181.16,131.70 L181.65,132.04 L182.14,132.38 L182.63,132.72 L183.12,133.05 L183.62,133.39 L184.11,133.72 L184.60,134.06 L185.09,134.40 L185.58,134.73 L186.07,135.06 L186.56,135.40 L187.06,135.73 L187.55,136.06 L188.04,136.40 L188.53,136.73 L189.02,137.06 L189.51,137.39 L190.00,137.72 L190.49,138.05 L190.99,138.38 L191.48,138.71 L191.97,139.04 L192.46,139.37 L192.95,139.70 L193.44,140.02 L193.93,140.35 L194.42,140.68 L194.92,141.00 L195.41,141.33 L195.90,141.66 L196.39,141.98 L196.88,142.31 L197.37,142.63 L197.86,142.95 L198.36,143.28 L198.85,143.60 L199.34,143.93 L199.83,144.25 L200.32,144.57 L200.81,144.89 L201.30,145.21 L201.79,145.53 L202.29,145.86 L202.78,146.18 L203.27,146.50 L203.76,146.82 L204.25,147.14 L204.74,147.45 L205.23,147.77 L205.73,148.09 L206.22,148.41 L206.71,148.73 L207.20,149.04 L207.69,149.36 L208.18,149.68 L208.67,149.99 L209.16,150.31 L209.66,150.62 L210.15,150.94 L210.64,151.25 L211.13,151.57 L211.62,151.88 L212.11,152.20 L212.60,152.51 L213.09,152.82 L213.59,153.14 L214.08,153.45 L214.57,153.76 L215.06,154.07 L215.55,154.38 L216.04,154.70 L216.53,155.01 L217.03,155.32 L217.52,155.63 L218.01,155.94 L218.50,156.25 L218.99,156.56 L219.48,156.86 L219.97,157.17 L220.46,157.48 L220.96,157.79 L221.45,158.10 L221.94,158.40 L222.43,158.71 L222.92,159.02 L223.41,159.32 L223.90,159.63 L224.40,159.94 L224.89,160.24 L225.38,160.55 L225.87,160.85 L226.36,161.15 L226.85,161.46 L227.34,161.76 L227.83,162.07 L228.33,162.37 L228.82,162.67 L229.31,162.98 L229.80,163.28 L230.29,163.58 L230.78,163.88 L231.27,164.18 L231.76,164.48 L232.26,164.79 L232.75,165.09 L233.24,165.39 L233.73,165.69 L234.22,165.99 L234.71,166.29 L235.20,166.58 L235.70,166.88 L236.19,167.18 L236.68,167.48 L237.17,167.78 L237.66,168.08 L238.15,168.37 L238.64,168.67" stroke="#1f5fbf" stroke-width="1.4"/>
<path d="M77.00,49.60 L77.49,50.00 L77.98,50.40 L78.47,50.80 L78.97,51.20 L79.46,51.60 L79.95,52.00 L80.44,52.40 L80.93,52.80 L81.42,53.20 L81.91,53.60 L82.40,54.00 L82.90,54.40 L83.39,54.80 L83.88,55.20 L84.37,55.60 L84.86,56.00 L85.35,56.40 L85.84,56.80 L86.34,57.20 L86.83,57.60 L87.32,58.00 L87.81,58.40 L88.30,58.80 L88.79,59.20 L89.28,59.60 L89.77,60.00 L90.27,60.40 L90.76,60.80 L91.25,61.20 L91.74,61.60 L92.23,62.00 L92.72,62.40 L93.21,62.80 L93.70,63.19 L94.20,63.59 L94.69,63.99 L95.18,64.39 L95.67,64.79 L96.16,65.19 L96.65,65.59 L97.14,65.99 L97.64,66.39 L98.13,66.79 L98.62,67.19 L99.11,67.59 L99.60,67.99 L100.09,68.39 L100.58,68.79 L101.07,69.19 L101.57,69.59 L102.06,69.99 L102.55,70.39 L103.04,70.79 L103.53,71.19 L104.02,71.59 L104.51,71.99 L105.01,72.39 L105.50,72.79 L105.99,73.19 L106.48,73.59 L106.97,73.99 L107.46,74.39 L107.95,74.79 L108.44,75.19 L108.94,75.59 L109.43,75.99 L109.92,76.39 L110.41,76.79 L110.90,77.19 L111.39,77.59 L111.88,77.99 L112.37,78.39 L112.87,78.79 L113.36,79.19 L113.85,79.59 L114.34,79.99 L114.83,80.39 L115.32,80.79 L115.81,81.19 L116.31,81.59 L116.80,81.99 L117.29,82.39 L117.78,82.79 L118.27,83.19 L118.76,83.59 L119.25,83.99 L119.74,84.39 L120.24,84.79 L120.73,85.19 L121.22,85.59 L121.71,85.99 L122.20,86.39 L122.69,86.79 L123.18,87.19 L123.68,87.59 L124.17,87.99 L124.66,88.39 L125.15,88.79 L125.64,89.19 L126.13,89.59 L126.62,89.99 L127.11,90.38 L127.61,90.78 L128.10,91.18 L128.59,91.58 L129.08,91.98 L129.57,92.38 L130.06,92.78 L130.55,93.18 L131.04,93.58 L131.54,93.98 L132.03,94.38 L132.52,94.78 L133.01,95.18 L133.50,95.58 L133.99,95.98 L134.48,96.38 L134.98,96.78 L135.47,97.18 L135.96,97.58 L136.45,97.98 L136.94,98.38 L137.43,98.78 L137.92,99.18 L138.41,99.58 L138.91,99.98 L139.40,100.38 L139.89,100.78 L140.38,101.18 L140.87,101.58 L141.36,101.98 L141.85,102.38 L142.35,102.78 L142.84,103.18 L143.33,103.58 L143.82,103.98 L144.31,104.38 L144.80,104.78 L145.29,105.18 L145.78,105.57 L146.28,105.96 L146.77,106.35 L147.26,106.73 L147.75,107.11 L148.24,107.49 L148.73,107.87 L149.22,108.25 L149.71,108.62 L150.21,109.00 L150.70,109.37 L151.19,109.74 L151.68,110.11 L152.17,110.48 L152.66,110.85 L153.15,111.21 L153.65,111.58 L154.14,111.94 L154.63,112.31 L155.12,112.67 L155.61,113.03 L156.10,113.39 L156.59,113.75 L157.08,114.11 L157.58,114.47 L158.07,114.83 L158.56,115.19 L159.05,115.54 L159.54,115.90 L160.03,116.25 L160.52,116.60 L161.02,116.96 L161.51,117.31 L162.00,117.66 L162.49,118.01 L162.98,118.36 L163.47,118.71 L163.96,119.06 L164.45,119.41 L164.95,119.75 L165.44,120.10 L165.93,120.45 L166.42,120.79 L166.91,121.14 L167.40,121.48 L167.89,121.82 L168.38,122.17 L168.88,122.51 L169.37,122.85 L169.86,123.19 L170.35,123.53 L170.84,123.87 L171.33,124.21 L171.82,124.55 L172.32,124.89 L172.81,125.22 L173.30,125.56 L173.79,125.90 L174.28,126.23 L174.77,126.57 L175.26,126.90 L175.75,127.24 L176.25,127.57 L176.74,127.91 L177.23,128.24 L177.72,128.57 L178.21,128.90 L178.70,129.23 L179.19,129.56 L179.69,129.89 L180.18,130.22 L180.67,130.55 L181.16,130.88 L181.65,131.21 L182.14,131.54 L182.63,131.86 L183.12,132.19 L183.62,132.52 L184.11,132.84 L184.60,133.17 L185.09,133.49 L185.58,133.82 L186.07,134.14 L186.56,134.47 L187.06,134.79 L187.55,135.11 L188.04,135.43 L188.53,135.75 L189.02,136.08 L189.51,136.40 L190.00,136.72 L190.49,137.04 L190.99,137.36 L191.48,137.67 L191.97,137.99 L192.46,138.31 L192.95,138.63 L193.44,138.95 L193.93,139.26 L194.42,139.58 L194.92,139.90 L195.41,140.21 L195.90,140.53 L196.39,140.84 L196.88,141.16 L197.37,141.47 L197.86,141.78 L198.36,142.10 L198.85,142.41 L199.34,142.72 L199.83,143.03 L200.32,143.35 L200.81,143.66 L201.30,143.97 L201.79,144.28 L202.29,144.59 L202.78,144.90 L203.27,145.21 L203.76,145.52 L204.25,145.82 L204.74,146.13 L205.23,146.44 L205.73,146.75 L206.22,147.05 L206.71,147.36 L207.20,147.67 L207.69,147.97 L208.18,148.28 L208.67,148.58 L209.16,148.89 L209.66,149.19 L210.15,149.50 L210.64,149.80 L211.13,150.10 L211.62,150.41 L212.11,150.71 L212.60,151.01 L213.09,151.31 L213.59,151.62 L214.08,151.92 L214.57,152.22 L215.06,152.52 L215.55,152.82 L216.04,153.12 L216.53,153.42 L217.03,153.72 L217.52,154.01 L218.01,154.31 L218.50,154.61 L218.99,154.91 L219.48,155.21 L219.97,155.50 L220.46,155.80 L220.96,156.10 L221.45,156.39 L221.94,156.69 L222.43,156.98 L222.92,157.28 L223.41,157.57 L223.90,157.87 L224.40,158.16 L224.89,158.45 L225.38,158.75 L225.87,159.04 L226.36,159.33 L226.85,159.63 L227.34,159.92 L227.83,160.21 L228.33,160.50 L228.82,160.79 L229.31,161.08 L229.80,161.37 L230.29,161.66 L230.78,161.95 L231.27,162.24 L231.76,162.53 L232.26,162.82 L232.75,163.11 L233.24,163.40 L233.73,163.69 L234.22,163.97 L234.71,164.26 L235.20,164.55 L235.70,164.83 L236.19,165.12 L236.68,165.41 L237.17,165.69 L237.66,165.98 L238.15,166.26 L238.64,166.55" stroke="#3c9a9a" stroke-width="1.6"/>
<path d="M77.00,49.60 L77.49,50.00 L77.98,50.40 L78.47,50.80 L78.97,51.20 L79.46,51.60 L79.95,52.00 L80.44,52.40 L80.93,52.80 L81.42,53.20 L81.91,53.60 L82.40,54.00 L82.90,54.40 L83.39,54.80 L83.88,55.20 L84.37,55.60 L84.86,56.00 L85.35,56.40 L85.84,56.80 L86.34,57.20 L86.83,57.60 L87.32,58.00 L87.81,58.40 L88.30,58.80 L88.79,59.20 L89.28,59.60 L89.77,60.00 L90.27,60.40 L90.76,60.80 L91.25,61.20 L91.74,61.60 L92.23,62.00 L92.72,62.40 L93.21,62.80 L93.70,63.19 L94.20,63.59 L94.69,63.99 L95.18,64.39 L95.67,64.79 L96.16,65.19 L96.65,65.59 L97.14,65.99 L97.64,66.39 L98.13,66.79 L98.62,67.19 L99.11,67.59 L99.60,67.99 L100.09,68.39 L100.58,68.79 L101.07,69.19 L101.57,69.59 L102.06,69.99 L102.55,70.39 L103.04,70.79 L103.53,71.19 L104.02,71.59 L104.51,71.99 L105.01,72.39 L105.50,72.79 L105.99,73.19 L106.48,73.59 L106.97,73.99 L107.46,74.39 L107.95,74.79 L108.44,75.19 L108.94,75.59 L109.43,75.99 L109.92,76.39 L110.41,76.79 L110.90,77.19 L111.39,77.59 L111.88,77.99 L112.37,78.39 L112.87,78.79 L113.36,79.19 L113.85,79.59 L114.34,79.99 L114.83,80.39 L115.32,80.79 L115.81,81.19 L116.31,81.59 L116.80,81.99 L117.29,82.39 L117.78,82.79 L118.27,83.19 L118.76,83.59 L119.25,83.99 L119.74,84.39 L120.24,84.79 L120.73,85.19 L121.22,85.59 L121.71,85.99 L122.20,86.39 L122.69,86.79 L123.18,87.19 L123.68,87.59 L124.17,87.99 L124.66,88.39 L125.15,88.79 L125.64,89.19 L126.13,89.59 L126.62,89.99 L127.11,90.38 L127.61,90.78 L128.10,91.18 L128.59,91.58 L129.08,91.98 L129.57,92.38 L130.06,92.78 L130.55,93.18 L131.04,93.58 L131.54,93.98 L132.03,94.38 L132.52,94.78 L133.01,95.18 L133.50,95.58 L133.99,95.98 L134.48,96.38 L134.98,96.78 L135.47,97.18 L135.96,97.58 L136.45,97.98 L136.94,98.38 L137.43,98.78 L137.92,99.18 L138.41,99.58 L138.91,99.98 L139.40,100.38 L139.89,100.78 L140.38,101.18 L140.87,101.58 L141.36,101.98 L141.85,102.37 L142.35,102.76 L142.84,103.14 L143.33,103.52 L143.82,103.90 L144.31,104.28 L144.80,104.66 L145.29,105.03 L145.78,105.40 L146.28,105.78 L146.77,106.15 L147.26,106.51 L147.75,106.88 L148.24,107.25 L148.73,107.61 L149.22,107.98 L149.71,108.34 L150.21,108.70 L150.70,109.06 L151.19,109.42 L151.68,109.78 L152.17,110.13 L152.66,110.49 L153.15,110.85 L153.65,111.20 L154.14,111.55 L154.63,111.91 L155.12,112.26 L155.61,112.61 L156.10,112.96 L156.59,113.31 L157.08,113.66 L157.58,114.01 L158.07,114.35 L158.56,114.70 L159.05,115.04 L159.54,115.39 L160.03,115.73 L160.52,116.07 L161.02,116.42 L161.51,116.76 L162.00,117.10 L162.49,117.44 L162.98,117.78 L163.47,118.12 L163.96,118.46 L164.45,118.79 L164.95,119.13 L165.44,119.47 L165.93,119.80 L166.42,120.14 L166.91,120.47 L167.40,120.81 L167.89,121.14 L168.38,121.47 L168.88,121.80 L169.37,122.13 L169.86,122.46 L170.35,122.79 L170.84,123.12 L171.33,123.45 L171.82,123.78 L172.32,124.11 L172.81,124.44 L173.30,124.76 L173.79,125.09 L174.28,125.41 L174.77,125.74 L175.26,126.06 L175.75,126.39 L176.25,126.71 L176.74,127.03 L177.23,127.35 L177.72,127.68 L178.21,128.00 L178.70,128.32 L179.19,128.64 L179.69,128.96 L180.18,129.28 L180.67,129.59 L181.16,129.91 L181.65,130.23 L182.14,130.55 L182.63,130.86 L183.12,131.18 L183.62,131.49 L184.11,131.81 L184.60,132.12 L185.09,132.44 L185.58,132.75 L186.07,133.06 L186.56,133.38 L187.06,133.69 L187.55,134.00 L188.04,134.31 L188.53,134.62 L189.02,134.93 L189.51,135.24 L190.00,135.55 L190.49,135.86 L190.99,136.17 L191.48,136.48 L191.97,136.79 L192.46,137.09 L192.95,137.40 L193.44,137.70 L193.93,138.01 L194.42,138.32 L194.92,138.62 L195.41,138.93 L195.90,139.23 L196.39,139.53 L196.88,139.84 L197.37,140.14 L197.86,140.44 L198.36,140.74 L198.85,141.04 L199.34,141.35 L199.83,141.65 L200.32,141.95 L200.81,142.25 L201.30,142.54 L201.79,142.84 L202.29,143.14 L202.78,143.44 L203.27,143.74 L203.76,144.04 L204.25,144.33 L204.74,144.63 L205.23,144.92 L205.73,145.22 L206.22,145.52 L206.71,145.81 L207.20,146.11 L207.69,146.40 L208.18,146.69 L208.67,146.99 L209.16,147.28 L209.66,147.57 L210.15,147.86 L210.64,148.16 L211.13,148.45 L211.62,148.74 L212.11,149.03 L212.60,149.32 L213.09,149.61 L213.59,149.90 L214.08,150.19 L214.57,150.48 L215.06,150.76 L215.55,151.05 L216.04,151.34 L216.53,151.63 L217.03,151.91 L217.52,152.20 L218.01,152.49 L218.50,152.77 L218.99,153.06 L219.48,153.34 L219.97,153.63 L220.46,153.91 L220.96,154.20 L221.45,154.48 L221.94,154.76 L222.43,155.05 L222.92,155.33 L223.41,155.61 L223.90,155.89 L224.40,156.18 L224.89,156.46 L225.38,156.74 L225.87,157.02 L226.36,157.30 L226.85,157.58 L227.34,157.86 L227.83,158.14 L228.33,158.41 L228.82,158.69 L229.31,158.97 L229.80,159.25 L230.29,159.53 L230.78,159.80 L231.27,160.08 L231.76,160.36 L232.26,160.63 L232.75,160.91 L233.24,161.18 L233.73,161.46 L234.22,161.73 L234.71,162.01 L235.20,162.28 L235.70,162.56 L236.19,162.83 L236.68,163.10 L237.17,163.37 L237.66,163.65 L238.15,163.92 L238.64,164.19" stroke="#a0703a" stroke-width="1.7"/>
<path d="M77.00,49.60 L77.49,50.00 L77.98,50.40 L78.47,50.80 L78.97,51.20 L79.46,51.60 L79.95,52.00 L80.44,52.40 L80.93,52.80 L81.42,53.20 L81.91,53.60 L82.40,54.00 L82.90,54.40 L83.39,54.80 L83.88,55.20 L84.37,55.60 L84.86,56.00 L85.35,56.40 L85.84,56.80 L86.34,57.20 L86.83,57.60 L87.32,58.00 L87.81,58.40 L88.30,58.80 L88.79,59.20 L89.28,59.60 L89.77,60.00 L90.27,60.40 L90.76,60.80 L91.25,61.20 L91.74,61.60 L92.23,62.00 L92.72,62.40 L93.21,62.80 L93.70,63.19 L94.20,63.59 L94.69,63.99 L95.18,64.39 L95.67,64.79 L96.16,65.19 L96.65,65.59 L97.14,65.99 L97.64,66.39 L98.13,66.79 L98.62,67.19 L99.11,67.59 L99.60,67.99 L100.09,68.39 L100.58,68.79 L101.07,69.19 L101.57,69.59 L102.06,69.99 L102.55,70.39 L103.04,70.79 L103.53,71.19 L104.02,71.59 L104.51,71.99 L105.01,72.39 L105.50,72.79 L105.99,73.19 L106.48,73.59 L106.97,73.99 L107.46,74.39 L107.95,74.79 L108.44,75.19 L108.94,75.59 L109.43,75.99 L109.92,76.39 L110.41,76.79 L110.90,77.19 L111.39,77.59 L111.88,77.99 L112.37,78.39 L112.87,78.79 L113.36,79.19 L113.85,79.59 L114.34,79.99 L114.83,80.39 L115.32,80.79 L115.81,81.19 L116.31,81.59 L116.80,81.99 L117.29,82.39 L117.78,82.79 L118.27,83.19 L118.76,83.59 L119.25,83.99 L119.74,84.39 L120.24,84.79 L120.73,85.19 L121.22,85.59 L121.71,85.99 L122.20,86.39 L122.69,86.79 L123.18,87.19 L123.68,87.59 L124.17,87.99 L124.66,88.39 L125.15,88.79 L125.64,89.19 L126.13,89.59 L126.62,89.99 L127.11,90.38 L127.61,90.78 L128.10,91.18 L128.59,91.58 L129.08,91.98 L129.57,92.38 L130.06,92.78 L130.55,93.18 L131.04,93.58 L131.54,93.98 L132.03,94.38 L132.52,94.78 L133.01,95.18 L133.50,95.58 L133.99,95.98 L134.48,96.38 L134.98,96.78 L135.47,97.18 L135.96,97.58 L136.45,97.98 L136.94,98.38 L137.43,98.78 L137.92,99.17 L138.41,99.55 L138.91,99.93 L139.40,100.31 L139.89,100.69 L140.38,101.06 L140.87,101.44 L141.36,101.81 L141.85,102.17 L142.35,102.54 L142.84,102.91 L143.33,103.27 L143.82,103.63 L144.31,103.99 L144.80,104.35 L145.29,104.71 L145.78,105.07 L146.28,105.42 L146.77,105.78 L147.26,106.13 L147.75,106.48 L148.24,106.83 L148.73,107.18 L149.22,107.53 L149.71,107.88 L150.21,108.22 L150.70,108.57 L151.19,108.91 L151.68,109.26 L152.17,109.60 L152.66,109.94 L153.15,110.28 L153.65,110.62 L154.14,110.96 L154.63,111.30 L155.12,111.63 L155.61,111.97 L156.10,112.30 L156.59,112.64 L157.08,112.97 L157.58,113.31 L158.07,113.64 L158.56,113.97 L159.05,114.30 L159.54,114.63 L160.03,114.96 L160.52,115.28 L161.02,115.61 L161.51,115.94 L162.00,116.26 L162.49,116.59 L162.98,116.91 L163.47,117.24 L163.96,117.56 L164.45,117.88 L164.95,118.20 L165.44,118.52 L165.93,118.84 L166.42,119.16 L166.91,119.48 L167.40,119.80 L167.89,120.12 L168.38,120.43 L168.88,120.75 L169.37,121.07 L169.86,121.38 L170.35,121.69 L170.84,122.01 L171.33,122.32 L171.82,122.63 L172.32,122.94 L172.81,123.26 L173.30,123.57 L173.79,123.88 L174.28,124.18 L174.77,124.49 L175.26,124.80 L175.75,125.11 L176.25,125.41 L176.74,125.72 L177.23,126.03 L177.72,126.33 L178.21,126.64 L178.70,126.94 L179.19,127.24 L179.69,127.55 L180.18,127.85 L180.67,128.15 L181.16,128.45 L181.65,128.75 L182.14,129.05 L182.63,129.35 L183.12,129.65 L183.62,129.95 L184.11,130.24 L184.60,130.54 L185.09,130.84 L185.58,131.13 L186.07,131.43 L186.56,131.72 L187.06,132.02 L187.55,132.31 L188.04,132.61 L188.53,132.90 L189.02,133.19 L189.51,133.48 L190.00,133.78 L190.49,134.07 L190.99,134.36 L191.48,134.65 L191.97,134.94 L192.46,135.23 L192.95,135.51 L193.44,135.80 L193.93,136.09 L194.42,136.38 L194.92,136.66 L195.41,136.95 L195.90,137.23 L196.39,137.52 L196.88,137.80 L197.37,138.09 L197.86,138.37 L198.36,138.65 L198.85,138.94 L199.34,139.22 L199.83,139.50 L200.32,139.78 L200.81,140.06 L201.30,140.34 L201.79,140.62 L202.29,140.90 L202.78,141.18 L203.27,141.46 L203.76,141.74 L204.25,142.02 L204.74,142.29 L205.23,142.57 L205.73,142.85 L206.22,143.12 L206.71,143.40 L207.20,143.67 L207.69,143.95 L208.18,144.22 L208.67,144.50 L209.16,144.77 L209.66,145.04 L210.15,145.31 L210.64,145.59 L211.13,145.86 L211.62,146.13 L212.11,146.40 L212.60,146.67 L213.09,146.94 L213.59,147.21 L214.08,147.48 L214.57,147.75 L215.06,148.01 L215.55,148.28 L216.04,148.55 L216.53,148.82 L217.03,149.08 L217.52,149.35 L218.01,149.61 L218.50,149.88 L218.99,150.14 L219.48,150.41 L219.97,150.67 L220.46,150.94 L220.96,151.20 L221.45,151.46 L221.94,151.72 L222.43,151.99 L222.92,152.25 L223.41,152.51 L223.90,152.77 L224.40,153.03 L224.89,153.29 L225.38,153.55 L225.87,153.81 L226.36,154.07 L226.85,154.33 L227.34,154.59 L227.83,154.84 L228.33,155.10 L228.82,155.36 L229.31,155.61 L229.80,155.87 L230.29,156.13 L230.78,156.38 L231.27,156.64 L231.76,156.89 L232.26,157.14 L232.75,157.40 L233.24,157.65 L233.73,157.91 L234.22,158.16 L234.71,158.41 L235.20,158.66 L235.70,158.91 L236.19,159.17 L236.68,159.42 L237.17,159.67 L237.66,159.92 L238.15,160.17 L238.64,160.42" stroke="#00c040" stroke-width="2.1"/>
<path d="M77.00,49.60 L77.49,50.00 L77.98,50.40 L78.47,50.80 L78.97,51.20 L79.46,51.60 L79.95,52.00 L80.44,52.40 L80.93,52.80 L81.42,53.20 L81.91,53.60 L82.40,54.00 L82.90,54.40 L83.39,54.80 L83.88,55.20 L84.37,55.60 L84.86,56.00 L85.35,56.40 L85.84,56.80 L86.34,57.20 L86.83,57.60 L87.32,58.00 L87.81,58.40 L88.30,58.80 L88.79,59.20 L89.28,59.60 L89.77,60.00 L90.27,60.40 L90.76,60.80 L91.25,61.20 L91.74,61.60 L92.23,62.00 L92.72,62.40 L93.21,62.80 L93.70,63.19 L94.20,63.59 L94.69,63.99 L95.18,64.39 L95.67,64.79 L96.16,65.19 L96.65,65.59 L97.14,65.99 L97.64,66.39 L98.13,66.79 L98.62,67.19 L99.11,67.59 L99.60,67.99 L100.09,68.39 L100.58,68.79 L101.07,69.19 L101.57,69.59 L102.06,69.99 L102.55,70.39 L103.04,70.79 L103.53,71.19 L104.02,71.59 L104.51,71.99 L105.01,72.39 L105.50,72.79 L105.99,73.19 L106.48,73.59 L106.97,73.99 L107.46,74.39 L107.95,74.79 L108.44,75.19 L108.94,75.59 L109.43,75.99 L109.92,76.39 L110.41,76.79 L110.90,77.19 L111.39,77.59 L111.88,77.99 L112.37,78.39 L112.87,78.79 L113.36,79.19 L113.85,79.59 L114.34,79.99 L114.83,80.39 L115.32,80.79 L115.81,81.19 L116.31,81.59 L116.80,81.99 L117.29,82.39 L117.78,82.79 L118.27,83.19 L118.76,83.59 L119.25,83.99 L119.74,84.39 L120.24,84.79 L120.73,85.19 L121.22,85.59 L121.71,85.99 L122.20,86.39 L122.69,86.79 L123.18,87.19 L123.68,87.59 L124.17,87.99 L124.66,88.39 L125.15,88.79 L125.64,89.19 L126.13,89.59 L126.62,89.99 L127.11,90.38 L127.61,90.78 L128.10,91.18 L128.59,91.58 L129.08,91.98 L129.57,92.38 L130.06,92.78 L130.55,93.18 L131.04,93.58 L131.54,93.98 L132.03,94.38 L132.52,94.78 L133.01,95.18 L133.50,95.58 L133.99,95.97 L134.48,96.36 L134.98,96.75 L135.47,97.13 L135.96,97.51 L136.45,97.89 L136.94,98.26 L137.43,98.64 L137.92,99.01 L138.41,99.38 L138.91,99.75 L139.40,100.12 L139.89,100.48 L140.38,100.85 L140.87,101.21 L141.36,101.57 L141.85,101.93 L142.35,102.29 L142.84,102.64 L143.33,103.00 L143.82,103.35 L144.31,103.70 L144.80,104.06 L145.29,104.40 L145.78,104.75 L146.28,105.10 L146.77,105.45 L147.26,105.79 L147.75,106.13 L148.24,106.48 L148.73,106.82 L149.22,107.16 L149.71,107.50 L150.21,107.83 L150.70,108.17 L151.19,108.51 L151.68,108.84 L152.17,109.17 L152.66,109.51 L153.15,109.84 L153.65,110.17 L154.14,110.50 L154.63,110.82 L155.12,111.15 L155.61,111.48 L156.10,111.80 L156.59,112.13 L157.08,112.45 L157.58,112.77 L158.07,113.09 L158.56,113.41 L159.05,113.73 L159.54,114.05 L160.03,114.37 L160.52,114.68 L161.02,115.00 L161.51,115.31 L162.00,115.63 L162.49,115.94 L162.98,116.25 L163.47,116.56 L163.96,116.87 L164.45,117.18 L164.95,117.49 L165.44,117.80 L165.93,118.10 L166.42,118.41 L166.91,118.71 L167.40,119.02 L167.89,119.32 L168.38,119.62 L168.88,119.92 L169.37,120.22 L169.86,120.52 L170.35,120.82 L170.84,121.12 L171.33,121.41 L171.82,121.71 L172.32,122.01 L172.81,122.30 L173.30,122.59 L173.79,122.89 L174.28,123.18 L174.77,123.47 L175.26,123.76 L175.75,124.05 L176.25,124.34 L176.74,124.63 L177.23,124.91 L177.72,125.20 L178.21,125.49 L178.70,125.77 L179.19,126.05 L179.69,126.34 L180.18,126.62 L180.67,126.90 L181.16,127.18 L181.65,127.46 L182.14,127.74 L182.63,128.02 L183.12,128.30 L183.62,128.58 L184.11,128.85 L184.60,129.13 L185.09,129.41 L185.58,129.68 L186.07,129.95 L186.56,130.23 L187.06,130.50 L187.55,130.77 L188.04,131.04 L188.53,131.31 L189.02,131.58 L189.51,131.85 L190.00,132.12 L190.49,132.38 L190.99,132.65 L191.48,132.92 L191.97,133.18 L192.46,133.45 L192.95,133.71 L193.44,133.97 L193.93,134.24 L194.42,134.50 L194.92,134.76 L195.41,135.02 L195.90,135.28 L196.39,135.54 L196.88,135.79 L197.37,136.05 L197.86,136.31 L198.36,136.57 L198.85,136.82 L199.34,137.08 L199.83,137.33 L200.32,137.58 L200.81,137.84 L201.30,138.09 L201.79,138.34 L202.29,138.59 L202.78,138.84 L203.27,139.09 L203.76,139.34 L204.25,139.59 L204.74,139.83 L205.23,140.08 L205.73,140.33 L206.22,140.57 L206.71,140.82 L207.20,141.06 L207.69,141.31 L208.18,141.55 L208.67,141.79 L209.16,142.03 L209.66,142.27 L210.15,142.52 L210.64,142.76 L211.13,142.99 L211.62,143.23 L212.11,143.47 L212.60,143.71 L213.09,143.95 L213.59,144.18 L214.08,144.42 L214.57,144.65 L215.06,144.89 L215.55,145.12 L216.04,145.35 L216.53,145.58 L217.03,145.82 L217.52,146.05 L218.01,146.28 L218.50,146.51 L218.99,146.74 L219.48,146.97 L219.97,147.19 L220.46,147.42 L220.96,147.65 L221.45,147.88 L221.94,148.10 L222.43,148.33 L222.92,148.55 L223.41,148.77 L223.90,149.00 L224.40,149.22 L224.89,149.44 L225.38,149.66 L225.87,149.89 L226.36,150.11 L226.85,150.33 L227.34,150.55 L227.83,150.76 L228.33,150.98 L228.82,151.20 L229.31,151.42 L229.80,151.63 L230.29,151.85 L230.78,152.06 L231.27,152.28 L231.76,152.49 L232.26,152.71 L232.75,152.92 L233.24,153.13 L233.73,153.34 L234.22,153.55 L234.71,153.76 L235.20,153.97 L235.70,154.18 L236.19,154.39 L236.68,154.60 L237.17,154.81 L237.66,155.02 L238.15,155.22 L238.64,155.43" stroke="#d040a0" stroke-width="0.9"/>
<path d="M77.00,49.60 L77.49,50.00 L77.98,50.40 L78.47,50.80 L78.97,51.20 L79.46,51.60 L79.95,52.00 L80.44,52.40 L80.93,52.80 L81.42,53.20 L81.91,53.60 L82.40,54.00 L82.90,54.40 L83.39,54.80 L83.88,55.20 L84.37,55.60 L84.86,56.00 L85.35,56.40 L85.84,56.80 L86.34,57.20 L86.83,57.60 L87.32,58.00 L87.81,58.40 L88.30,58.80 L88.79,59.20 L89.28,59.60 L89.77,60.00 L90.27,60.40 L90.76,60.80 L91.25,61.20 L91.74,61.60 L92.23,62.00 L92.72,62.40 L93.21,62.80 L93.70,63.19 L94.20,63.59 L94.69,63.99 L95.18,64.39 L95.67,64.79 L96.16,65.19 L96.65,65.59 L97.14,65.99 L97.64,66.39 L98.13,66.79 L98.62,67.19 L99.11,67.59 L99.60,67.99 L100.09,68.39 L100.58,68.79 L101.07,69.19 L101.57,69.59 L102.06,69.99 L102.55,70.39 L103.04,70.79 L103.53,71.19 L104.02,71.59 L104.51,71.99 L105.01,72.39 L105.50,72.79 L105.99,73.19 L106.48,73.59 L106.97,73.99 L107.46,74.39 L107.95,74.79 L108.44,75.19 L108.94,75.59 L109.43,75.99 L109.92,76.39 L110.41,76.79 L110.90,77.19 L111.39,77.59 L111.88,77.99 L112.37,78.39 L112.87,78.79 L113.36,79.19 L113.85,79.59 L114.34,79.99 L114.83,80.39 L115.32,80.79 L115.81,81.19 L116.31,81.59 L116.80,81.99 L117.29,82.39 L117.78,82.79 L118.27,83.19 L118.76,83.59 L119.25,83.99 L119.74,84.39 L120.24,84.79 L120.73,85.19 L121.22,85.59 L121.71,85.99 L122.20,86.39 L122.69,86.79 L123.18,87.19 L123.68,87.59 L124.17,87.99 L124.66,88.39 L125.15,88.79 L125.64,89.18 L126.13,89.58 L126.62,89.97 L127.11,90.36 L127.61,90.75 L128.10,91.13 L128.59,91.51 L129.08,91.90 L129.57,92.28 L130.06,92.65 L130.55,93.03 L131.04,93.41 L131.54,93.78 L132.03,94.15 L132.52,94.52 L133.01,94.89 L133.50,95.26 L133.99,95.62 L134.48,95.98 L134.98,96.35 L135.47,96.71 L135.96,97.07 L136.45,97.43 L136.94,97.78 L137.43,98.14 L137.92,98.49 L138.41,98.85 L138.91,99.20 L139.40,99.55 L139.89,99.90 L140.38,100.24 L140.87,100.59 L141.36,100.94 L141.85,101.28 L142.35,101.62 L142.84,101.96 L143.33,102.30 L143.82,102.64 L144.31,102.98 L144.80,103.32 L145.29,103.65 L145.78,103.99 L146.28,104.32 L146.77,104.65 L147.26,104.98 L147.75,105.31 L148.24,105.64 L148.73,105.97 L149.22,106.29 L149.71,106.62 L150.21,106.94 L150.70,107.26 L151.19,107.59 L151.68,107.91 L152.17,108.23 L152.66,108.54 L153.15,108.86 L153.65,109.18 L154.14,109.49 L154.63,109.81 L155.12,110.12 L155.61,110.43 L156.10,110.74 L156.59,111.05 L157.08,111.36 L157.58,111.67 L158.07,111.97 L158.56,112.28 L159.05,112.58 L159.54,112.89 L160.03,113.19 L160.52,113.49 L161.02,113.79 L161.51,114.09 L162.00,114.39 L162.49,114.68 L162.98,114.98 L163.47,115.27 L163.96,115.57 L164.45,115.86 L164.95,116.15 L165.44,116.44 L165.93,116.73 L166.42,117.02 L166.91,117.31 L167.40,117.60 L167.89,117.88 L168.38,118.17 L168.88,118.45 L169.37,118.73 L169.86,119.02 L170.35,119.30 L170.84,119.58 L171.33,119.86 L171.82,120.14 L172.32,120.41 L172.81,120.69 L173.30,120.96 L173.79,121.24 L174.28,121.51 L174.77,121.78 L175.26,122.06 L175.75,122.33 L176.25,122.60 L176.74,122.86 L177.23,123.13 L177.72,123.40 L178.21,123.66 L178.70,123.93 L179.19,124.19 L179.69,124.46 L180.18,124.72 L180.67,124.98 L181.16,125.24 L181.65,125.50 L182.14,125.76 L182.63,126.01 L183.12,126.27 L183.62,126.53 L184.11,126.78 L184.60,127.03 L185.09,127.29 L185.58,127.54 L186.07,127.79 L186.56,128.04 L187.06,128.29 L187.55,128.54 L188.04,128.79 L188.53,129.03 L189.02,129.28 L189.51,129.52 L190.00,129.77 L190.49,130.01 L190.99,130.25 L191.48,130.49 L191.97,130.73 L192.46,130.97 L192.95,131.21 L193.44,131.45 L193.93,131.69 L194.42,131.92 L194.92,132.16 L195.41,132.39 L195.90,132.63 L196.39,132.86 L196.88,133.09 L197.37,133.32 L197.86,133.55 L198.36,133.78 L198.85,134.01 L199.34,134.23 L199.83,134.46 L200.32,134.69 L200.81,134.91 L201.30,135.14 L201.79,135.36 L202.29,135.58 L202.78,135.80 L203.27,136.02 L203.76,136.24 L204.25,136.46 L204.74,136.68 L205.23,136.90 L205.73,137.11 L206.22,137.33 L206.71,137.54 L207.20,137.76 L207.69,137.97 L208.18,138.18 L208.67,138.39 L209.16,138.60 L209.66,138.81 L210.15,139.02 L210.64,139.23 L211.13,139.44 L211.62,139.64 L212.11,139.85 L212.60,140.05 L213.09,140.26 L213.59,140.46 L214.08,140.66 L214.57,140.86 L215.06,141.06 L215.55,141.26 L216.04,141.46 L216.53,141.66 L217.03,141.86 L217.52,142.05 L218.01,142.25 L218.50,142.44 L218.99,142.64 L219.48,142.83 L219.97,143.02 L220.46,143.21 L220.96,143.40 L221.45,143.59 L221.94,143.78 L222.43,143.97 L222.92,144.16 L223.41,144.35 L223.90,144.53 L224.40,144.72 L224.89,144.90 L225.38,145.08 L225.87,145.27 L226.36,145.45 L226.85,145.63 L227.34,145.81 L227.83,145.99 L228.33,146.17 L228.82,146.35 L229.31,146.52 L229.80,146.70 L230.29,146.88 L230.78,147.05 L231.27,147.23 L231.76,147.40 L232.26,147.57 L232.75,147.74 L233.24,147.91 L233.73,148.08 L234.22,148.25 L234.71,148.42 L235.20,148.59 L235.70,148.76 L236.19,148.92 L236.68,149.09 L237.17,149.25 L237.66,149.42 L238.15,149.58 L238.64,149.74" stroke="#40d0d8" stroke-width="1.3"/>
<path d="M77.00,49.60 L77.49,50.00 L77.98,50.40 L78.47,50.80 L78.97,51.20 L79.46,51.60 L79.95,52.00 L80.44,52.40 L80.93,52.80 L81.42,53.20 L81.91,53.60 L82.40,54.00 L82.90,54.40 L83.39,54.80 L83.88,55.20 L84.37,55.60 L84.86,56.00 L85.35,56.40 L85.84,56.80 L86.34,57.20 L86.83,57.60 L87.32,58.00 L87.81,58.40 L88.30,58.80 L88.79,59.20 L89.28,59.60 L89.77,60.00 L90.27,60.40 L90.76,60.80 L91.25,61.20 L91.74,61.60 L92.23,62.00 L92.72,62.40 L93.21,62.80 L93.70,63.19 L94.20,63.59 L94.69,63.99 L95.18,64.39 L95.67,64.79 L96.16,65.19 L96.65,65.59 L97.14,65.99 L97.64,66.39 L98.13,66.79 L98.62,67.19 L99.11,67.59 L99.60,67.99 L100.09,68.39 L100.58,68.79 L101.07,69.19 L101.57,69.59 L102.06,69.99 L102.55,70.39 L103.04,70.79 L103.53,71.19 L104.02,71.59 L104.51,71.99 L105.01,72.39 L105.50,72.79 L105.99,73.19 L106.48,73.59 L106.97,73.99 L107.46,74.39 L107.95,74.79 L108.44,75.19 L108.94,75.59 L109.43,75.99 L109.92,76.39 L110.41,76.79 L110.90,77.19 L111.39,77.59 L111.88,77.99 L112.37,78.39 L112.87,78.79 L113.36,79.19 L113.85,79.59 L114.34,79.99 L114.83,80.39 L115.32,80.79 L115.81,81.19 L116.31,81.59 L116.80,81.99 L117.29,82.39 L117.78,82.78 L118.27,83.18 L118.76,83.57 L119.25,83.96 L119.74,84.35 L120.24,84.74 L120.73,85.12 L121.22,85.51 L121.71,85.89 L122.20,86.27 L122.69,86.65 L123.18,87.02 L123.68,87.40 L124.17,87.77 L124.66,88.14 L125.15,88.51 L125.64,88.88 L126.13,89.25 L126.62,89.62 L127.11,89.98 L127.61,90.34 L128.10,90.70 L128.59,91.06 L129.08,91.42 L129.57,91.77 L130.06,92.13 L130.55,92.48 L131.04,92.83 L131.54,93.18 L132.03,93.53 L132.52,93.88 L133.01,94.23 L133.50,94.57 L133.99,94.91 L134.48,95.26 L134.98,95.60 L135.47,95.93 L135.96,96.27 L136.45,96.61 L136.94,96.94 L137.43,97.28 L137.92,97.61 L138.41,97.94 L138.91,98.27 L139.40,98.59 L139.89,98.92 L140.38,99.25 L140.87,99.57 L141.36,99.89 L141.85,100.21 L142.35,100.53 L142.84,100.85 L143.33,101.17 L143.82,101.48 L144.31,101.80 L144.80,102.11 L145.29,102.42 L145.78,102.73 L146.28,103.04 L146.77,103.35 L147.26,103.65 L147.75,103.96 L148.24,104.26 L148.73,104.56 L149.22,104.87 L149.71,105.17 L150.21,105.46 L150.70,105.76 L151.19,106.06 L151.68,106.35 L152.17,106.64 L152.66,106.94 L153.15,107.23 L153.65,107.52 L154.14,107.81 L154.63,108.09 L155.12,108.38 L155.61,108.66 L156.10,108.95 L156.59,109.23 L157.08,109.51 L157.58,109.79 L158.07,110.07 L158.56,110.34 L159.05,110.62 L159.54,110.89 L160.03,111.17 L160.52,111.44 L161.02,111.71 L161.51,111.98 L162.00,112.25 L162.49,112.51 L162.98,112.78 L163.47,113.04 L163.96,113.31 L164.45,113.57 L164.95,113.83 L165.44,114.09 L165.93,114.35 L166.42,114.61 L166.91,114.86 L167.40,115.12 L167.89,115.37 L168.38,115.62 L168.88,115.88 L169.37,116.13 L169.86,116.37 L170.35,116.62 L170.84,116.87 L171.33,117.11 L171.82,117.36 L172.32,117.60 L172.81,117.84 L173.30,118.08 L173.79,118.32 L174.28,118.56 L174.77,118.80 L175.26,119.03 L175.75,119.27 L176.25,119.50 L176.74,119.73 L177.23,119.96 L177.72,120.19 L178.21,120.42 L178.70,120.65 L179.19,120.88 L179.69,121.10 L180.18,121.33 L180.67,121.55 L181.16,121.77 L181.65,121.99 L182.14,122.21 L182.63,122.43 L183.12,122.64 L183.62,122.86 L184.11,123.08 L184.60,123.29 L185.09,123.50 L185.58,123.71 L186.07,123.92 L186.56,124.13 L187.06,124.34 L187.55,124.55 L188.04,124.75 L188.53,124.96 L189.02,125.16 L189.51,125.36 L190.00,125.56 L190.49,125.76 L190.99,125.96 L191.48,126.16 L191.97,126.35 L192.46,126.55 L192.95,126.74 L193.44,126.94 L193.93,127.13 L194.42,127.32 L194.92,127.51 L195.41,127.70 L195.90,127.88 L196.39,128.07 L196.88,128.25 L197.37,128.44 L197.86,128.62 L198.36,128.80 L198.85,128.98 L199.34,129.16 L199.83,129.34 L200.32,129.52 L200.81,129.69 L201.30,129.87 L201.79,130.04 L202.29,130.21 L202.78,130.39 L203.27,130.56 L203.76,130.72 L204.25,130.89 L204.74,131.06 L205.23,131.23 L205.73,131.39 L206.22,131.55 L206.71,131.72 L207.20,131.88 L207.69,132.04 L208.18,132.20 L208.67,132.36 L209.16,132.51 L209.66,132.67 L210.15,132.82 L210.64,132.98 L211.13,133.13 L211.62,133.28 L212.11,133.43 L212.60,133.58 L213.09,133.73 L213.59,133.88 L214.08,134.02 L214.57,134.17 L215.06,134.31 L215.55,134.45 L216.04,134.60 L216.53,134.74 L217.03,134.88 L217.52,135.01 L218.01,135.15 L218.50,135.29 L218.99,135.42 L219.48,135.56 L219.97,135.69 L220.46,135.82 L220.96,135.95 L221.45,136.08 L221.94,136.21 L222.43,136.34 L222.92,136.47 L223.41,136.59 L223.90,136.72 L224.40,136.84 L224.89,136.96 L225.38,137.08 L225.87,137.20 L226.36,137.32 L226.85,137.44 L227.34,137.55 L227.83,137.67 L228.33,137.79 L228.82,137.90 L229.31,138.01 L229.80,138.12 L230.29,138.23 L230.78,138.34 L231.27,138.45 L231.76,138.56 L232.26,138.66 L232.75,138.77 L233.24,138.87 L233.73,138.97 L234.22,139.08 L234.71,139.18 L235.20,139.28 L235.70,139.38 L236.19,139.47 L236.68,139.57 L237.17,139.66 L237.66,139.76 L238.15,139.85 L238.64,139.94" stroke="#3838a0" stroke-width="2.8"/>
<path d="M77.00,49.60 L77.49,50.00 L77.98,50.40 L78.47,50.80 L78.97,51.20 L79.46,51.60 L79.95,52.00 L80.44,52.40 L80.93,52.80 L81.42,53.20 L81.91,53.60 L82.40,54.00 L82.90,54.40 L83.39,54.80 L83.88,55.20 L84.37,55.60 L84.86,56.00 L85.35,56.40 L85.84,56.80 L86.34,57.20 L86.83,57.60 L87.32,58.00 L87.81,58.40 L88.30,58.80 L88.79,59.20 L89.28,59.60 L89.77,60.00 L90.27,60.40 L90.76,60.80 L91.25,61.20 L91.74,61.60 L92.23,62.00 L92.72,62.40 L93.21,62.80 L93.70,63.19 L94.20,63.59 L94.69,63.99 L95.18,64.39 L95.67,64.79 L96.16,65.19 L96.65,65.59 L97.14,65.99 L97.64,66.39 L98.13,66.79 L98.62,67.18 L99.11,67.57 L99.60,67.96 L100.09,68.35 L100.58,68.73 L101.07,69.11 L101.57,69.49 L102.06,69.87 L102.55,70.25 L103.04,70.63 L103.53,71.00 L104.02,71.37 L104.51,71.74 L105.01,72.11 L105.50,72.48 L105.99,72.85 L106.48,73.21 L106.97,73.57 L107.46,73.93 L107.95,74.29 L108.44,74.65 L108.94,75.01 L109.43,75.36 L109.92,75.72 L110.41,76.07 L110.90,76.42 L111.39,76.77 L111.88,77.12 L112.37,77.46 L112.87,77.81 L113.36,78.15 L113.85,78.49 L114.34,78.83 L114.83,79.17 L115.32,79.51 L115.81,79.84 L116.31,80.18 L116.80,80.51 L117.29,80.84 L117.78,81.17 L118.27,81.50 L118.76,81.83 L119.25,82.16 L119.74,82.48 L120.24,82.81 L120.73,83.13 L121.22,83.45 L121.71,83.77 L122.20,84.09 L122.69,84.41 L123.18,84.72 L123.68,85.04 L124.17,85.35 L124.66,85.66 L125.15,85.97 L125.64,86.28 L126.13,86.59 L126.62,86.89 L127.11,87.20 L127.61,87.50 L128.10,87.81 L128.59,88.11 L129.08,88.41 L129.57,88.71 L130.06,89.00 L130.55,89.30 L131.04,89.59 L131.54,89.89 L132.03,90.18 L132.52,90.47 L133.01,90.76 L133.50,91.05 L133.99,91.34 L134.48,91.62 L134.98,91.91 L135.47,92.19 L135.96,92.47 L136.45,92.76 L136.94,93.04 L137.43,93.31 L137.92,93.59 L138.41,93.87 L138.91,94.14 L139.40,94.42 L139.89,94.69 L140.38,94.96 L140.87,95.23 L141.36,95.50 L141.85,95.77 L142.35,96.03 L142.84,96.30 L143.33,96.56 L143.82,96.83 L144.31,97.09 L144.80,97.35 L145.29,97.61 L145.78,97.87 L146.28,98.12 L146.77,98.38 L147.26,98.63 L147.75,98.89 L148.24,99.14 L148.73,99.39 L149.22,99.64 L149.71,99.89 L150.21,100.14 L150.70,100.38 L151.19,100.63 L151.68,100.87 L152.17,101.11 L152.66,101.36 L153.15,101.60 L153.65,101.84 L154.14,102.07 L154.63,102.31 L155.12,102.55 L155.61,102.78 L156.10,103.02 L156.59,103.25 L157.08,103.48 L157.58,103.71 L158.07,103.94 L158.56,104.17 L159.05,104.39 L159.54,104.62 L160.03,104.84 L160.52,105.07 L161.02,105.29 L161.51,105.51 L162.00,105.73 L162.49,105.95 L162.98,106.16 L163.47,106.38 L163.96,106.60 L164.45,106.81 L164.95,107.02 L165.44,107.24 L165.93,107.45 L166.42,107.66 L166.91,107.86 L167.40,108.07 L167.89,108.28 L168.38,108.48 L168.88,108.69 L169.37,108.89 L169.86,109.09 L170.35,109.29 L170.84,109.49 L171.33,109.69 L171.82,109.89 L172.32,110.08 L172.81,110.28 L173.30,110.47 L173.79,110.67 L174.28,110.86 L174.77,111.05 L175.26,111.24 L175.75,111.43 L176.25,111.61 L176.74,111.80 L177.23,111.99 L177.72,112.17 L178.21,112.35 L178.70,112.54 L179.19,112.72 L179.69,112.90 L180.18,113.07 L180.67,113.25 L181.16,113.43 L181.65,113.60 L182.14,113.78 L182.63,113.95 L183.12,114.12 L183.62,114.30 L184.11,114.47 L184.60,114.63 L185.09,114.80 L185.58,114.97 L186.07,115.13 L186.56,115.30 L187.06,115.46 L187.55,115.63 L188.04,115.79 L188.53,115.95 L189.02,116.11 L189.51,116.26 L190.00,116.42 L190.49,116.58 L190.99,116.73 L191.48,116.89 L191.97,117.04 L192.46,117.19 L192.95,117.34 L193.44,117.49 L193.93,117.64 L194.42,117.79 L194.92,117.94 L195.41,118.08 L195.90,118.23 L196.39,118.37 L196.88,118.51 L197.37,118.65 L197.86,118.79 L198.36,118.93 L198.85,119.07 L199.34,119.21 L199.83,119.34 L200.32,119.48 L200.81,119.61 L201.30,119.74 L201.79,119.88 L202.29,120.01 L202.78,120.14 L203.27,120.27 L203.76,120.39 L204.25,120.52 L204.74,120.64 L205.23,120.77 L205.73,120.89 L206.22,121.02 L206.71,121.14 L207.20,121.26 L207.69,121.38 L208.18,121.49 L208.67,121.61 L209.16,121.73 L209.66,121.84 L210.15,121.96 L210.64,122.07 L211.13,122.18 L211.62,122.29 L212.11,122.40 L212.60,122.51 L213.09,122.62 L213.59,122.73 L214.08,122.83 L214.57,122.94 L215.06,123.04 L215.55,123.14 L216.04,123.25 L216.53,123.35 L217.03,123.45 L217.52,123.55 L218.01,123.64 L218.50,123.74 L218.99,123.84 L219.48,123.93 L219.97,124.02 L220.46,124.12 L220.96,124.21 L221.45,124.30 L221.94,124.39 L222.43,124.48 L222.92,124.56 L223.41,124.65 L223.90,124.74 L224.40,124.82 L224.89,124.90 L225.38,124.99 L225.87,125.07 L226.36,125.15 L226.85,125.23 L227.34,125.31 L227.83,125.38 L228.33,125.46 L228.82,125.54 L229.31,125.61 L229.80,125.68 L230.29,125.76 L230.78,125.83 L231.27,125.90 L231.76,125.97 L232.26,126.04 L232.75,126.10 L233.24,126.17 L233.73,126.24 L234.22,126.30 L234.71,126.36 L235.20,126.43 L235.70,126.49 L236.19,126.55 L236.68,126.61 L237.17,126.67 L237.66,126.72 L238.15,126.78 L238.64,126.83" stroke="#9aa820" stroke-width="2.0"/>
<path d="M77.00,49.60 L77.49,50.12 L77.98,50.29 L78.47,50.44 L78.97,51.02 L79.46,51.20 L79.95,52.02 L80.44,52.94 L80.93,52.60 L81.42,52.95 L81.91,53.79 L82.40,54.14 L82.90,54.44 L83.39,54.43 L83.88,55.19 L84.37,55.88 L84.86,55.46 L85.35,56.21 L85.84,56.03 L86.34,56.66 L86.83,56.83 L87.32,57.86 L87.81,57.82 L88.30,58.82 L88.79,59.15 L89.28,59.38 L89.77,58.82 L90.27,59.98 L90.76,60.54 L91.25,60.97 L91.74,60.67 L92.23,61.45 L92.72,61.61 L93.21,62.03 L93.70,63.13 L94.20,62.73 L94.69,63.39 L95.18,64.11 L95.67,63.86 L96.16,64.39 L96.65,64.82 L97.14,65.14 L97.64,64.96 L98.13,65.82 L98.62,66.66 L99.11,65.83 L99.60,67.12 L100.09,67.15 L100.58,67.17 L101.07,68.55 L101.57,68.38 L102.06,67.92 L102.55,68.74 L103.04,69.26 L103.53,69.27 L104.02,69.93 L104.51,69.94 L105.01,70.54 L105.50,71.16 L105.99,70.62 L106.48,71.28 L106.97,71.31 L107.46,71.85 L107.95,71.62 L108.44,72.16 L108.94,72.61 L109.43,73.34 L109.92,73.73 L110.41,73.04 L110.90,73.54 L111.39,74.40 L111.88,73.63 L112.37,74.53 L112.87,74.96 L113.36,75.78 L113.85,75.83 L114.34,75.71 L114.83,75.97 L115.32,76.29 L115.81,77.27 L116.31,76.76 L116.80,77.08 L117.29,77.61 L117.78,77.69 L118.27,77.93 L118.76,77.82 L119.25,78.53 L119.74,78.62 L120.24,79.52 L120.73,79.57 L121.22,79.56 L121.71,80.09 L122.20,79.94 L122.69,80.75 L123.18,80.58 L123.68,81.06 L124.17,80.56 L124.66,81.46 L125.15,80.90 L125.64,81.00 L126.13,81.93 L126.62,81.94 L127.11,82.60 L127.61,83.67 L128.10,82.68 L128.59,83.00 L129.08,83.56 L129.57,83.91 L130.06,83.87 L130.55,84.09 L131.04,84.68 L131.54,84.84 L132.03,84.44 L132.52,85.04 L133.01,85.31 L133.50,85.10 L133.99,85.84 L134.48,85.61 L134.98,86.56 L135.47,86.47 L135.96,86.64 L136.45,86.58 L136.94,86.98 L137.43,86.44 L137.92,86.99 L138.41,87.80 L138.91,87.01 L139.40,88.40 L139.89,87.57 L140.38,88.77 L140.87,88.33 L141.36,89.18 L141.85,89.12 L142.35,88.65 L142.84,89.96 L143.33,90.23 L143.82,89.82 L144.31,89.93 L144.80,90.16 L145.29,90.03 L145.78,91.04 L146.28,90.57 L146.77,90.95 L147.26,90.84 L147.75,91.09 L148.24,91.01 L148.73,92.20 L149.22,91.82 L149.71,92.44 L150.21,92.24 L150.70,92.13 L151.19,92.45 L151.68,92.53 L152.17,92.93 L152.66,92.94 L153.15,93.14 L153.65,92.88 L154.14,93.27 L154.63,94.42 L155.12,93.65 L155.61,93.66 L156.10,94.38 L156.59,94.96 L157.08,93.98 L157.58,94.63 L158.07,94.62 L158.56,94.32 L159.05,95.47 L159.54,95.32 L160.03,95.51 L160.52,95.33 L161.02,95.96 L161.51,95.71 L162.00,96.01 L162.49,95.77 L162.98,95.87 L163.47,97.03 L163.96,96.43 L164.45,96.89 L164.95,96.90 L165.44,96.87 L165.93,96.98 L166.42,97.57 L166.91,97.33 L167.40,97.53 L167.89,97.73 L168.38,98.32 L168.88,98.25 L169.37,98.25 L169.86,98.00 L170.35,97.80 L170.84,98.86 L171.33,98.98 L171.82,98.66 L172.32,99.06 L172.81,99.27 L173.30,99.41 L173.79,99.56 L174.28,99.12 L174.77,100.03 L175.26,99.03 L175.75,99.99 L176.25,99.95 L176.74,100.21 L177.23,100.72 L177.72,100.67 L178.21,99.72 L178.70,99.61 L179.19,100.72 L179.69,100.09 L180.18,100.59 L180.67,101.03 L181.16,100.13 L181.65,100.04 L182.14,101.09 L182.63,101.10 L183.12,101.07 L183.62,101.28 L184.11,101.01 L184.60,100.84 L185.09,101.47 L185.58,101.24 L186.07,101.05 L186.56,102.00 L187.06,101.86 L187.55,102.13 L188.04,101.65 L188.53,101.86 L189.02,101.81 L189.51,101.93 L190.00,102.44 L190.49,102.13 L190.99,102.66 L191.48,102.72 L191.97,103.47 L192.46,102.18 L192.95,103.16 L193.44,102.84 L193.93,102.94 L194.42,102.43 L194.92,102.89 L195.41,103.44 L195.90,103.17 L196.39,103.30 L196.88,103.21 L197.37,103.85 L197.86,103.44 L198.36,102.63 L198.85,103.29 L199.34,102.83 L199.83,102.37 L200.32,103.52 L200.81,104.31 L201.30,103.85 L201.79,103.41 L202.29,103.55 L202.78,104.43 L203.27,104.09 L203.76,104.09 L204.25,104.10 L204.74,104.18 L205.23,104.52 L205.73,104.47 L206.22,104.37 L206.71,103.91 L207.20,104.57 L207.69,104.12 L208.18,104.87 L208.67,103.96 L209.16,104.45 L209.66,104.53 L210.15,104.04 L210.64,105.29 L211.13,105.21 L211.62,104.47 L212.11,104.99 L212.60,104.86 L213.09,103.69 L213.59,104.86 L214.08,104.75 L214.57,104.83 L215.06,104.39 L215.55,104.73 L216.04,104.79 L216.53,105.35 L217.03,105.02 L217.52,104.90 L218.01,105.53 L218.50,104.71 L218.99,104.79 L219.48,104.23 L219.97,105.59 L220.46,105.36 L220.96,105.35 L221.45,105.25 L221.94,105.04 L222.43,105.08 L222.92,104.90 L223.41,104.92 L223.90,105.02 L224.40,105.61 L224.89,105.22 L225.38,104.98 L225.87,104.76 L226.36,104.74 L226.85,105.63 L227.34,105.18 L227.83,105.00 L228.33,104.82 L228.82,104.51 L229.31,104.92 L229.80,105.28 L230.29,104.76 L230.78,104.81 L231.27,104.80 L231.76,104.92 L232.26,104.22 L232.75,104.74 L233.24,104.48 L233.73,105.15 L234.22,104.47 L234.71,104.98 L235.20,105.34 L235.70,104.58 L236.19,104.44 L236.68,104.73 L237.17,104.62 L237.66,104.20 L238.15,104.75 L238.64,105.34" stroke="#808080" stroke-width="2.2"/>
<path d="M77.00,49.48 L77.49,49.93 L77.98,49.98 L78.47,51.01 L78.97,50.72 L79.46,51.19 L79.95,52.67 L80.44,52.09 L80.93,53.38 L81.42,53.97 L81.91,53.78 L82.40,54.28 L82.90,55.28 L83.39,54.67 L83.88,54.84 L84.37,54.83 L84.86,55.79 L85.35,56.76 L85.84,56.84 L86.34,56.30 L86.83,56.65 L87.32,57.11 L87.81,57.78 L88.30,57.85 L88.79,58.34 L89.28,58.67 L89.77,58.70 L90.27,59.10 L90.76,59.49 L91.25,59.64 L91.74,60.18 L92.23,61.07 L92.72,60.77 L93.21,60.79 L93.70,60.26 L94.20,61.45 L94.69,60.66 L95.18,61.14 L95.67,62.41 L96.16,62.58 L96.65,62.43 L97.14,61.95 L97.64,62.78 L98.13,62.86 L98.62,63.67 L99.11,64.60 L99.60,63.89 L100.09,63.64 L100.58,63.66 L101.07,64.35 L101.57,64.48 L102.06,64.22 L102.55,64.97 L103.04,64.58 L103.53,65.76 L104.02,65.91 L104.51,66.08 L105.01,65.54 L105.50,66.15 L105.99,66.01 L106.48,66.05 L106.97,66.23 L107.46,65.95 L107.95,66.03 L108.44,67.19 L108.94,66.89 L109.43,67.22 L109.92,67.72 L110.41,66.63 L110.90,67.20 L111.39,67.78 L111.88,68.02 L112.37,67.82 L112.87,68.59 L113.36,68.37 L113.85,67.88 L114.34,68.15 L114.83,69.07 L115.32,69.06 L115.81,68.14 L116.31,69.75 L116.80,69.55 L117.29,70.03 L117.78,69.39 L118.27,69.57 L118.76,69.34 L119.25,71.12 L119.74,70.04 L120.24,70.97 L120.73,70.10 L121.22,70.59 L121.71,69.90 L122.20,70.61 L122.69,71.35 L123.18,70.47 L123.68,71.63 L124.17,71.42 L124.66,70.92 L125.15,71.28 L125.64,71.41 L126.13,71.71 L126.62,71.60 L127.11,71.58 L127.61,71.93 L128.10,71.72 L128.59,71.71 L129.08,72.38 L129.57,72.91 L130.06,71.94 L130.55,72.74 L131.04,72.55 L131.54,72.51 L132.03,73.44 L132.52,72.93 L133.01,73.93 L133.50,73.01 L133.99,73.63 L134.48,73.44 L134.98,73.30 L135.47,73.99 L135.96,73.74 L136.45,74.16 L136.94,73.94 L137.43,73.54 L137.92,74.05 L138.41,74.18 L138.91,74.65 L139.40,73.86 L139.89,74.30 L140.38,73.60 L140.87,74.72 L141.36,73.99 L141.85,73.71 L142.35,74.55 L142.84,75.12 L143.33,73.99 L143.82,74.23 L144.31,74.43 L144.80,74.30 L145.29,75.02 L145.78,74.53 L146.28,74.61 L146.77,75.23 L147.26,74.66 L147.75,75.23 L148.24,74.63 L148.73,74.54 L149.22,74.29 L149.71,75.97 L150.21,75.00 L150.70,75.27 L151.19,75.16 L151.68,75.25 L152.17,75.20 L152.66,76.03 L153.15,74.70 L153.65,74.46 L154.14,74.70 L154.63,74.55 L155.12,75.47 L155.61,75.50 L156.10,74.68 L156.59,74.47 L157.08,74.92 L157.58,75.69 L158.07,73.78 L158.56,75.27 L159.05,74.52 L159.54,75.46 L160.03,74.48 L160.52,74.81 L161.02,74.24 L161.51,74.46 L162.00,75.50 L162.49,75.22 L162.98,74.64 L163.47,74.41 L163.96,73.92 L164.45,74.57 L164.95,74.71 L165.44,74.66 L165.93,74.63 L166.42,74.14 L166.91,74.58 L167.40,74.56 L167.89,75.12 L168.38,75.34 L168.88,74.40 L169.37,74.07 L169.86,74.34 L170.35,74.05 L170.84,73.94 L171.33,74.20 L171.82,73.71 L172.32,74.41 L172.81,74.04 L173.30,74.15 L173.79,73.90 L174.28,73.61 L174.77,73.46 L175.26,73.73 L175.75,73.54 L176.25,73.85 L176.74,73.70 L177.23,73.04 L177.72,73.64 L178.21,72.96 L178.70,73.25 L179.19,73.36 L179.69,72.52 L180.18,73.45 L180.67,73.44 L181.16,73.26 L181.65,73.10 L182.14,73.08 L182.63,72.77 L183.12,73.04 L183.62,72.87 L184.11,73.12 L184.60,72.50 L185.09,73.11 L185.58,73.02 L186.07,72.85 L186.56,72.68 L187.06,73.08 L187.55,72.04 L188.04,72.96 L188.53,72.82 L189.02,72.80 L189.51,72.81 L190.00,72.30 L190.49,72.44 L190.99,72.80 L191.48,72.67 L191.97,72.53 L192.46,71.72 L192.95,72.60 L193.44,72.85 L193.93,72.74 L194.42,72.36 L194.92,71.52 L195.41,72.61 L195.90,72.08 L196.39,70.98 L196.88,72.25 L197.37,71.38 L197.86,71.43 L198.36,71.70 L198.85,72.53 L199.34,71.76 L199.83,72.02 L200.32,72.66 L200.81,72.56 L201.30,71.77 L201.79,71.68 L202.29,71.20 L202.78,71.43 L203.27,71.92 L203.76,71.88 L204.25,71.73 L204.74,72.11 L205.23,71.30 L205.73,71.60 L206.22,71.94 L206.71,71.86 L207.20,72.06 L207.69,71.74 L208.18,71.41 L208.67,71.70 L209.16,71.07 L209.66,70.77 L210.15,71.75 L210.64,71.45 L211.13,71.61 L211.62,70.69 L212.11,71.28 L212.60,71.16 L213.09,71.03 L213.59,70.39 L214.08,71.24 L214.57,71.78 L215.06,71.54 L215.55,71.08 L216.04,71.34 L216.53,71.67 L217.03,70.07 L217.52,71.25 L218.01,71.53 L218.50,71.58 L218.99,72.03 L219.48,71.76 L219.97,71.37 L220.46,71.35 L220.96,71.55 L221.45,70.94 L221.94,71.15 L222.43,71.56 L222.92,72.01 L223.41,71.04 L223.90,71.08 L224.40,71.17 L224.89,71.67 L225.38,71.03 L225.87,71.69 L226.36,70.57 L226.85,70.91 L227.34,70.88 L227.83,71.31 L228.33,71.41 L228.82,70.24 L229.31,70.49 L229.80,71.03 L230.29,70.57 L230.78,70.16 L231.27,71.29 L231.76,71.03 L232.26,71.01 L232.75,70.55 L233.24,71.21 L233.73,70.62 L234.22,71.20 L234.71,70.28 L235.20,70.28 L235.70,70.74 L236.19,70.31 L236.68,70.91 L237.17,70.70 L237.66,70.15 L238.15,70.58 L238.64,70.37" stroke="#996262" stroke-width="2.3"/>
<path d="M77.00,51.13 L77.49,50.51 L77.98,50.59 L78.47,51.25 L78.97,51.66 L79.46,51.56 L79.95,50.79 L80.44,50.85 L80.93,51.38 L81.42,50.71 L81.91,50.37 L82.40,50.81 L82.90,50.94 L83.39,50.43 L83.88,50.10 L84.37,50.19 L84.86,51.03 L85.35,50.46 L85.84,50.71 L86.34,50.85 L86.83,51.01 L87.32,50.63 L87.81,50.96 L88.30,50.41 L88.79,50.62 L89.28,50.35 L89.77,51.22 L90.27,50.75 L90.76,50.47 L91.25,50.62 L91.74,50.67 L92.23,51.04 L92.72,50.12 L93.21,50.35 L93.70,50.61 L94.20,51.78 L94.69,51.14 L95.18,50.72 L95.67,51.05 L96.16,51.59 L96.65,50.67 L97.14,50.62 L97.64,51.25 L98.13,50.96 L98.62,51.03 L99.11,50.56 L99.60,51.53 L100.09,51.45 L100.58,50.99 L101.07,51.04 L101.57,49.95 L102.06,51.02 L102.55,50.68 L103.04,50.94 L103.53,51.04 L104.02,50.63 L104.51,50.09 L105.01,50.91 L105.50,50.47 L105.99,50.63 L106.48,50.52 L106.97,50.63 L107.46,49.84 L107.95,51.25 L108.44,50.86 L108.94,51.21 L109.43,51.55 L109.92,50.77 L110.41,50.04 L110.90,50.40 L111.39,50.28 L111.88,50.56 L112.37,50.79 L112.87,49.96 L113.36,50.90 L113.85,50.16 L114.34,50.88 L114.83,50.72 L115.32,50.64 L115.81,50.73 L116.31,50.55 L116.80,50.52 L117.29,50.09 L117.78,50.75 L118.27,51.50 L118.76,51.55 L119.25,51.29 L119.74,51.04 L120.24,50.49 L120.73,51.34 L121.22,50.74 L121.71,50.73 L122.20,50.65 L122.69,50.80 L123.18,50.59 L123.68,50.73 L124.17,50.33 L124.66,50.61 L125.15,51.67 L125.64,50.73 L126.13,50.67 L126.62,50.98 L127.11,51.05 L127.61,50.32 L128.10,50.68 L128.59,51.13 L129.08,50.87 L129.57,50.81 L130.06,51.38 L130.55,50.49 L131.04,50.80 L131.54,50.55 L132.03,51.36 L132.52,49.98 L133.01,50.49 L133.50,50.55 L133.99,51.03 L134.48,51.01 L134.98,51.32 L135.47,50.13 L135.96,51.06 L136.45,50.65 L136.94,50.50 L137.43,50.98 L137.92,50.39 L138.41,49.93 L138.91,50.61 L139.40,50.16 L139.89,50.50 L140.38,50.91 L140.87,50.89 L141.36,51.40 L141.85,50.68 L142.35,50.15 L142.84,50.46 L143.33,50.39 L143.82,50.28 L144.31,50.94 L144.80,50.50 L145.29,49.97 L145.78,51.04 L146.28,50.72 L146.77,50.91 L147.26,50.80 L147.75,51.02 L148.24,50.78 L148.73,51.26 L149.22,50.93 L149.71,50.92 L150.21,50.93 L150.70,50.18 L151.19,50.70 L151.68,50.66 L152.17,50.85 L152.66,50.22 L153.15,51.42 L153.65,50.80 L154.14,50.28 L154.63,50.08 L155.12,50.65 L155.61,50.73 L156.10,50.48 L156.59,50.80 L157.08,50.51 L157.58,50.98 L158.07,50.47 L158.56,50.75 L159.05,51.15 L159.54,51.79 L160.03,50.36 L160.52,50.58 L161.02,50.43 L161.51,51.08 L162.00,50.30 L162.49,50.57 L162.98,50.75 L163.47,50.37 L163.96,50.38 L164.45,50.57 L164.95,49.92 L165.44,50.18 L165.93,50.60 L166.42,50.82 L166.91,50.69 L167.40,50.05 L167.89,50.58 L168.38,51.08 L168.88,50.98 L169.37,50.73 L169.86,50.41 L170.35,51.01 L170.84,50.53 L171.33,50.29 L171.82,50.44 L172.32,51.34 L172.81,50.85 L173.30,51.23 L173.79,50.57 L174.28,51.14 L174.77,50.52 L175.26,50.70 L175.75,51.76 L176.25,51.07 L176.74,50.56 L177.23,50.73 L177.72,50.89 L178.21,51.25 L178.70,50.57 L179.19,50.07 L179.69,50.65 L180.18,50.77 L180.67,50.81 L181.16,51.29 L181.65,50.89 L182.14,51.09 L182.63,50.32 L183.12,51.11 L183.62,51.60 L184.11,51.07 L184.60,50.86 L185.09,50.82 L185.58,51.48 L186.07,50.39 L186.56,50.72 L187.06,50.95 L187.55,51.06 L188.04,50.59 L188.53,50.89 L189.02,50.65 L189.51,50.81 L190.00,50.71 L190.49,50.31 L190.99,50.75 L191.48,51.11 L191.97,50.38 L192.46,50.67 L192.95,51.03 L193.44,50.33 L193.93,50.84 L194.42,50.34 L194.92,51.22 L195.41,51.69 L195.90,51.57 L196.39,50.67 L196.88,51.06 L197.37,50.81 L197.86,50.80 L198.36,51.38 L198.85,50.23 L199.34,51.18 L199.83,50.74 L200.32,51.33 L200.81,50.84 L201.30,50.49 L201.79,50.87 L202.29,51.06 L202.78,50.78 L203.27,50.96 L203.76,50.55 L204.25,49.91 L204.74,51.12 L205.23,51.04 L205.73,50.82 L206.22,50.79 L206.71,51.18 L207.20,50.58 L207.69,50.48 L208.18,50.69 L208.67,51.24 L209.16,50.21 L209.66,51.24 L210.15,50.51 L210.64,50.32 L211.13,51.27 L211.62,50.72 L212.11,50.24 L212.60,50.62 L213.09,51.13 L213.59,51.24 L214.08,50.59 L214.57,50.93 L215.06,51.05 L215.55,50.50 L216.04,50.90 L216.53,50.75 L217.03,50.55 L217.52,50.57 L218.01,50.79 L218.50,50.77 L218.99,50.54 L219.48,50.59 L219.97,51.21 L220.46,50.85 L220.96,51.12 L221.45,51.24 L221.94,51.00 L222.43,51.67 L222.92,50.43 L223.41,51.09 L223.90,50.64 L224.40,51.50 L224.89,51.44 L225.38,49.98 L225.87,50.37 L226.36,51.03 L226.85,51.08 L227.34,51.06 L227.83,50.73 L228.33,50.94 L228.82,51.02 L229.31,50.73 L229.80,51.17 L230.29,49.86 L230.78,51.02 L231.27,50.35 L231.76,51.15 L232.26,50.67 L232.75,50.41 L233.24,50.91 L233.73,50.40 L234.22,50.40 L234.71,50.14 L235.20,50.75 L235.70,50.96 L236.19,51.17 L236.68,50.71 L237.17,51.18 L237.66,50.77 L238.15,50.73 L238.64,50.99" stroke="#008000" stroke-width="2.2"/>
</g>
<clipPath id="cd0"><rect x="76.9" y="41.1" width="123.1" height="252.1"/></clipPath>
<path clip-path="url(#cd0)" d="M77.0,49.6 L389.9,304.2" fill="none" stroke="#0000ff" stroke-width="3.6" stroke-dasharray="11.8,9.6"/>
<clipPath id="cd1"><rect x="200.0" y="41.1" width="50.0" height="252.1"/></clipPath>
<path clip-path="url(#cd1)" d="M77.0,49.6 L389.9,304.2" fill="none" stroke="#0000ff" stroke-width="3.4" stroke-dasharray="11.8,9.6"/>
<clipPath id="cd2"><rect x="250.0" y="41.1" width="40.0" height="252.1"/></clipPath>
<path clip-path="url(#cd2)" d="M77.0,49.6 L389.9,304.2" fill="none" stroke="#0000ff" stroke-width="3.1" stroke-dasharray="11.8,9.6"/>
<clipPath id="cd3"><rect x="290.0" y="41.1" width="148.4" height="252.1"/></clipPath>
<path clip-path="url(#cd3)" d="M77.0,49.6 L389.9,304.2" fill="none" stroke="#0000ff" stroke-width="2.9" stroke-dasharray="11.8,9.6"/>
<circle cx="376.9" cy="292.0" r="1.3" fill="#0000ff"/>
<rect x="84.9" y="190.6" width="127.6" height="95.6" fill="#fff" stroke="#555" stroke-width="0.8"/>
<path d="M102.8,190.6 v3.0 M102.8,286.2 v-3.0" stroke="#333" stroke-width="0.8"/>
<path d="M121.1,190.6 v1.8 M121.1,286.2 v-1.8" stroke="#333" stroke-width="0.8"/>
<path d="M139.4,190.6 v3.0 M139.4,286.2 v-3.0" stroke="#333" stroke-width="0.8"/>
<path d="M157.7,190.6 v1.8 M157.7,286.2 v-1.8" stroke="#333" stroke-width="0.8"/>
<path d="M176.0,190.6 v3.0 M176.0,286.2 v-3.0" stroke="#333" stroke-width="0.8"/>
<path d="M194.3,190.6 v1.8 M194.3,286.2 v-1.8" stroke="#333" stroke-width="0.8"/>
<path d="M212.6,190.6 v3.0 M212.6,286.2 v-3.0" stroke="#333" stroke-width="0.8"/>
<path d="M212.5,195.0 h-2.3" stroke="#333" stroke-width="0.8"/>
<path d="M212.5,204.2 h-2.3" stroke="#333" stroke-width="0.8"/>
<path d="M212.5,213.3 h-2.3" stroke="#333" stroke-width="0.8"/>
<path d="M212.5,222.5 h-2.3" stroke="#333" stroke-width="0.8"/>
<path d="M212.5,231.7 h-2.3" stroke="#333" stroke-width="0.8"/>
<path d="M212.5,240.8 h-2.3" stroke="#333" stroke-width="0.8"/>
<path d="M212.5,250.0 h-2.3" stroke="#333" stroke-width="0.8"/>
<path d="M212.5,259.2 h-2.3" stroke="#333" stroke-width="0.8"/>
<path d="M212.5,268.4 h-2.3" stroke="#333" stroke-width="0.8"/>
<path d="M212.5,277.5 h-2.3" stroke="#333" stroke-width="0.8"/>
<path d="M165.0,195.2 L166.6,195.2 L165.1,203.9 L171.0,203.9 L169.9,213.5 L176.7,213.5 L175.1,222.5 L180.2,222.5 L179.1,231.5 L184.4,231.5 L182.8,240.8 L186.3,240.8 L185.2,249.9 L188.2,249.9 L187.1,258.9 L193.0,258.9 L191.9,268.0 L196.2,268.0 L195.9,277.2 L201.0,277.2" fill="none" stroke="#000" stroke-width="0.8"/>
<rect x="85.3" y="193.2" width="81.7" height="3.9" fill="#000"/>
<rect x="164.3" y="202.0" width="7.5" height="3.9" rx="0.6" fill="#000"/>
<rect x="169.1" y="211.6" width="8.4" height="3.9" rx="0.6" fill="#000"/>
<rect x="174.3" y="220.6" width="6.7" height="3.9" rx="0.6" fill="#000"/>
<rect x="178.3" y="229.6" width="6.9" height="3.9" rx="0.6" fill="#000"/>
<rect x="182.0" y="238.9" width="5.1" height="3.9" rx="0.6" fill="#000"/>
<rect x="184.4" y="248.0" width="4.6" height="3.9" rx="0.6" fill="#000"/>
<rect x="186.3" y="256.9" width="7.5" height="3.9" rx="0.6" fill="#000"/>
<rect x="191.1" y="266.1" width="5.9" height="3.9" rx="0.6" fill="#000"/>
<rect x="195.1" y="275.2" width="6.7" height="3.9" rx="0.6" fill="#000"/>
<path d="M165.4,244 V216" stroke="#ff0000" stroke-width="2.0" fill="none"/>
<path d="M165.4,208.6 l-2.8,9.6 h5.6 z" fill="#ff0000"/>
<text x="156.6" y="260.9" font-family="Liberation Serif" font-size="19.6" text-anchor="start" fill="#000">H</text>
<text x="170.6" y="270.8" font-family="Liberation Sans" font-size="12.5" text-anchor="start" fill="#000">c1</text>
<rect x="85.5" y="266.6" width="38.3" height="18.3" fill="#000"/>
<text x="105.3" y="280.5" font-family="Liberation Sans" font-size="13.4" text-anchor="middle" fill="#fff">T=3K</text>
<text x="102.8" y="185.6" font-family="Liberation Sans" font-size="14.0" text-anchor="middle" fill="#000">10</text>
<text x="139.4" y="185.6" font-family="Liberation Sans" font-size="14.0" text-anchor="middle" fill="#000">20</text>
<text x="176.0" y="185.6" font-family="Liberation Sans" font-size="14.0" text-anchor="middle" fill="#000">30</text>
<text x="212.6" y="185.6" font-family="Liberation Sans" font-size="14.0" text-anchor="middle" fill="#000">40</text>
<text x="116.0" y="162.7" font-family="Liberation Serif" font-size="15.4" text-anchor="start" fill="#000">H</text>
<text x="132.0" y="164.4" font-family="Liberation Sans" font-size="18.0" text-anchor="start" fill="#000">(Oe)</text>
<text x="217.3" y="200.3" font-family="Liberation Sans" font-size="16.5" text-anchor="start" fill="#000">1</text>
<text x="218.0" y="280.6" font-family="Liberation Sans" font-size="14.0" text-anchor="start" fill="#000">0.9999</text>
<g transform="translate(244.9,235.9) rotate(-90)">
<text x="0" y="0" font-family="Liberation Sans" font-size="22.3" font-style="italic" text-anchor="middle">R</text>
</g>
<path d="M225,222.2 H247.5 M225,250.3 H247.5" stroke="#000" stroke-width="1.15"/>
<rect x="76.9" y="41.1" width="361.5" height="252.1" fill="none" stroke="#000" stroke-width="1.5"/>
<path d="M137.2,41.1 v4.0 M137.2,293.2 v-4.0" stroke="#000" stroke-width="1.4"/>
<path d="M197.3,41.1 v7.0 M197.3,293.2 v-7.0" stroke="#000" stroke-width="1.4"/>
<path d="M257.5,41.1 v4.0 M257.5,293.2 v-4.0" stroke="#000" stroke-width="1.4"/>
<path d="M317.7,41.1 v7.0 M317.7,293.2 v-7.0" stroke="#000" stroke-width="1.4"/>
<path d="M377.8,41.1 v4.0 M377.8,293.2 v-4.0" stroke="#000" stroke-width="1.4"/>
<path d="M76.9,96.1 h4.0" stroke="#000" stroke-width="1.4"/>
<path d="M76.9,142.6 h7.0" stroke="#000" stroke-width="1.4"/>
<path d="M76.9,189.1 h4.0" stroke="#000" stroke-width="1.4"/>
<path d="M76.9,235.6 h7.0" stroke="#000" stroke-width="1.4"/>
<path d="M76.9,282.1 h4.0" stroke="#000" stroke-width="1.4"/>
<text x="77.0" y="28.4" font-family="Liberation Sans" font-size="25.4" text-anchor="middle" fill="#000">0</text>
<text x="197.3" y="28.4" font-family="Liberation Sans" font-size="25.4" text-anchor="middle" fill="#000">30</text>
<text x="317.7" y="28.4" font-family="Liberation Sans" font-size="25.4" text-anchor="middle" fill="#000">60</text>
<text x="438.0" y="28.4" font-family="Liberation Sans" font-size="25.4" text-anchor="middle" fill="#000">90</text>
<text x="224.3" y="27.2" font-family="Liberation Serif" font-size="20.3" text-anchor="start" fill="#000">H</text>
<text x="244.8" y="27.3" font-family="Liberation Sans" font-size="24.0" text-anchor="start" fill="#000">(Oe)</text>
<text x="69.1" y="57.6" font-family="Liberation Sans" font-size="25.4" text-anchor="end" fill="#000">0</text>
<text x="69.1" y="150.2" font-family="Liberation Sans" font-size="25.4" text-anchor="end" fill="#000">-4</text>
<text x="69.1" y="243.2" font-family="Liberation Sans" font-size="25.4" text-anchor="end" fill="#000">-8</text>
<g transform="translate(32.2,249.6) rotate(-90)">
<text x="-0.4" y="0" font-family="Liberation Serif" font-size="26.6">M</text>
<text x="30.8" y="0" font-family="Liberation Sans" font-size="30.5">(10</text>
<text x="74.5" y="-16" font-family="Liberation Sans" font-size="18.5">-2</text>
<text x="90.3" y="0" font-family="Liberation Sans" font-size="30.3">emu)</text>
</g>
<path d="M310,65.2 H336" stroke="#000000" stroke-width="1.2"/>
<circle cx="323" cy="65.2" r="1.0" fill="#000000"/>
<text x="340.2" y="69.4" font-family="Liberation Sans" font-size="11.9" text-anchor="start" fill="#000">2K</text>
<path d="M310,79.9 H336" stroke="#ff0000" stroke-width="1.2"/>
<circle cx="323" cy="79.9" r="1.0" fill="#ff0000"/>
<text x="340.2" y="84.1" font-family="Liberation Sans" font-size="11.9" text-anchor="start" fill="#000">2.5K</text>
<path d="M310,94.6 H336" stroke="#0000ff" stroke-width="1.3"/>
<circle cx="323" cy="94.6" r="1.0" fill="#0000ff"/>
<text x="340.2" y="98.8" font-family="Liberation Sans" font-size="11.9" text-anchor="start" fill="#000">3K</text>
<path d="M310,109.2 H336" stroke="#ff00ff" stroke-width="1.2"/>
<circle cx="323" cy="109.2" r="1.0" fill="#ff00ff"/>
<text x="340.2" y="113.4" font-family="Liberation Sans" font-size="11.9" text-anchor="start" fill="#000">3.5K</text>
<path d="M310,123.9 H336" stroke="#008000" stroke-width="1.5"/>
<circle cx="323" cy="123.9" r="1.0" fill="#008000"/>
<text x="340.2" y="128.1" font-family="Liberation Sans" font-size="11.9" text-anchor="start" fill="#000">4K</text>
<path d="M310,138.6 H336" stroke="#000080" stroke-width="1.5"/>
<circle cx="323" cy="138.6" r="1.0" fill="#000080"/>
<text x="340.2" y="142.8" font-family="Liberation Sans" font-size="11.9" text-anchor="start" fill="#000">4.5K</text>
<path d="M310,153.3 H336" stroke="#8000ff" stroke-width="1.3"/>
<circle cx="323" cy="153.3" r="1.0" fill="#8000ff"/>
<text x="340.2" y="157.5" font-family="Liberation Sans" font-size="11.9" text-anchor="start" fill="#000">5K</text>
<path d="M310,168.0 H336" stroke="#800080" stroke-width="2.0"/>
<circle cx="323" cy="168.0" r="1.0" fill="#800080"/>
<text x="340.2" y="172.2" font-family="Liberation Sans" font-size="11.9" text-anchor="start" fill="#000">5.5K</text>
<path d="M310,182.6 H336" stroke="#800000" stroke-width="1.8"/>
<circle cx="323" cy="182.6" r="1.0" fill="#800000"/>
<text x="340.2" y="186.8" font-family="Liberation Sans" font-size="11.9" text-anchor="start" fill="#000">6K</text>
<path d="M310,197.3 H336" stroke="#808000" stroke-width="1.3"/>
<circle cx="323" cy="197.3" r="1.0" fill="#808000"/>
<text x="340.2" y="201.5" font-family="Liberation Sans" font-size="11.9" text-anchor="start" fill="#000">6.25K</text>
<path d="M375.5,65.2 H402" stroke="#1f5fbf" stroke-width="1.2"/>
<circle cx="388.7" cy="65.2" r="1.0" fill="#1f5fbf"/>
<text x="406.0" y="69.4" font-family="Liberation Sans" font-size="11.9" text-anchor="start" fill="#000">6.5K</text>
<path d="M375.5,79.9 H402" stroke="#3c9a9a" stroke-width="1.3"/>
<circle cx="388.7" cy="79.9" r="1.0" fill="#3c9a9a"/>
<text x="406.0" y="84.1" font-family="Liberation Sans" font-size="11.9" text-anchor="start" fill="#000">6.75K</text>
<path d="M375.5,94.6 H402" stroke="#a0703a" stroke-width="1.9"/>
<circle cx="388.7" cy="94.6" r="1.0" fill="#a0703a"/>
<text x="406.0" y="98.8" font-family="Liberation Sans" font-size="11.9" text-anchor="start" fill="#000">7K</text>
<path d="M375.5,109.2 H402" stroke="#00c040" stroke-width="1.3"/>
<circle cx="388.7" cy="109.2" r="1.0" fill="#00c040"/>
<text x="406.0" y="113.4" font-family="Liberation Sans" font-size="11.9" text-anchor="start" fill="#000">7.25K</text>
<path d="M375.5,123.9 H402" stroke="#d040a0" stroke-width="1.9"/>
<circle cx="388.7" cy="123.9" r="1.0" fill="#d040a0"/>
<text x="406.0" y="128.1" font-family="Liberation Sans" font-size="11.9" text-anchor="start" fill="#000">7.5K</text>
<path d="M375.5,138.6 H402" stroke="#40d0d8" stroke-width="1.3"/>
<circle cx="388.7" cy="138.6" r="1.0" fill="#40d0d8"/>
<text x="406.0" y="142.8" font-family="Liberation Sans" font-size="11.9" text-anchor="start" fill="#000">7.75K</text>
<path d="M375.5,153.3 H402" stroke="#3838a0" stroke-width="1.5"/>
<circle cx="388.7" cy="153.3" r="1.0" fill="#3838a0"/>
<text x="406.0" y="157.5" font-family="Liberation Sans" font-size="11.9" text-anchor="start" fill="#000">8K</text>
<path d="M375.5,168.0 H402" stroke="#9aa820" stroke-width="1.9"/>
<circle cx="388.7" cy="168.0" r="1.0" fill="#9aa820"/>
<text x="406.0" y="172.2" font-family="Liberation Sans" font-size="11.9" text-anchor="start" fill="#000">8.25K</text>
<path d="M375.5,182.6 H402" stroke="#808080" stroke-width="1.5"/>
<circle cx="388.7" cy="182.6" r="1.0" fill="#808080"/>
<text x="406.0" y="186.8" font-family="Liberation Sans" font-size="11.9" text-anchor="start" fill="#000">8.5K</text>
<path d="M375.5,197.3 H402" stroke="#996262" stroke-width="1.5"/>
<circle cx="388.7" cy="197.3" r="1.0" fill="#996262"/>
<text x="406.0" y="201.5" font-family="Liberation Sans" font-size="11.9" text-anchor="start" fill="#000">8.75K</text>
<path d="M375.5,212.0 H402" stroke="#008000" stroke-width="2.0"/>
<circle cx="388.7" cy="212.0" r="1.0" fill="#008000"/>
<text x="406.0" y="216.2" font-family="Liberation Sans" font-size="11.9" text-anchor="start" fill="#000">9K</text>
<clipPath id="cp1"><rect x="85.3" y="298.4" width="168.6" height="146.4"/></clipPath>
<g clip-path="url(#cp1)">
<path d="M85.3,438.4 H153.4" stroke="#000" stroke-width="1.7"/>
<path d="M119.6,446.5 L195.6,315.3" stroke="#ff0000" stroke-width="2.7" stroke-linecap="butt"/>
<circle cx="85.3" cy="436.0" r="2.9" fill="none" stroke="#000" stroke-width="1.5"/>
<circle cx="93.4" cy="437.3" r="2.9" fill="none" stroke="#000" stroke-width="1.5"/>
<circle cx="99.1" cy="438.4" r="2.9" fill="none" stroke="#000" stroke-width="1.5"/>
<circle cx="104.9" cy="436.5" r="2.9" fill="none" stroke="#000" stroke-width="1.5"/>
<circle cx="110.4" cy="436.0" r="2.9" fill="none" stroke="#000" stroke-width="1.5"/>
<circle cx="116.1" cy="432.1" r="2.9" fill="none" stroke="#000" stroke-width="1.5"/>
<circle cx="121.8" cy="430.5" r="2.9" fill="none" stroke="#000" stroke-width="1.5"/>
<circle cx="127.3" cy="424.3" r="2.9" fill="none" stroke="#000" stroke-width="1.5"/>
<circle cx="133.0" cy="417.7" r="2.9" fill="none" stroke="#000" stroke-width="1.5"/>
<circle cx="138.8" cy="411.7" r="2.9" fill="none" stroke="#000" stroke-width="1.5"/>
<circle cx="152.6" cy="389.0" r="2.9" fill="none" stroke="#000" stroke-width="1.5"/>
<circle cx="166.6" cy="365.5" r="2.9" fill="none" stroke="#000" stroke-width="1.5"/>
<circle cx="180.6" cy="341.0" r="2.9" fill="none" stroke="#000" stroke-width="1.5"/>
<circle cx="194.9" cy="316.5" r="2.9" fill="none" stroke="#000" stroke-width="1.5"/>
</g>
<rect x="85.3" y="298.4" width="168.6" height="146.4" fill="none" stroke="#222" stroke-width="0.9"/>
<path d="M113.4,298.4 v3.0 M113.4,444.8 v-3.0" stroke="#222" stroke-width="0.8"/>
<path d="M141.5,298.4 v2.0 M141.5,444.8 v-2.0" stroke="#222" stroke-width="0.8"/>
<path d="M169.6,298.4 v3.0 M169.6,444.8 v-3.0" stroke="#222" stroke-width="0.8"/>
<path d="M197.7,298.4 v2.0 M197.7,444.8 v-2.0" stroke="#222" stroke-width="0.8"/>
<path d="M225.8,298.4 v3.0 M225.8,444.8 v-3.0" stroke="#222" stroke-width="0.8"/>
<path d="M85.3,409.7 h2.0 M253.9,409.7 h-2.0" stroke="#222" stroke-width="0.8"/>
<path d="M85.3,374.6 h3.0 M253.9,374.6 h-3.0" stroke="#222" stroke-width="0.8"/>
<path d="M85.3,339.5 h2.0 M253.9,339.5 h-2.0" stroke="#222" stroke-width="0.8"/>
<path d="M85.3,304.4 h3.0 M253.9,304.4 h-3.0" stroke="#222" stroke-width="0.8"/>
<text x="82.4" y="451.9" font-family="Liberation Sans" font-size="24.0" text-anchor="end" fill="#000">0</text>
<text x="82.4" y="383.6" font-family="Liberation Sans" font-size="24.0" text-anchor="end" fill="#000">4</text>
<text x="82.4" y="313.4" font-family="Liberation Sans" font-size="24.0" text-anchor="end" fill="#000">8</text>
<rect x="86.3" y="299.3" width="55.5" height="25.8" fill="#000"/>
<text x="114.1" y="318.4" font-family="Liberation Sans" font-size="17.2" text-anchor="middle" fill="#fff">T=3K</text>
<path d="M127.8,377.5 V409.0" stroke="#000" stroke-width="1.7"/>
<path d="M127.8,415.0 l-2.8,-10 h5.6 z" fill="#000"/>
<text x="119.3" y="370.2" font-family="Liberation Serif" font-size="20.5" text-anchor="start" fill="#000">H</text>
<text x="134.3" y="380.1" font-family="Liberation Sans" font-size="13.0" text-anchor="start" fill="#000">c1</text>
<clipPath id="cp2"><rect x="260.6" y="298.4" width="169.1" height="146.9"/></clipPath>
<g clip-path="url(#cp2)">
<path d="M260.6,436.7 H328.0" stroke="#000" stroke-width="1.7"/>
<path d="M289.2,446.5 L371.3,313.1" stroke="#ff0000" stroke-width="2.7" stroke-linecap="butt"/>
<circle cx="260.8" cy="434.3" r="2.9" fill="none" stroke="#000" stroke-width="1.5"/>
<circle cx="268.9" cy="436.7" r="2.9" fill="none" stroke="#000" stroke-width="1.5"/>
<circle cx="274.2" cy="436.0" r="2.9" fill="none" stroke="#000" stroke-width="1.5"/>
<circle cx="279.9" cy="434.7" r="2.9" fill="none" stroke="#000" stroke-width="1.5"/>
<circle cx="285.7" cy="431.8" r="2.9" fill="none" stroke="#000" stroke-width="1.5"/>
<circle cx="291.3" cy="428.9" r="2.9" fill="none" stroke="#000" stroke-width="1.5"/>
<circle cx="297.0" cy="424.5" r="2.9" fill="none" stroke="#000" stroke-width="1.5"/>
<circle cx="302.8" cy="419.6" r="2.9" fill="none" stroke="#000" stroke-width="1.5"/>
<circle cx="308.5" cy="414.2" r="2.9" fill="none" stroke="#000" stroke-width="1.5"/>
<circle cx="314.1" cy="407.4" r="2.9" fill="none" stroke="#000" stroke-width="1.5"/>
<circle cx="328.0" cy="384.1" r="2.9" fill="none" stroke="#000" stroke-width="1.5"/>
<circle cx="342.2" cy="360.0" r="2.9" fill="none" stroke="#000" stroke-width="1.5"/>
<circle cx="356.2" cy="337.6" r="2.9" fill="none" stroke="#000" stroke-width="1.5"/>
<circle cx="370.6" cy="314.2" r="2.9" fill="none" stroke="#000" stroke-width="1.5"/>
</g>
<rect x="260.6" y="298.4" width="169.1" height="146.9" fill="none" stroke="#222" stroke-width="0.9"/>
<path d="M288.8,298.4 v3.0 M288.8,445.3 v-3.0" stroke="#222" stroke-width="0.8"/>
<path d="M317.0,298.4 v2.0 M317.0,445.3 v-2.0" stroke="#222" stroke-width="0.8"/>
<path d="M345.1,298.4 v3.0 M345.1,445.3 v-3.0" stroke="#222" stroke-width="0.8"/>
<path d="M373.3,298.4 v2.0 M373.3,445.3 v-2.0" stroke="#222" stroke-width="0.8"/>
<path d="M401.5,298.4 v3.0 M401.5,445.3 v-3.0" stroke="#222" stroke-width="0.8"/>
<path d="M260.6,420.7 h2.0 M429.7,420.7 h-2.0" stroke="#222" stroke-width="0.8"/>
<path d="M260.6,396.1 h3.0 M429.7,396.1 h-3.0" stroke="#222" stroke-width="0.8"/>
<path d="M260.6,371.5 h2.0 M429.7,371.5 h-2.0" stroke="#222" stroke-width="0.8"/>
<path d="M260.6,346.9 h3.0 M429.7,346.9 h-3.0" stroke="#222" stroke-width="0.8"/>
<path d="M260.6,322.3 h2.0 M429.7,322.3 h-2.0" stroke="#222" stroke-width="0.8"/>
<text x="432.1" y="452.4" font-family="Liberation Sans" font-size="24.0" text-anchor="start" fill="#000">0</text>
<text x="432.1" y="403.8" font-family="Liberation Sans" font-size="24.0" text-anchor="start" fill="#000">4</text>
<text x="432.1" y="354.6" font-family="Liberation Sans" font-size="24.0" text-anchor="start" fill="#000">8</text>
<rect x="261.6" y="299.3" width="55.5" height="25.8" fill="#000"/>
<text x="289.4" y="318.4" font-family="Liberation Sans" font-size="17.2" text-anchor="middle" fill="#fff">T=5K</text>
<clipPath id="cp3"><rect x="85.3" y="454.8" width="168.6" height="145.8"/></clipPath>
<g clip-path="url(#cp3)">
<path d="M85.3,592.9 H151.8" stroke="#000" stroke-width="1.7"/>
<path d="M116.7,602.0 L195.4,471.1" stroke="#ff0000" stroke-width="2.7" stroke-linecap="butt"/>
<circle cx="85.3" cy="588.7" r="2.9" fill="none" stroke="#000" stroke-width="1.5"/>
<circle cx="93.5" cy="590.4" r="2.9" fill="none" stroke="#000" stroke-width="1.5"/>
<circle cx="98.9" cy="591.6" r="2.9" fill="none" stroke="#000" stroke-width="1.5"/>
<circle cx="104.3" cy="591.2" r="2.9" fill="none" stroke="#000" stroke-width="1.5"/>
<circle cx="110.1" cy="586.7" r="2.9" fill="none" stroke="#000" stroke-width="1.5"/>
<circle cx="115.4" cy="586.3" r="2.9" fill="none" stroke="#000" stroke-width="1.5"/>
<circle cx="121.2" cy="582.1" r="2.9" fill="none" stroke="#000" stroke-width="1.5"/>
<circle cx="126.6" cy="577.2" r="2.9" fill="none" stroke="#000" stroke-width="1.5"/>
<circle cx="132.4" cy="571.4" r="2.9" fill="none" stroke="#000" stroke-width="1.5"/>
<circle cx="138.2" cy="565.2" r="2.9" fill="none" stroke="#000" stroke-width="1.5"/>
<circle cx="152.6" cy="542.5" r="2.9" fill="none" stroke="#000" stroke-width="1.5"/>
<circle cx="166.7" cy="519.3" r="2.9" fill="none" stroke="#000" stroke-width="1.5"/>
<circle cx="180.7" cy="496.2" r="2.9" fill="none" stroke="#000" stroke-width="1.5"/>
<circle cx="194.7" cy="472.3" r="2.9" fill="none" stroke="#000" stroke-width="1.5"/>
</g>
<rect x="85.3" y="454.8" width="168.6" height="145.8" fill="none" stroke="#222" stroke-width="0.9"/>
<path d="M113.4,454.8 v3.0 M113.4,600.6 v-3.0" stroke="#222" stroke-width="0.8"/>
<path d="M141.5,454.8 v2.0 M141.5,600.6 v-2.0" stroke="#222" stroke-width="0.8"/>
<path d="M169.6,454.8 v3.0 M169.6,600.6 v-3.0" stroke="#222" stroke-width="0.8"/>
<path d="M197.7,454.8 v2.0 M197.7,600.6 v-2.0" stroke="#222" stroke-width="0.8"/>
<path d="M225.8,454.8 v3.0 M225.8,600.6 v-3.0" stroke="#222" stroke-width="0.8"/>
<path d="M85.3,571.0 h2.0 M253.9,571.0 h-2.0" stroke="#222" stroke-width="0.8"/>
<path d="M85.3,541.4 h3.0 M253.9,541.4 h-3.0" stroke="#222" stroke-width="0.8"/>
<path d="M85.3,511.8 h2.0 M253.9,511.8 h-2.0" stroke="#222" stroke-width="0.8"/>
<path d="M85.3,482.2 h3.0 M253.9,482.2 h-3.0" stroke="#222" stroke-width="0.8"/>
<text x="82.4" y="607.7" font-family="Liberation Sans" font-size="24.0" text-anchor="end" fill="#000">0</text>
<text x="82.4" y="550.4" font-family="Liberation Sans" font-size="24.0" text-anchor="end" fill="#000">4</text>
<text x="82.4" y="491.2" font-family="Liberation Sans" font-size="24.0" text-anchor="end" fill="#000">8</text>
<rect x="86.3" y="455.7" width="55.5" height="25.8" fill="#000"/>
<text x="114.1" y="474.8" font-family="Liberation Sans" font-size="17.2" text-anchor="middle" fill="#fff">T=4K</text>
<clipPath id="cp4"><rect x="262.0" y="455.0" width="168.9" height="145.8"/></clipPath>
<g clip-path="url(#cp4)">
<path d="M262.0,595.7 H328.5" stroke="#000" stroke-width="1.7"/>
<path d="M286.4,602.0 L372.3,477.2" stroke="#ff0000" stroke-width="2.7" stroke-linecap="butt"/>
<circle cx="261.0" cy="592.5" r="2.9" fill="none" stroke="#000" stroke-width="1.5"/>
<circle cx="270.5" cy="593.9" r="2.9" fill="none" stroke="#000" stroke-width="1.5"/>
<circle cx="276.0" cy="594.8" r="2.9" fill="none" stroke="#000" stroke-width="1.5"/>
<circle cx="281.5" cy="592.0" r="2.9" fill="none" stroke="#000" stroke-width="1.5"/>
<circle cx="287.0" cy="590.7" r="2.9" fill="none" stroke="#000" stroke-width="1.5"/>
<circle cx="292.9" cy="586.6" r="2.9" fill="none" stroke="#000" stroke-width="1.5"/>
<circle cx="298.4" cy="582.0" r="2.9" fill="none" stroke="#000" stroke-width="1.5"/>
<circle cx="304.3" cy="576.0" r="2.9" fill="none" stroke="#000" stroke-width="1.5"/>
<circle cx="309.8" cy="568.3" r="2.9" fill="none" stroke="#000" stroke-width="1.5"/>
<circle cx="315.3" cy="560.5" r="2.9" fill="none" stroke="#000" stroke-width="1.5"/>
<circle cx="329.5" cy="539.5" r="2.9" fill="none" stroke="#000" stroke-width="1.5"/>
<circle cx="343.6" cy="518.5" r="2.9" fill="none" stroke="#000" stroke-width="1.5"/>
<circle cx="357.3" cy="499.3" r="2.9" fill="none" stroke="#000" stroke-width="1.5"/>
<circle cx="371.5" cy="478.3" r="2.9" fill="none" stroke="#000" stroke-width="1.5"/>
</g>
<rect x="262.0" y="455.0" width="168.9" height="145.8" fill="none" stroke="#222" stroke-width="0.9"/>
<path d="M290.1,455.0 v3.0 M290.1,600.8 v-3.0" stroke="#222" stroke-width="0.8"/>
<path d="M318.3,455.0 v2.0 M318.3,600.8 v-2.0" stroke="#222" stroke-width="0.8"/>
<path d="M346.4,455.0 v3.0 M346.4,600.8 v-3.0" stroke="#222" stroke-width="0.8"/>
<path d="M374.6,455.0 v2.0 M374.6,600.8 v-2.0" stroke="#222" stroke-width="0.8"/>
<path d="M402.8,455.0 v3.0 M402.8,600.8 v-3.0" stroke="#222" stroke-width="0.8"/>
<path d="M262.0,581.3 h2.0 M430.9,581.3 h-2.0" stroke="#222" stroke-width="0.8"/>
<path d="M262.0,561.8 h3.0 M430.9,561.8 h-3.0" stroke="#222" stroke-width="0.8"/>
<path d="M262.0,542.3 h2.0 M430.9,542.3 h-2.0" stroke="#222" stroke-width="0.8"/>
<path d="M262.0,522.8 h3.0 M430.9,522.8 h-3.0" stroke="#222" stroke-width="0.8"/>
<path d="M262.0,503.3 h2.0 M430.9,503.3 h-2.0" stroke="#222" stroke-width="0.8"/>
<path d="M262.0,483.8 h3.0 M430.9,483.8 h-3.0" stroke="#222" stroke-width="0.8"/>
<path d="M262.0,464.3 h2.0 M430.9,464.3 h-2.0" stroke="#222" stroke-width="0.8"/>
<text x="433.3" y="608.4" font-family="Liberation Sans" font-size="24.0" text-anchor="start" fill="#000">0</text>
<text x="433.3" y="568.6" font-family="Liberation Sans" font-size="24.0" text-anchor="start" fill="#000">4</text>
<text x="433.3" y="529.6" font-family="Liberation Sans" font-size="24.0" text-anchor="start" fill="#000">8</text>
<text x="433.3" y="490.6" font-family="Liberation Sans" font-size="24.0" text-anchor="start" fill="#000">12</text>
<rect x="263.0" y="455.9" width="55.5" height="25.8" fill="#000"/>
<text x="290.8" y="475.0" font-family="Liberation Sans" font-size="17.2" text-anchor="middle" fill="#fff">T=6K</text>
<path d="M288.1,543.5 V576.0" stroke="#000" stroke-width="1.7"/>
<path d="M288.1,582.0 l-2.8,-10 h5.6 z" fill="#000"/>
<text x="279.3" y="529.1" font-family="Liberation Serif" font-size="20.5" text-anchor="start" fill="#000">H</text>
<text x="294.3" y="539.0" font-family="Liberation Sans" font-size="13.0" text-anchor="start" fill="#000">c1</text>
<text x="113.4" y="620.9" font-family="Liberation Sans" font-size="22.0" text-anchor="middle" fill="#000">20</text>
<text x="169.6" y="620.9" font-family="Liberation Sans" font-size="22.0" text-anchor="middle" fill="#000">40</text>
<text x="225.8" y="620.9" font-family="Liberation Sans" font-size="22.0" text-anchor="middle" fill="#000">60</text>
<text x="290.1" y="620.9" font-family="Liberation Sans" font-size="22.0" text-anchor="middle" fill="#000">20</text>
<text x="346.4" y="620.9" font-family="Liberation Sans" font-size="22.0" text-anchor="middle" fill="#000">40</text>
<text x="402.8" y="620.9" font-family="Liberation Sans" font-size="22.0" text-anchor="middle" fill="#000">60</text>
<text x="227.0" y="641.3" font-family="Liberation Serif" font-size="21.0" text-anchor="start" fill="#000">H</text>
<text x="247.6" y="641.8" font-family="Liberation Sans" font-size="24.0" text-anchor="start" fill="#000">(Oe)</text>
<g transform="translate(39.5,532.6) rotate(-90)" fill="none" stroke="#000">
<path d="M0.0,-12.0 l2.2,1.1" stroke-width="0.9"/>
<path d="M2.2,-10.9 L7.2,-0.4" stroke-width="1.9"/>
<path d="M7.2,-0.4 L11.6,-23.5 H35.8" stroke-width="1.0" stroke-linejoin="miter"/>
<path d="M99.4,-12.0 l2.2,1.1" stroke-width="0.9"/>
<path d="M101.6,-10.9 L106.6,-0.4" stroke-width="1.9"/>
<path d="M106.6,-0.4 L111.0,-23.5 H163.6" stroke-width="1.0" stroke-linejoin="miter"/>
</g>
<g transform="translate(39.5,532.6) rotate(-90)">
<text x="12.4" y="-1.2" font-family="Liberation Serif" font-size="23.5">M</text>
<text x="33.3" y="10.3" font-family="Liberation Sans" font-size="16">t</text>
<text x="45.0" y="0" font-family="Liberation Sans" font-size="27">(10</text>
<text x="84.3" y="-14.4" font-family="Liberation Sans" font-size="16.5">-2</text>
<text x="111.4" y="0" font-family="Liberation Sans" font-size="27">emu)</text>
</g>
</svg>
</body></html>
